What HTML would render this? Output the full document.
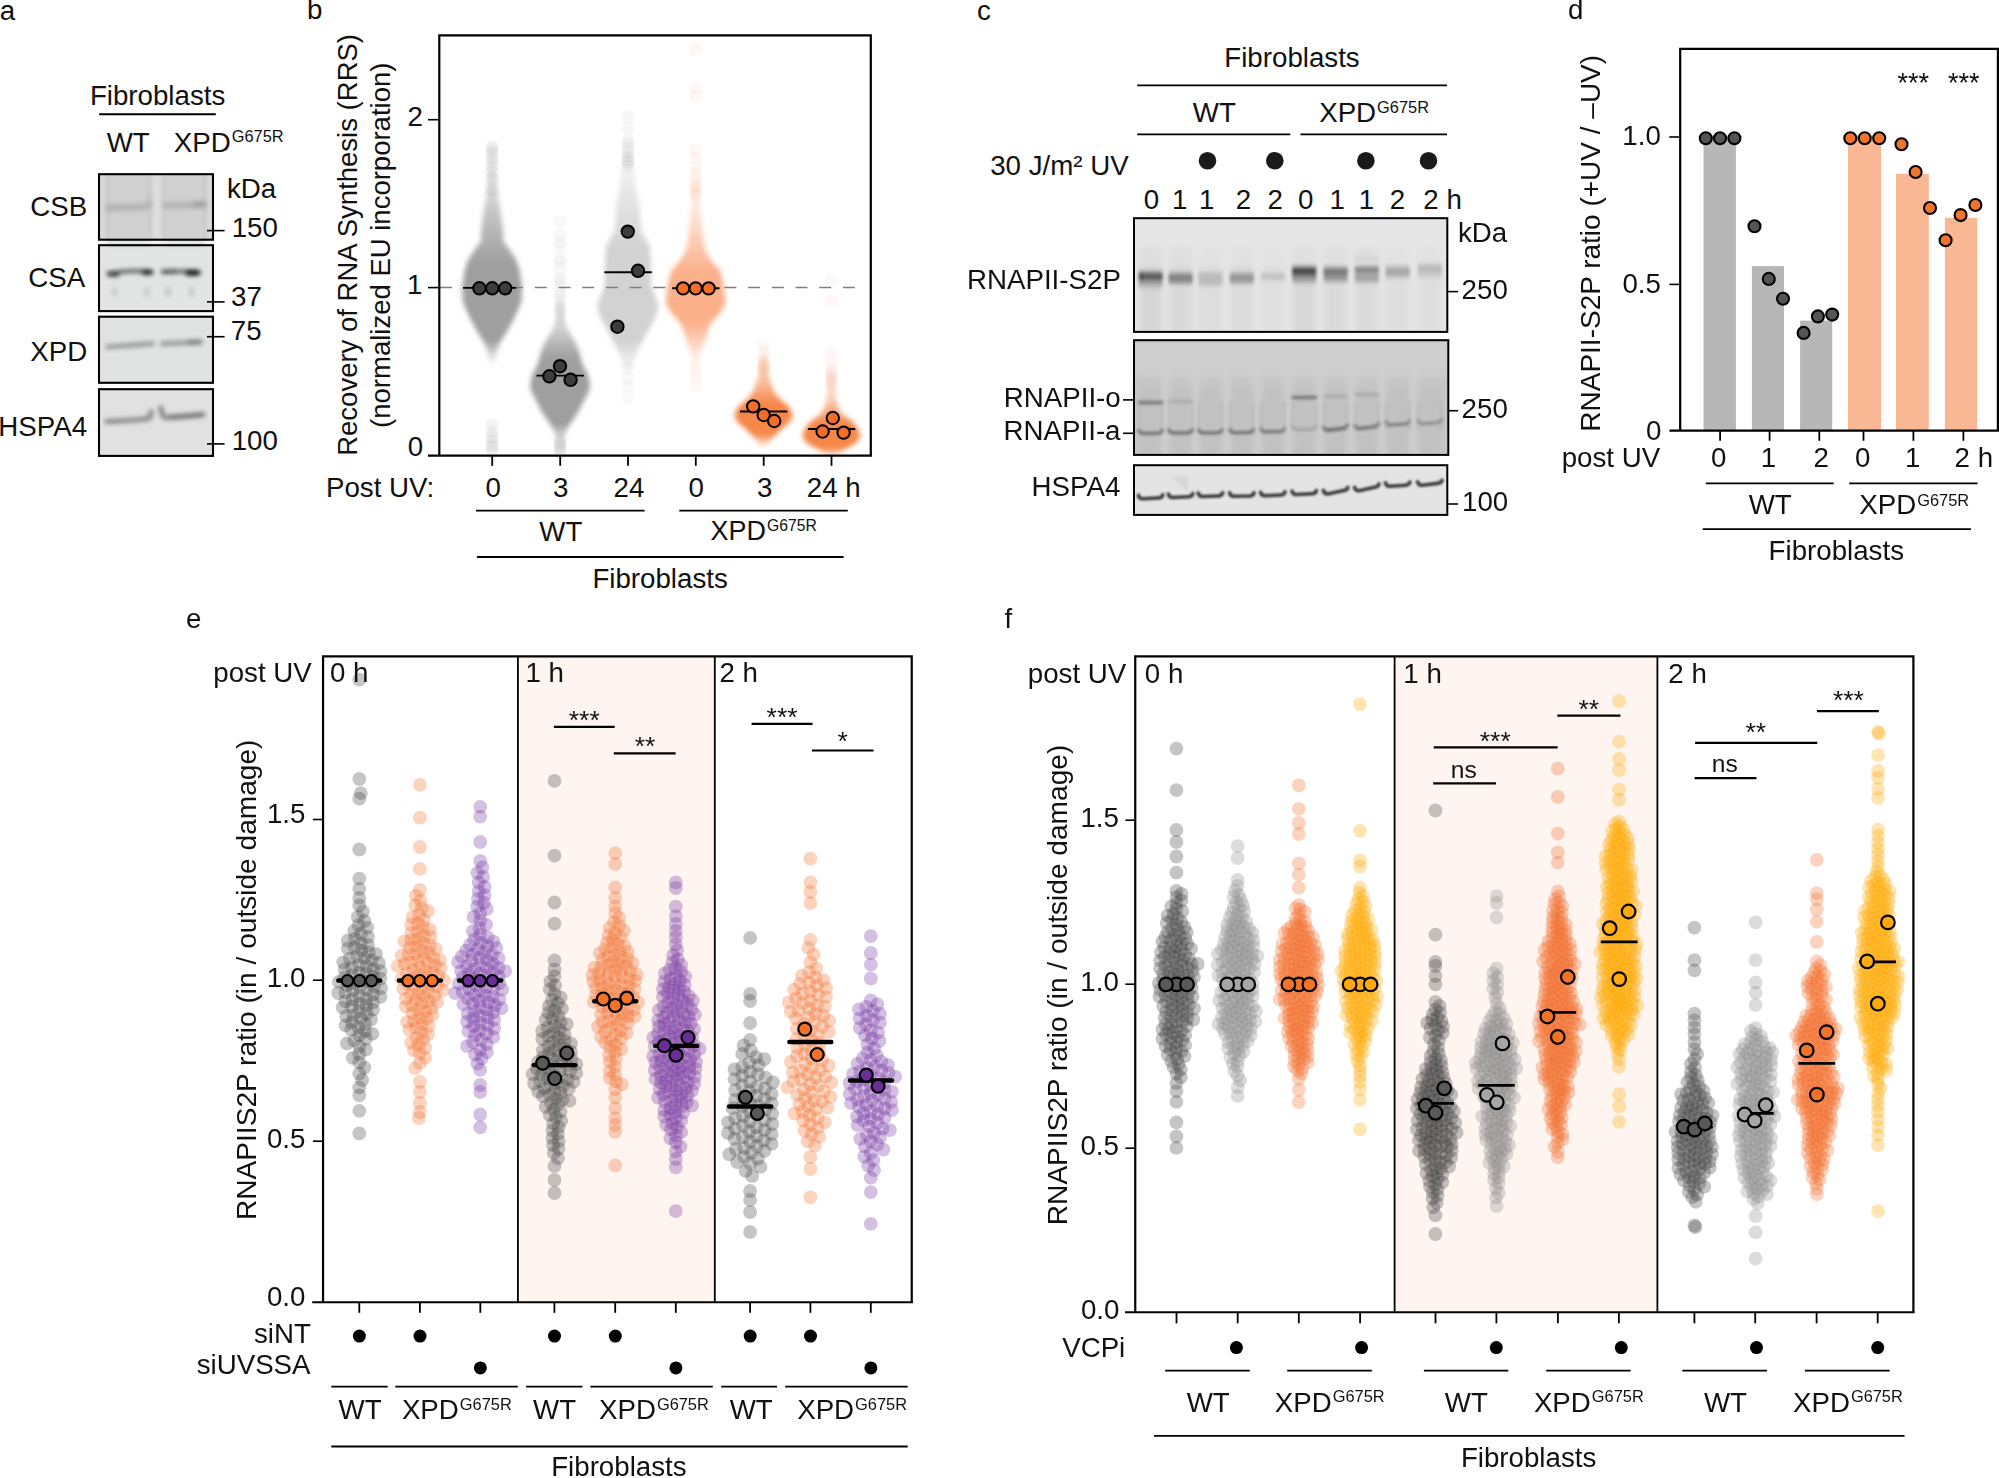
<!DOCTYPE html>
<html lang="en"><head><meta charset="utf-8"><title>Figure: RNAPII-S2P recovery after UV in XPD G675R fibroblasts</title>
<style>
html,body{margin:0;padding:0;background:#fff}
svg{display:block;font-family:"Liberation Sans",sans-serif;font-size:27.7px;fill:#111}
path{fill:none}
</style></head><body>
<svg width="1999" height="1478" viewBox="0 0 1999 1478">
<defs>
<filter id="bl1" x="-5%" y="-50%" width="110%" height="200%"><feGaussianBlur stdDeviation="0.9"/></filter>
<filter id="bl2" x="-5%" y="-50%" width="110%" height="200%"><feGaussianBlur stdDeviation="1.6"/></filter>
<filter id="bl4" x="-20%" y="-10%" width="140%" height="120%"><feGaussianBlur stdDeviation="2.4"/></filter>
<filter id="bl5" x="-5%" y="-20%" width="110%" height="140%"><feGaussianBlur stdDeviation="1.7 2.6"/></filter>
<filter id="bl1b" x="-5%" y="-50%" width="110%" height="200%"><feGaussianBlur stdDeviation="1.15"/></filter>
<filter id="bl6" x="-10%" y="-60%" width="120%" height="220%"><feGaussianBlur stdDeviation="2.4"/></filter>
<filter id="bl2b" x="-5%" y="-20%" width="110%" height="140%"><feGaussianBlur stdDeviation="1.9"/></filter>
<filter id="bl3" x="-10%" y="-10%" width="120%" height="120%"><feGaussianBlur stdDeviation="3"/></filter>
</defs>
<rect width="1999" height="1478" fill="#fff"/>

<!-- panel a -->
<text x="-0.3" y="19.5">a</text>
<text x="89.9" y="105.1">Fibroblasts</text>
<path d="M99.1 114.3H215.8" stroke="#000" stroke-width="1.9"/>
<text x="106.7" y="151.7">WT</text>
<text x="173.8" y="151.7">XPD<tspan x="231.7" y="142" font-size="16.4">G675R</tspan></text>
<clipPath id="ca"><rect x="99" y="174" width="114" height="283"/></clipPath>
<rect x="99" y="174.2" width="114" height="65.5" fill="#d9d9d9"/>
<rect x="99" y="245.2" width="114" height="65.9" fill="#e3e4e4"/>
<rect x="99" y="316.7" width="114" height="66.1" fill="#e1e2e2"/>
<rect x="99" y="389.2" width="114" height="66.7" fill="#e1e1e1"/>
<g clip-path="url(#ca)">
<g filter="url(#bl3)">
<rect x="105" y="168" width="46" height="78" fill="#cbcbcb" opacity=".6"/>
<rect x="163" y="168" width="43" height="78" fill="#cbcbcb" opacity=".6"/>
<rect x="153" y="168" width="8" height="78" fill="#e2e2e2" opacity=".6"/>
</g>
<g filter="url(#bl2)" fill="none" stroke="#bdbdbd" stroke-width="2.4" opacity=".55">
<path d="M108 176V240M150 176V240M164 176V240M204.5 176V240"/>
</g>
<g filter="url(#bl6)" fill="none" stroke-linecap="round">
<path d="M108.5 208.5Q112 207.6 120 207.2H140Q147 207 149 205" stroke="#9c9c9c" stroke-width="6.5" opacity=".62"/>
<path d="M147 204Q149.5 201 149.5 195" stroke="#aaa" stroke-width="4" opacity=".4"/>
<path d="M166 205.6Q175 205.4 185 205.3T203 204" stroke="#9c9c9c" stroke-width="6.5" opacity=".6"/>
<path d="M196 204.6H203" stroke="#8c8c8c" stroke-width="7" opacity=".5"/>
</g>
<g filter="url(#bl2b)" fill="none" stroke-linecap="round">
<path d="M108.5 273.6Q128 269.2 151 272" stroke="#6e6e6e" stroke-width="5" opacity=".9"/>
<path d="M163 271.8Q180 270.2 199 272.8" stroke="#707070" stroke-width="5" opacity=".9"/>
<path d="M110.5 274.2H117" stroke="#3a3a3a" stroke-width="5.5" opacity=".85"/>
<path d="M144.5 272.3H150" stroke="#2a2a2a" stroke-width="6" opacity=".9"/>
<path d="M165 271.8H174" stroke="#565656" stroke-width="5" opacity=".7"/>
<path d="M188.5 272.8H196.5" stroke="#1e1e1e" stroke-width="6.6" opacity=".95"/>
<path d="M114.3 289.5V294" stroke="#bcbcbc" stroke-width="6" opacity=".6"/>
<path d="M146.8 289.5V294" stroke="#bcbcbc" stroke-width="6" opacity=".6"/>
<path d="M168 289.5V294" stroke="#bcbcbc" stroke-width="6" opacity=".6"/>
<path d="M191.4 289.5V294" stroke="#bcbcbc" stroke-width="6" opacity=".6"/>
<path d="M108 346.8Q130 345.4 152 343.6" stroke="#979797" stroke-width="5.2" opacity=".9"/>
<path d="M162.5 343.6Q180 343 200.5 341.8" stroke="#979797" stroke-width="5.2" opacity=".9"/>
<path d="M190 342.3H198" stroke="#7e7e7e" stroke-width="5.6" opacity=".8"/>
<path d="M107 421.5Q130 420.6 148 418.6Q151 417.5 151 412" stroke="#878787" stroke-width="5.4" opacity=".9"/>
<path d="M161 408Q161.5 416.5 166 417.5Q185 416.6 203 414.5" stroke="#838383" stroke-width="5.4" opacity=".9"/>
<path d="M172 417.2Q188 416.4 200 415" stroke="#727272" stroke-width="4.2" opacity=".8"/>
</g></g>
<rect x="99" y="174.2" width="114" height="65.5" fill="none" stroke="#000" stroke-width="2.1"/>
<rect x="99" y="245.2" width="114" height="65.9" fill="none" stroke="#000" stroke-width="2.1"/>
<rect x="99" y="316.7" width="114" height="66.1" fill="none" stroke="#000" stroke-width="2.1"/>
<rect x="99" y="389.2" width="114" height="66.7" fill="none" stroke="#000" stroke-width="2.1"/>
<text x="30.2" y="215.6">CSB</text>
<text x="28.2" y="286.9">CSA</text>
<text x="30.3" y="361.4">XPD</text>
<text x="-1.7" y="435.9">HSPA4</text>
<text x="227" y="197.6">kDa</text>
<path d="M207 230.6H224.6" stroke="#000" stroke-width="1.6"/>
<text x="231.7" y="237.4">150</text>
<path d="M207 301.9H224.6" stroke="#000" stroke-width="1.6"/>
<text x="231.1" y="306.4">37</text>
<path d="M207 336.7H224.6" stroke="#000" stroke-width="1.6"/>
<text x="230.8" y="340.4">75</text>
<path d="M207 443.9H224.6" stroke="#000" stroke-width="1.6"/>
<text x="231.7" y="450.2">100</text>
<!-- panel b -->
<text x="307.1" y="19.3">b</text>
<text transform="translate(357.1 455.8) rotate(-90)" font-size="27.5">Recovery of RNA Synthesis (RRS)</text>
<text transform="translate(389.7 427.9) rotate(-90)" font-size="27.5">(normalized EU incorporation)</text>
<text x="407.5" y="125.5">2</text>
<text x="407.1" y="294.3">1</text>
<text x="407.7" y="456.3">0</text>
<path d="M428 119.7H438" stroke="#000" stroke-width="1.6"/>
<path d="M428 287.6H438" stroke="#000" stroke-width="1.6"/>
<g class="vb">
<g filter="url(#bl4)">
<linearGradient id="vg1" gradientUnits="userSpaceOnUse" x1="0" y1="160" x2="0" y2="363"><stop offset="0.025" stop-color="#9f9f9f" stop-opacity="0.12"/><stop offset="0.264" stop-color="#9f9f9f" stop-opacity="0.62"/><stop offset="0.502" stop-color="#9f9f9f"/><stop offset="0.887" stop-color="#9f9f9f"/><stop offset="1.000" stop-color="#9f9f9f" stop-opacity="0.1"/></linearGradient>
<path d="M488.3 160L486 197L482.3 222L481 232L481 241L473.8 251L467.7 261L464.6 270.5L462.1 287.6L462.9 302L470.3 319L478.7 334L484.8 343.6L487.9 353L489.8 363L494.4 363L496.3 353L499.4 343.6L505.5 334L513.9 319L521.3 302L522.1 287.6L519.6 270.5L516.5 261L510.4 251L503.2 241L503.2 232L501.9 222L498.2 197L495.9 160Z" style="fill:url(#vg1)"/>
<linearGradient id="vg2" gradientUnits="userSpaceOnUse" x1="0" y1="300" x2="0" y2="444"><stop offset="0.000" stop-color="#9f9f9f" stop-opacity="0.12"/><stop offset="0.201" stop-color="#9f9f9f" stop-opacity="0.5"/><stop offset="0.403" stop-color="#9f9f9f"/><stop offset="0.861" stop-color="#9f9f9f"/><stop offset="1.000" stop-color="#9f9f9f" stop-opacity="0.1"/></linearGradient>
<path d="M557.3 300L556.3 319L552.8 329L544.3 343.6L540.6 353.3L538.3 363L532.1 375.3L530.1 385L530.8 390L534.5 397.2L541.8 411.8L551.6 426.4L556.3 436.2L557.8 444L562.4 444L563.9 436.2L568.6 426.4L578.4 411.8L585.7 397.2L589.4 390L590.1 385L588.1 375.3L581.9 363L579.6 353.3L575.9 343.6L567.4 329L563.9 319L562.9 300Z" style="fill:url(#vg2)"/>
<linearGradient id="vg3" gradientUnits="userSpaceOnUse" x1="0" y1="150" x2="0" y2="373"><stop offset="0.000" stop-color="#d2d2d2" stop-opacity="0.12"/><stop offset="0.224" stop-color="#d2d2d2" stop-opacity="0.6"/><stop offset="0.448" stop-color="#d2d2d2"/><stop offset="0.852" stop-color="#d2d2d2"/><stop offset="1.000" stop-color="#d2d2d2" stop-opacity="0.1"/></linearGradient>
<path d="M624.1 150L620.1 180L619.1 192L616.1 205L615.7 217L614.5 231.5L606.1 246L604.7 265.6L604.7 285L601.1 295L597.4 304.6L598.6 312L601.1 319L609.6 334L617.1 348.5L623.1 363L625.6 373L630.2 373L632.7 363L638.7 348.5L646.2 334L654.7 319L657.2 312L658.4 304.6L654.7 295L651.1 285L651.1 265.6L649.7 246L641.3 231.5L640.1 217L639.7 205L636.7 192L635.7 180L631.7 150Z" style="fill:url(#vg3)"/>
<linearGradient id="vg4" gradientUnits="userSpaceOnUse" x1="0" y1="185" x2="0" y2="364"><stop offset="0.000" stop-color="#fbb08a" stop-opacity="0.12"/><stop offset="0.243" stop-color="#fbb08a" stop-opacity="0.5"/><stop offset="0.486" stop-color="#fbb08a"/><stop offset="0.765" stop-color="#fbb08a"/><stop offset="1.000" stop-color="#fbb08a" stop-opacity="0.1"/></linearGradient>
<path d="M692.9 185L691.9 192.6L690.9 209.6L688.4 236.4L685.9 251L679.9 260.8L671.3 270.5L667.7 285L665.7 302L667.9 308L672.5 314.4L681.1 324L685.9 338.7L690.9 353.3L693.4 364L698 364L700.5 353.3L705.5 338.7L710.3 324L718.9 314.4L723.5 308L725.7 302L723.7 285L720.1 270.5L711.5 260.8L705.5 251L703 236.4L700.5 209.6L699.5 192.6L698.5 185Z" style="fill:url(#vg4)"/>
<linearGradient id="vg5" gradientUnits="userSpaceOnUse" x1="0" y1="356" x2="0" y2="447"><stop offset="0.000" stop-color="#f5874a" stop-opacity="0.12"/><stop offset="0.264" stop-color="#f5874a" stop-opacity="0.5"/><stop offset="0.527" stop-color="#f5874a"/><stop offset="0.857" stop-color="#f5874a"/><stop offset="1.000" stop-color="#f5874a" stop-opacity="0.1"/></linearGradient>
<path d="M760.8 356L760.4 368L756.3 382.6L752.8 392.3L746.8 399.6L738 407L734.3 414.2L736.8 421.6L747.8 431.3L757.5 441L761.3 447L765.9 447L769.7 441L779.4 431.3L790.4 421.6L792.9 414.2L789.2 407L780.4 399.6L774.4 392.3L770.9 382.6L766.8 368L766.4 356Z" style="fill:url(#vg5)"/>
<linearGradient id="vg6" gradientUnits="userSpaceOnUse" x1="0" y1="372" x2="0" y2="455.5"><stop offset="0.048" stop-color="#f5874a" stop-opacity="0.12"/><stop offset="0.335" stop-color="#f5874a" stop-opacity="0.45"/><stop offset="0.623" stop-color="#f5874a"/><stop offset="0.910" stop-color="#f5874a"/><stop offset="1.000" stop-color="#f5874a" stop-opacity="0.1"/></linearGradient>
<path d="M828.6 372L827.6 392.3L825.8 404.5L820.6 414.2L810.6 421.6L804.6 428.9L802.1 436.2L807 443.5L820.6 450.8L828.6 455.5L834.2 455.5L842.2 450.8L855.8 443.5L860.7 436.2L858.2 428.9L852.2 421.6L842.2 414.2L837 404.5L835.2 392.3L834.2 372Z" style="fill:url(#vg6)"/>
</g>
<g fill="#3d3d3d" fill-opacity="0.05"><circle cx="492.1" cy="148" r="6.6"/><circle cx="492.1" cy="160" r="6.6"/><circle cx="492.1" cy="172" r="6.6"/><circle cx="492.1" cy="153" r="6.6"/><circle cx="492.1" cy="165" r="6.6"/><circle cx="492.1" cy="178" r="6.6"/><circle cx="492.1" cy="190" r="6.6"/><circle cx="492.1" cy="425" r="6.6"/><circle cx="492.1" cy="432" r="6.6"/><circle cx="492.1" cy="440" r="6.6"/><circle cx="492.1" cy="447" r="6.6"/><circle cx="492.1" cy="452" r="6.6"/><circle cx="492.1" cy="437" r="6.6"/><circle cx="492.1" cy="445" r="6.6"/></g>
<g fill="#3d3d3d" fill-opacity="0.03"><circle cx="492.1" cy="146" r="6.6"/><circle cx="492.1" cy="151" r="6.6"/><circle cx="492.1" cy="157" r="6.6"/></g>
<g fill="#3d3d3d" fill-opacity="0.03"><circle cx="560.1" cy="222" r="6.6"/><circle cx="560.1" cy="235" r="6.6"/><circle cx="560.1" cy="246" r="6.6"/><circle cx="560.1" cy="258" r="6.6"/><circle cx="560.1" cy="268" r="6.6"/><circle cx="560.1" cy="278" r="6.6"/><circle cx="560.1" cy="286" r="6.6"/><circle cx="560.1" cy="292" r="6.6"/><circle cx="560.1" cy="300" r="6.6"/><circle cx="560.1" cy="306" r="6.6"/><circle cx="560.1" cy="312" r="6.6"/><circle cx="560.1" cy="318" r="6.6"/><circle cx="560.1" cy="243" r="6.6"/><circle cx="560.1" cy="262" r="6.6"/><circle cx="560.1" cy="281" r="6.6"/><circle cx="560.1" cy="296" r="6.6"/><circle cx="560.1" cy="308" r="6.6"/></g>
<g fill="#3d3d3d" fill-opacity="0.06"><circle cx="560.1" cy="440" r="6.6"/><circle cx="560.1" cy="446" r="6.6"/><circle cx="560.1" cy="452" r="6.6"/><circle cx="560.1" cy="449" r="6.6"/><circle cx="560.1" cy="443" r="6.6"/></g>
<g fill="#3d3d3d" fill-opacity="0.045"><circle cx="627.9" cy="117" r="6.6"/><circle cx="627.9" cy="128" r="6.6"/><circle cx="627.9" cy="140" r="6.6"/><circle cx="627.9" cy="148" r="6.6"/><circle cx="627.9" cy="156" r="6.6"/><circle cx="627.9" cy="162" r="6.6"/><circle cx="627.9" cy="143" r="6.6"/><circle cx="627.9" cy="152" r="6.6"/><circle cx="627.9" cy="160" r="6.6"/><circle cx="627.9" cy="166" r="6.6"/></g>
<g fill="#3d3d3d" fill-opacity="0.03"><circle cx="627.9" cy="368" r="6.6"/><circle cx="627.9" cy="378" r="6.6"/><circle cx="627.9" cy="386" r="6.6"/><circle cx="627.9" cy="397" r="6.6"/></g>
<g fill="#f26c2a" fill-opacity="0.05"><circle cx="695.7" cy="50" r="6.6"/><circle cx="695.7" cy="88" r="6.6"/><circle cx="695.7" cy="97" r="6.6"/><circle cx="695.7" cy="150" r="6.6"/><circle cx="695.7" cy="168" r="6.6"/><circle cx="695.7" cy="158" r="6.6"/><circle cx="695.7" cy="180" r="6.6"/><circle cx="695.7" cy="188" r="6.6"/><circle cx="695.7" cy="196" r="6.6"/><circle cx="695.7" cy="175" r="6.6"/><circle cx="695.7" cy="185" r="6.6"/><circle cx="695.7" cy="192" r="6.6"/></g>
<g fill="#f26c2a" fill-opacity="0.04"><circle cx="695.7" cy="365" r="6.6"/><circle cx="695.7" cy="372" r="6.6"/><circle cx="695.7" cy="378" r="6.6"/><circle cx="695.7" cy="386" r="6.6"/></g>
<g fill="#f26c2a" fill-opacity="0.05"><circle cx="763.6" cy="345" r="6.6"/><circle cx="763.6" cy="352" r="6.6"/><circle cx="763.6" cy="358" r="6.6"/><circle cx="763.6" cy="364" r="6.6"/><circle cx="763.6" cy="368" r="6.6"/><circle cx="763.6" cy="370" r="6.6"/><circle cx="763.6" cy="374" r="6.6"/><circle cx="763.6" cy="362" r="6.6"/><circle cx="763.6" cy="366" r="6.6"/></g>
<g fill="#f26c2a" fill-opacity="0.04"><circle cx="831.4" cy="280" r="6.6"/><circle cx="831.4" cy="301" r="6.6"/><circle cx="831.4" cy="352" r="6.6"/><circle cx="831.4" cy="362" r="6.6"/><circle cx="831.4" cy="368" r="6.6"/><circle cx="831.4" cy="374" r="6.6"/><circle cx="831.4" cy="378" r="6.6"/><circle cx="831.4" cy="382" r="6.6"/><circle cx="831.4" cy="386" r="6.6"/><circle cx="831.4" cy="372" r="6.6"/><circle cx="831.4" cy="380" r="6.6"/></g>
</g>
<path d="M440 287.6H858" stroke="#7f7f7f" stroke-width="1.5" stroke-dasharray="12 11.7"/>
<path d="M463 287.9H516.2" stroke="#000" stroke-width="1.9"/>
<circle cx="479.4" cy="288.3" r="6.2" fill="#3d3d3d" stroke="#000" stroke-width="2"/>
<circle cx="492.2" cy="288.3" r="6.2" fill="#3d3d3d" stroke="#000" stroke-width="2"/>
<circle cx="505.2" cy="288.3" r="6.2" fill="#3d3d3d" stroke="#000" stroke-width="2"/>
<path d="M536.5 375.6H583.9" stroke="#000" stroke-width="1.9"/>
<circle cx="549.4" cy="376.3" r="6.2" fill="#3d3d3d" stroke="#000" stroke-width="2"/>
<circle cx="560" cy="366.2" r="6.2" fill="#3d3d3d" stroke="#000" stroke-width="2"/>
<circle cx="570.6" cy="379.8" r="6.2" fill="#3d3d3d" stroke="#000" stroke-width="2"/>
<path d="M604.4 272.3H651.8" stroke="#000" stroke-width="1.9"/>
<circle cx="627.8" cy="231.6" r="6.2" fill="#3d3d3d" stroke="#000" stroke-width="2"/>
<circle cx="638" cy="270.8" r="6.2" fill="#3d3d3d" stroke="#000" stroke-width="2"/>
<circle cx="617.4" cy="326.7" r="6.2" fill="#3d3d3d" stroke="#000" stroke-width="2"/>
<path d="M672.1 288.3H719.5" stroke="#000" stroke-width="1.9"/>
<circle cx="683.1" cy="288.4" r="6.2" fill="#f26c2a" stroke="#000" stroke-width="2"/>
<circle cx="695.7" cy="288.4" r="6.2" fill="#f26c2a" stroke="#000" stroke-width="2"/>
<circle cx="708.6" cy="288.4" r="6.2" fill="#f26c2a" stroke="#000" stroke-width="2"/>
<path d="M740 411.5H787.4" stroke="#000" stroke-width="1.9"/>
<circle cx="753.2" cy="406.4" r="6.2" fill="#f26c2a" stroke="#000" stroke-width="2"/>
<circle cx="763.7" cy="415" r="6.2" fill="#f26c2a" stroke="#000" stroke-width="2"/>
<circle cx="774.2" cy="421" r="6.2" fill="#f26c2a" stroke="#000" stroke-width="2"/>
<path d="M807.9 429H855.3" stroke="#000" stroke-width="1.9"/>
<circle cx="832.8" cy="418" r="6.2" fill="#f26c2a" stroke="#000" stroke-width="2"/>
<circle cx="822.6" cy="431.5" r="6.2" fill="#f26c2a" stroke="#000" stroke-width="2"/>
<circle cx="843.6" cy="432.6" r="6.2" fill="#f26c2a" stroke="#000" stroke-width="2"/>
<path d="M439.3 455.6V35.3H870.8V455.6" fill="none" stroke="#000" stroke-width="2.2"/>
<path d="M428 455.6H871.9" stroke="#000" stroke-width="2.1"/>
<path d="M492.2 456V465.8" stroke="#000" stroke-width="1.8"/>
<path d="M560.2 456V465.8" stroke="#000" stroke-width="1.8"/>
<path d="M628 456V465.8" stroke="#000" stroke-width="1.8"/>
<path d="M695.8 456V465.8" stroke="#000" stroke-width="1.8"/>
<path d="M763.7 456V465.8" stroke="#000" stroke-width="1.8"/>
<path d="M831.5 456V465.8" stroke="#000" stroke-width="1.8"/>
<text x="326" y="496.8">Post UV:</text>
<text x="485.5" y="496.8">0</text>
<text x="553" y="496.8">3</text>
<text x="613.6" y="496.8">24</text>
<text x="688.4" y="496.8">0</text>
<text x="756.9" y="496.8">3</text>
<text x="806.8" y="496.8">24 h</text>
<path d="M476 510.6H644.6" stroke="#000" stroke-width="1.8"/>
<path d="M679.3 510.6H847.8" stroke="#000" stroke-width="1.8"/>
<text x="539.3" y="540.6">WT</text>
<text x="710.6" y="540" font-size="26.9">XPD<tspan x="767" y="531" font-size="15.7">G675R</tspan></text>
<path d="M476.9 557H843.6" stroke="#000" stroke-width="1.8"/>
<text x="592.4" y="588">Fibroblasts</text>
<!-- panel c -->
<text x="977.1" y="19.5">c</text>
<text x="1224.3" y="66.8">Fibroblasts</text>
<path d="M1137.2 85.3H1447" stroke="#000" stroke-width="1.8"/>
<text x="1192.8" y="122">WT</text>
<text x="1319.2" y="122">XPD<tspan x="1377.1" y="112.7" font-size="16.4">G675R</tspan></text>
<path d="M1137.2 134.4H1290.3" stroke="#000" stroke-width="1.8"/>
<path d="M1300.5 134.4H1447" stroke="#000" stroke-width="1.8"/>
<text x="990.2" y="175">30 J/m² UV</text>
<circle cx="1207.5" cy="160.7" r="8.8" fill="#1a1a1a"/>
<circle cx="1274.8" cy="160.7" r="8.8" fill="#1a1a1a"/>
<circle cx="1365.9" cy="160.7" r="8.8" fill="#1a1a1a"/>
<circle cx="1428.5" cy="160.7" r="8.8" fill="#1a1a1a"/>
<text x="1143.8" y="208.8">0</text>
<text x="1171.9" y="208.8">1</text>
<text x="1199.1" y="208.8">1</text>
<text x="1235.7" y="208.8">2</text>
<text x="1267.6" y="208.8">2</text>
<text x="1297.9" y="208.8">0</text>
<text x="1329.5" y="208.8">1</text>
<text x="1358.8" y="208.8">1</text>
<text x="1389.7" y="208.8">2</text>
<text x="1423.3" y="208.8">2</text>
<text x="1446.6" y="208.8">h</text>
<rect x="1134" y="218.2" width="313.3" height="113.7" fill="#e6e6e6"/>
<rect x="1134" y="340.2" width="314.3" height="114.7" fill="#c7c7c7"/>
<rect x="1134" y="465.2" width="313.3" height="49.7" fill="#e4e4e4"/>
<clipPath id="cc1"><rect x="1134" y="218.2" width="313.3" height="113.7"/></clipPath>
<clipPath id="cc2"><rect x="1134" y="340.2" width="314.3" height="114.7"/></clipPath>
<clipPath id="cc3"><rect x="1134" y="465.2" width="313.3" height="49.7"/></clipPath>
<g clip-path="url(#cc1)">
<g filter="url(#bl3)">
<rect x="1139.4" y="266" width="22.4" height="70" fill="#c9c9c9" opacity="0.55"/>
<rect x="1139.4" y="246" width="22.4" height="24" fill="#d4d4d4" opacity="0.44"/>
<rect x="1169.4" y="266" width="22.4" height="70" fill="#c9c9c9" opacity="0.45"/>
<rect x="1169.4" y="246" width="22.4" height="24" fill="#d4d4d4" opacity="0.36"/>
<rect x="1199.2" y="266" width="22.4" height="70" fill="#c9c9c9" opacity="0.30"/>
<rect x="1199.2" y="246" width="22.4" height="24" fill="#d4d4d4" opacity="0.24"/>
<rect x="1230.6" y="266" width="22.4" height="70" fill="#c9c9c9" opacity="0.35"/>
<rect x="1230.6" y="246" width="22.4" height="24" fill="#d4d4d4" opacity="0.28"/>
<rect x="1261.6" y="266" width="22.4" height="70" fill="#c9c9c9" opacity="0.22"/>
<rect x="1261.6" y="246" width="22.4" height="24" fill="#d4d4d4" opacity="0.18"/>
<rect x="1293" y="266" width="22.4" height="70" fill="#c9c9c9" opacity="0.50"/>
<rect x="1293" y="246" width="22.4" height="24" fill="#d4d4d4" opacity="0.40"/>
<rect x="1324.4" y="266" width="22.4" height="70" fill="#c9c9c9" opacity="0.42"/>
<rect x="1324.4" y="246" width="22.4" height="24" fill="#d4d4d4" opacity="0.34"/>
<rect x="1355.6" y="266" width="22.4" height="70" fill="#c9c9c9" opacity="0.40"/>
<rect x="1355.6" y="246" width="22.4" height="24" fill="#d4d4d4" opacity="0.32"/>
<rect x="1386.5" y="266" width="22.4" height="70" fill="#c9c9c9" opacity="0.28"/>
<rect x="1386.5" y="246" width="22.4" height="24" fill="#d4d4d4" opacity="0.22"/>
<rect x="1418.6" y="266" width="22.4" height="70" fill="#c9c9c9" opacity="0.25"/>
<rect x="1418.6" y="246" width="22.4" height="24" fill="#d4d4d4" opacity="0.20"/>
</g>
<g filter="url(#bl5)" opacity=".84">
<rect x="1138.6" y="272.4" width="24" height="8.5" fill="#3c3c3c"/>
<rect x="1138.6" y="280" width="24" height="7" fill="#8a8a8a" opacity="0.7"/>
<rect x="1168.6" y="273.2" width="24" height="10" fill="#6c6c6c" opacity="0.95"/>
<rect x="1198.4" y="273.1" width="24" height="5" fill="#a2a2a2" opacity="0.9"/>
<rect x="1198.4" y="279.6" width="24" height="5.5" fill="#a6a6a6" opacity="0.9"/>
<rect x="1229.8" y="273.2" width="24" height="10" fill="#838383" opacity="0.95"/>
<rect x="1260.8" y="273.6" width="24" height="6" fill="#b0b0b0" opacity="0.9"/>
<rect x="1292.2" y="267.4" width="24" height="8" fill="#1c1c1c"/>
<rect x="1292.2" y="275.1" width="24" height="7" fill="#787878" opacity="0.8"/>
<rect x="1323.6" y="267.9" width="24" height="6.5" fill="#5c5c5c"/>
<rect x="1323.6" y="274.3" width="24" height="7" fill="#7e7e7e" opacity="0.9"/>
<rect x="1354.8" y="266.8" width="24" height="6.5" fill="#6a6a6a"/>
<rect x="1354.8" y="275.1" width="24" height="6.5" fill="#868686" opacity="0.9"/>
<rect x="1354.8" y="256.5" width="24" height="4" fill="#cacaca" opacity="0.8"/>
<rect x="1385.7" y="266.8" width="24" height="10" fill="#999" opacity="0.95"/>
<rect x="1417.8" y="264.8" width="24" height="6" fill="#a8a8a8" opacity="0.95"/>
<rect x="1417.8" y="270.8" width="24" height="6" fill="#bebebe" opacity="0.9"/>
<rect x="1139" y="272.5" width="5" height="8" fill="#222" opacity=".6"/>
</g>
<g stroke="#bdbdbd" stroke-width="1.4" opacity=".8" filter="url(#bl1)">
<path d="M1140.6 221.3H1160.6"/>
<path d="M1170.6 221.3H1190.6"/>
<path d="M1200.4 221.3H1220.4"/>
<path d="M1231.8 221.3H1251.8"/>
<path d="M1262.8 221.3H1282.8"/>
</g></g>
<g clip-path="url(#cc2)">
<g filter="url(#bl3)">
<rect x="1130" y="336" width="322" height="40" fill="#d2d2d2" opacity=".6"/>
<rect x="1139.9" y="388" width="21.4" height="75" fill="#bcbcbc" opacity=".5"/>
<rect x="1169.9" y="388" width="21.4" height="75" fill="#bcbcbc" opacity=".5"/>
<rect x="1199.7" y="388" width="21.4" height="75" fill="#bcbcbc" opacity=".5"/>
<rect x="1231.1" y="388" width="21.4" height="75" fill="#bcbcbc" opacity=".5"/>
<rect x="1262.1" y="388" width="21.4" height="75" fill="#bcbcbc" opacity=".5"/>
<rect x="1293.5" y="388" width="21.4" height="75" fill="#bcbcbc" opacity=".5"/>
<rect x="1324.9" y="388" width="21.4" height="75" fill="#bcbcbc" opacity=".5"/>
<rect x="1356.1" y="388" width="21.4" height="75" fill="#bcbcbc" opacity=".5"/>
<rect x="1387" y="388" width="21.4" height="75" fill="#bcbcbc" opacity=".5"/>
<rect x="1419.1" y="388" width="21.4" height="75" fill="#bcbcbc" opacity=".5"/>
<rect x="1163.6" y="372" width="4" height="90" fill="#d8d8d8" opacity=".75"/>
<rect x="1193.5" y="372" width="4" height="90" fill="#d8d8d8" opacity=".75"/>
<rect x="1224.1" y="372" width="4" height="90" fill="#d8d8d8" opacity=".75"/>
<rect x="1255.3" y="372" width="4" height="90" fill="#d8d8d8" opacity=".75"/>
<rect x="1286.5" y="372" width="4" height="90" fill="#d8d8d8" opacity=".75"/>
<rect x="1317.9" y="372" width="4" height="90" fill="#d8d8d8" opacity=".75"/>
<rect x="1349.2" y="372" width="4" height="90" fill="#d8d8d8" opacity=".75"/>
<rect x="1380.2" y="372" width="4" height="90" fill="#d8d8d8" opacity=".75"/>
<rect x="1411.8" y="372" width="4" height="90" fill="#d8d8d8" opacity=".75"/>
</g>
<g filter="url(#bl2)" stroke-linecap="round" fill="none">
<path d="M1139.4 402.6H1161.8" stroke="#7a7a7a" stroke-width="3.6" opacity="1"/>
<path d="M1169.4 401.5H1191.8" stroke="#a0a0a0" stroke-width="3" opacity="0.7"/>
<path d="M1293 397.5H1315.4" stroke="#787878" stroke-width="3.6" opacity="1"/>
<path d="M1324.4 396.5H1346.8" stroke="#a2a2a2" stroke-width="3" opacity="0.7"/>
<path d="M1355.6 394.6H1378" stroke="#9a9a9a" stroke-width="2.6" opacity="0.7"/>
<path d="M1138.9 430Q1139.4 433.3 1143.4 433.4L1157.8 433.2Q1161.8 433 1162.3 430" stroke="#5e5e5e" stroke-width="3.4" opacity=".8"/>
<path d="M1168.9 429.5Q1169.4 432.8 1173.4 432.9L1187.8 432.7Q1191.8 432.5 1192.3 429.5" stroke="#5a5a5a" stroke-width="3.4" opacity=".8"/>
<path d="M1198.7 429.5Q1199.2 432.8 1203.2 432.9L1217.6 432.7Q1221.6 432.5 1222.1 429.5" stroke="#5e5e5e" stroke-width="3.4" opacity=".8"/>
<path d="M1230.1 429.2Q1230.6 432.5 1234.6 432.6L1249 432.4Q1253 432.2 1253.5 429.2" stroke="#5c5c5c" stroke-width="3.4" opacity=".8"/>
<path d="M1261.1 428.4Q1261.6 431.7 1265.6 431.8L1280 431.6Q1284 431.4 1284.5 428.4" stroke="#666" stroke-width="3.4" opacity=".8"/>
<path d="M1292.5 426Q1293 429.3 1297 429.4L1311.4 429.2Q1315.4 429 1315.9 426" stroke="#9a9a9a" stroke-width="3" opacity=".8"/>
<path d="M1323.9 427.2Q1324.4 430.5 1328.4 430.1L1342.8 428.5Q1346.8 427.8 1347.3 424.8" stroke="#585858" stroke-width="3.6" opacity=".8"/>
<path d="M1355.1 425.6Q1355.6 428.9 1359.6 428.5L1374 426.9Q1378 426.2 1378.5 423.2" stroke="#626262" stroke-width="3.4" opacity=".8"/>
<path d="M1386 421.8Q1386.5 425.1 1390.5 425L1404.9 424Q1408.9 423.6 1409.4 420.6" stroke="#6a6a6a" stroke-width="3.2" opacity=".8"/>
<path d="M1418.1 420.5Q1418.6 423.8 1422.6 423.7L1437 422.7Q1441 422.3 1441.5 419.3" stroke="#7c7c7c" stroke-width="3" opacity=".8"/>
<path d="M1139.2 403V430M1162 403V430" stroke="#a6a6a6" stroke-width="1.8" opacity=".5"/>
<path d="M1169.2 403V430M1192 403V430" stroke="#a6a6a6" stroke-width="1.8" opacity=".5"/>
<path d="M1199 403V430M1221.8 403V430" stroke="#a6a6a6" stroke-width="1.8" opacity=".5"/>
<path d="M1230.4 403V430M1253.2 403V430" stroke="#a6a6a6" stroke-width="1.8" opacity=".5"/>
<path d="M1261.4 403V430M1284.2 403V430" stroke="#a6a6a6" stroke-width="1.8" opacity=".5"/>
<path d="M1292.8 403V430M1315.6 403V430" stroke="#a6a6a6" stroke-width="1.8" opacity=".5"/>
<path d="M1324.2 403V430M1347 403V430" stroke="#a6a6a6" stroke-width="1.8" opacity=".5"/>
<path d="M1355.4 403V430M1378.2 403V430" stroke="#a6a6a6" stroke-width="1.8" opacity=".5"/>
<path d="M1386.3 403V430M1409.1 403V430" stroke="#a6a6a6" stroke-width="1.8" opacity=".5"/>
<path d="M1418.4 403V430M1441.2 403V430" stroke="#a6a6a6" stroke-width="1.8" opacity=".5"/>
</g></g>
<g clip-path="url(#cc3)">
<g filter="url(#bl1b)" stroke-linecap="round" fill="none">
<path d="M1138.4 495.2Q1139 498.8 1142.9 498.7L1158.3 498Q1162.2 497.8 1162.8 494.8" stroke="#3a3a3a" stroke-width="3.6"/>
<path d="M1168.4 494Q1169 497.6 1172.9 497.5L1188.3 496.8Q1192.2 496.6 1192.8 493.6" stroke="#3a3a3a" stroke-width="3.6"/>
<path d="M1198.2 493Q1198.8 496.6 1202.7 496.5L1218.1 496Q1222 495.8 1222.6 492.8" stroke="#3a3a3a" stroke-width="3.6"/>
<path d="M1229.6 492.8Q1230.2 496.4 1234.1 496.3L1249.5 496Q1253.4 495.8 1254 492.8" stroke="#3a3a3a" stroke-width="3.6"/>
<path d="M1260.6 492.2Q1261.2 495.8 1265.1 495.7L1280.5 495Q1284.4 494.8 1285 491.8" stroke="#3a3a3a" stroke-width="3.6"/>
<path d="M1292 491Q1292.6 494.6 1296.5 494.5L1311.9 493.8Q1315.8 493.6 1316.4 490.6" stroke="#3a3a3a" stroke-width="3.6"/>
<path d="M1323.4 490.4Q1324 494 1327.9 493.9L1343.3 490.6Q1347.2 490.4 1347.8 487.4" stroke="#3a3a3a" stroke-width="3.6"/>
<path d="M1354.6 487.2Q1355.2 490.8 1359.1 490.7L1374.5 487.2Q1378.4 487 1379 484" stroke="#3a3a3a" stroke-width="3.6"/>
<path d="M1385.5 482.8Q1386.1 486.4 1390 486.3L1405.4 485.2Q1409.3 485 1409.9 482" stroke="#3a3a3a" stroke-width="3.6"/>
<path d="M1417.6 481.8Q1418.2 485.4 1422.1 485.3L1437.5 483.4Q1441.4 483.2 1442 480.2" stroke="#3a3a3a" stroke-width="3.6"/>
</g>
<path d="M1172 476.5L1187.5 476.5L1187.5 492Z" style="fill:#cdcdcd" opacity=".55" filter="url(#bl1)"/>
</g>
<rect x="1134" y="218.2" width="313.3" height="113.7" fill="none" stroke="#000" stroke-width="2.0"/>
<rect x="1134" y="340.2" width="314.3" height="114.7" fill="none" stroke="#000" stroke-width="2.0"/>
<rect x="1134" y="465.2" width="313.3" height="49.7" fill="none" stroke="#000" stroke-width="2.0"/>
<text x="967" y="288.9">RNAPII-S2P</text>
<text x="1003.8" y="406.8">RNAPII-o</text>
<text x="1003.6" y="440.1">RNAPII-a</text>
<text x="1031.6" y="496.3">HSPA4</text>
<path d="M1123 399.9H1133" stroke="#000" stroke-width="1.6"/>
<path d="M1123 433.3H1133" stroke="#000" stroke-width="1.6"/>
<text x="1458" y="241.9">kDa</text>
<text x="1461.6" y="298.6">250</text>
<text x="1461.6" y="417.6">250</text>
<text x="1462" y="510.6">100</text>
<path d="M1448.1 291.6H1458.1" stroke="#000" stroke-width="1.6"/>
<path d="M1448.6 410.7H1458.1" stroke="#000" stroke-width="1.6"/>
<path d="M1448.1 504H1458.1" stroke="#000" stroke-width="1.6"/>
<!-- panel d -->
<text x="1567.9" y="19.3">d</text>
<text transform="translate(1600.2 431.7) rotate(-90)" font-size="28">RNAPII-S2P ratio (+UV / –UV)</text>
<rect x="1703.5" y="137.5" width="32.4" height="293.5" fill="#b7b7b7"/>
<rect x="1751.9" y="266.1" width="32.1" height="164.9" fill="#b7b7b7"/>
<rect x="1800.1" y="320.6" width="32.1" height="110.4" fill="#b7b7b7"/>
<rect x="1848" y="137.5" width="33" height="293.5" fill="#f9b793"/>
<rect x="1896" y="173.9" width="32.8" height="257.1" fill="#f9b793"/>
<rect x="1944.9" y="217.8" width="32.3" height="213.2" fill="#f9b793"/>
<circle cx="1705.8" cy="138.2" r="6" fill="#555" stroke="#000" stroke-width="2.1"/>
<circle cx="1720" cy="138.2" r="6" fill="#555" stroke="#000" stroke-width="2.1"/>
<circle cx="1734.4" cy="138.2" r="6" fill="#555" stroke="#000" stroke-width="2.1"/>
<circle cx="1754.5" cy="226.3" r="6" fill="#555" stroke="#000" stroke-width="2.1"/>
<circle cx="1768.8" cy="278.9" r="6" fill="#555" stroke="#000" stroke-width="2.1"/>
<circle cx="1783" cy="298.8" r="6" fill="#555" stroke="#000" stroke-width="2.1"/>
<circle cx="1803.6" cy="332.9" r="6" fill="#555" stroke="#000" stroke-width="2.1"/>
<circle cx="1817.9" cy="316.4" r="6" fill="#555" stroke="#000" stroke-width="2.1"/>
<circle cx="1832.2" cy="314.6" r="6" fill="#555" stroke="#000" stroke-width="2.1"/>
<circle cx="1850.3" cy="138.2" r="6" fill="#f1742a" stroke="#000" stroke-width="2.1"/>
<circle cx="1864.7" cy="138.2" r="6" fill="#f1742a" stroke="#000" stroke-width="2.1"/>
<circle cx="1879.2" cy="138.2" r="6" fill="#f1742a" stroke="#000" stroke-width="2.1"/>
<circle cx="1901.5" cy="144.2" r="6" fill="#f1742a" stroke="#000" stroke-width="2.1"/>
<circle cx="1915.6" cy="172" r="6" fill="#f1742a" stroke="#000" stroke-width="2.1"/>
<circle cx="1930" cy="208" r="6" fill="#f1742a" stroke="#000" stroke-width="2.1"/>
<circle cx="1960.6" cy="215.1" r="6" fill="#f1742a" stroke="#000" stroke-width="2.1"/>
<circle cx="1975.4" cy="205" r="6" fill="#f1742a" stroke="#000" stroke-width="2.1"/>
<circle cx="1945.6" cy="240.2" r="6" fill="#f1742a" stroke="#000" stroke-width="2.1"/>
<path d="M1680.2 430.6V48.9H1997.9V430.6" fill="none" stroke="#000" stroke-width="2.2"/>
<path d="M1669.5 430.6H1999" stroke="#000" stroke-width="2.1"/>
<path d="M1669.3 137H1679.2" stroke="#000" stroke-width="1.6"/>
<path d="M1669.3 284.4H1679.2" stroke="#000" stroke-width="1.6"/>
<text x="1622.3" y="145.4">1.0</text>
<text x="1622.4" y="293.4">0.5</text>
<text x="1645.9" y="439.8">0</text>
<path d="M1720.1 431V440.8" stroke="#000" stroke-width="1.8"/>
<path d="M1769.6 431V440.8" stroke="#000" stroke-width="1.8"/>
<path d="M1819.3 431V440.8" stroke="#000" stroke-width="1.8"/>
<path d="M1863.5 431V440.8" stroke="#000" stroke-width="1.8"/>
<path d="M1913.4 431V440.8" stroke="#000" stroke-width="1.8"/>
<path d="M1963.4 431V440.8" stroke="#000" stroke-width="1.8"/>
<text x="1561.7" y="467.1">post UV</text>
<text x="1711" y="467.1">0</text>
<text x="1760.8" y="467.1">1</text>
<text x="1813.6" y="467.1">2</text>
<text x="1855" y="467.1">0</text>
<text x="1904.9" y="467.1">1</text>
<text x="1954.5" y="467.1">2</text>
<text x="1977.7" y="467.1">h</text>
<path d="M1705.8 483.3H1833.7" stroke="#000" stroke-width="1.8"/>
<path d="M1849.2 483.3H1977.6" stroke="#000" stroke-width="1.8"/>
<text x="1748.7" y="514.4">WT</text>
<text x="1859.3" y="514.4">XPD<tspan x="1917.2" y="505.6" font-size="16.4">G675R</tspan></text>
<path d="M1702.8 529.2H1970.9" stroke="#000" stroke-width="1.8"/>
<text x="1768.6" y="559.5">Fibroblasts</text>
<text x="1897.6" y="91.9" font-size="27">***</text>
<text x="1947.9" y="91.9" font-size="27">***</text>
<!-- panel e -->
<text x="185.9" y="627.5">e</text>
<rect x="517.9" y="656.4" width="196.9" height="645.9" fill="#fef4f0"/>
<g fill-opacity=".3" class="sw">
<g fill="#404040"><circle cx="359.3" cy="878.6" r="6.9"/><circle cx="359.3" cy="888.8" r="6.9"/><circle cx="359.3" cy="897.9" r="6.9"/><circle cx="359.3" cy="905.4" r="6.9"/><circle cx="362.9" cy="911.5" r="6.9"/><circle cx="357.8" cy="916.9" r="6.9"/><circle cx="364.4" cy="921" r="6.9"/><circle cx="358.6" cy="925.2" r="6.9"/><circle cx="367.3" cy="927.6" r="6.9"/><circle cx="354.2" cy="930.9" r="6.9"/><circle cx="360.8" cy="934" r="6.9"/><circle cx="368" cy="936.8" r="6.9"/><circle cx="354.9" cy="938.6" r="6.9"/><circle cx="347.7" cy="940.7" r="6.9"/><circle cx="360.8" cy="943.3" r="6.9"/><circle cx="368" cy="945" r="6.9"/><circle cx="354.9" cy="947.5" r="6.9"/><circle cx="347.7" cy="948.7" r="6.9"/><circle cx="361.5" cy="950.7" r="6.9"/><circle cx="368.8" cy="952.3" r="6.9"/><circle cx="376" cy="953.8" r="6.9"/><circle cx="357.1" cy="956.5" r="6.9"/><circle cx="364.4" cy="957.9" r="6.9"/><circle cx="349.8" cy="958.7" r="6.9"/><circle cx="371.7" cy="960.3" r="6.9"/><circle cx="343.3" cy="962.3" r="6.9"/><circle cx="378.9" cy="963" r="6.9"/><circle cx="359.3" cy="964.9" r="6.9"/><circle cx="366.6" cy="966" r="6.9"/><circle cx="352" cy="967.6" r="6.9"/><circle cx="373.1" cy="969.1" r="6.9"/><circle cx="344.7" cy="969.5" r="6.9"/><circle cx="380.4" cy="971.2" r="6.9"/><circle cx="359.3" cy="972.7" r="6.9"/><circle cx="366.6" cy="973.4" r="6.9"/><circle cx="352" cy="975.5" r="6.9"/><circle cx="373.1" cy="976.3" r="6.9"/><circle cx="344.7" cy="977.3" r="6.9"/><circle cx="380.4" cy="978.6" r="6.9"/><circle cx="360.8" cy="979.6" r="6.9"/><circle cx="368" cy="981.7" r="6.9"/><circle cx="338.9" cy="981.9" r="6.9"/><circle cx="354.2" cy="983.4" r="6.9"/><circle cx="346.9" cy="985" r="6.9"/><circle cx="373.9" cy="986.3" r="6.9"/><circle cx="360" cy="987.8" r="6.9"/><circle cx="381.1" cy="988.2" r="6.9"/><circle cx="367.3" cy="989.6" r="6.9"/><circle cx="352.8" cy="990.4" r="6.9"/><circle cx="345.5" cy="992.4" r="6.9"/><circle cx="338.2" cy="993" r="6.9"/><circle cx="373.1" cy="994.4" r="6.9"/><circle cx="359.3" cy="995.9" r="6.9"/><circle cx="380.4" cy="996.8" r="6.9"/><circle cx="366.6" cy="998.8" r="6.9"/><circle cx="352.8" cy="999.4" r="6.9"/><circle cx="345.5" cy="1001.3" r="6.9"/><circle cx="373.1" cy="1002.4" r="6.9"/><circle cx="359.3" cy="1003.7" r="6.9"/><circle cx="366.6" cy="1005.7" r="6.9"/><circle cx="352" cy="1006.4" r="6.9"/><circle cx="342.6" cy="1007.7" r="6.9"/><circle cx="373.1" cy="1009.6" r="6.9"/><circle cx="359.3" cy="1011" r="6.9"/><circle cx="366.6" cy="1013.5" r="6.9"/><circle cx="353.5" cy="1015.3" r="6.9"/><circle cx="346.2" cy="1016.2" r="6.9"/><circle cx="360.8" cy="1018.2" r="6.9"/><circle cx="370.9" cy="1019.5" r="6.9"/><circle cx="352" cy="1022.1" r="6.9"/><circle cx="365.1" cy="1023.9" r="6.9"/><circle cx="345.5" cy="1025.4" r="6.9"/><circle cx="358.6" cy="1027.5" r="6.9"/><circle cx="351.3" cy="1029.6" r="6.9"/><circle cx="365.1" cy="1031.1" r="6.9"/><circle cx="372.4" cy="1033.9" r="6.9"/><circle cx="359.3" cy="1035.2" r="6.9"/><circle cx="365.8" cy="1038.8" r="6.9"/><circle cx="354.2" cy="1040.5" r="6.9"/><circle cx="346.9" cy="1043.3" r="6.9"/><circle cx="359.3" cy="1046.5" r="6.9"/><circle cx="365.8" cy="1049.6" r="6.9"/><circle cx="359.3" cy="1054" r="6.9"/><circle cx="352.8" cy="1057.8" r="6.9"/><circle cx="359.3" cy="1062.3" r="6.9"/><circle cx="364.4" cy="1067.6" r="6.9"/><circle cx="359.3" cy="1073.6" r="6.9"/><circle cx="362.2" cy="1080" r="6.9"/><circle cx="359.3" cy="1087.4" r="6.9"/><circle cx="359.3" cy="1095.3" r="6.9"/><circle cx="359.3" cy="679.6" r="6.9"/><circle cx="359.3" cy="779" r="6.9"/><circle cx="360.8" cy="793.2" r="6.9"/><circle cx="359.3" cy="798.6" r="6.9"/><circle cx="359.3" cy="849.5" r="6.9"/><circle cx="359.3" cy="1110.8" r="6.9"/><circle cx="359.3" cy="1133.4" r="6.9"/></g>
<g fill="#f26c2a"><circle cx="419.9" cy="890" r="6.9"/><circle cx="415.9" cy="895.7" r="6.9"/><circle cx="420.6" cy="900.7" r="6.9"/><circle cx="415.2" cy="905.1" r="6.9"/><circle cx="421.9" cy="907.9" r="6.9"/><circle cx="427.9" cy="911" r="6.9"/><circle cx="419.2" cy="914.5" r="6.9"/><circle cx="412.5" cy="917.2" r="6.9"/><circle cx="423.9" cy="919.8" r="6.9"/><circle cx="417.9" cy="923" r="6.9"/><circle cx="411.2" cy="924.7" r="6.9"/><circle cx="423.2" cy="927.2" r="6.9"/><circle cx="429.9" cy="929.3" r="6.9"/><circle cx="417.9" cy="931.4" r="6.9"/><circle cx="411.2" cy="932.9" r="6.9"/><circle cx="423.9" cy="935.5" r="6.9"/><circle cx="430.6" cy="937" r="6.9"/><circle cx="417.9" cy="939" r="6.9"/><circle cx="411.2" cy="940.1" r="6.9"/><circle cx="404.5" cy="941.4" r="6.9"/><circle cx="423.2" cy="943.4" r="6.9"/><circle cx="429.9" cy="945.3" r="6.9"/><circle cx="416.6" cy="946" r="6.9"/><circle cx="409.9" cy="947.3" r="6.9"/><circle cx="436" cy="948.9" r="6.9"/><circle cx="421.9" cy="950.9" r="6.9"/><circle cx="428.6" cy="952.5" r="6.9"/><circle cx="415.2" cy="953.8" r="6.9"/><circle cx="408.5" cy="954.3" r="6.9"/><circle cx="401.8" cy="955.5" r="6.9"/><circle cx="423.9" cy="957.6" r="6.9"/><circle cx="433.3" cy="957.7" r="6.9"/><circle cx="440" cy="959.8" r="6.9"/><circle cx="417.9" cy="960.9" r="6.9"/><circle cx="411.2" cy="962.3" r="6.9"/><circle cx="427.9" cy="963.1" r="6.9"/><circle cx="404.5" cy="964.1" r="6.9"/><circle cx="434.6" cy="965.3" r="6.9"/><circle cx="397.8" cy="966.2" r="6.9"/><circle cx="419.9" cy="967.6" r="6.9"/><circle cx="440.7" cy="968.3" r="6.9"/><circle cx="413.2" cy="970.3" r="6.9"/><circle cx="425.9" cy="970.9" r="6.9"/><circle cx="432.6" cy="972.3" r="6.9"/><circle cx="407.2" cy="973.7" r="6.9"/><circle cx="419.2" cy="974.6" r="6.9"/><circle cx="438.7" cy="975.9" r="6.9"/><circle cx="427.9" cy="977.5" r="6.9"/><circle cx="413.2" cy="978.6" r="6.9"/><circle cx="401.8" cy="978.7" r="6.9"/><circle cx="444" cy="980.4" r="6.9"/><circle cx="419.9" cy="981.5" r="6.9"/><circle cx="407.8" cy="983.5" r="6.9"/><circle cx="429.9" cy="984.2" r="6.9"/><circle cx="414.5" cy="986" r="6.9"/><circle cx="436.6" cy="986.7" r="6.9"/><circle cx="422.6" cy="987.9" r="6.9"/><circle cx="403.2" cy="988.9" r="6.9"/><circle cx="442.7" cy="990.2" r="6.9"/><circle cx="428.6" cy="991.6" r="6.9"/><circle cx="417.9" cy="992.9" r="6.9"/><circle cx="411.2" cy="994.4" r="6.9"/><circle cx="434.6" cy="995.6" r="6.9"/><circle cx="423.9" cy="996.7" r="6.9"/><circle cx="405.8" cy="998.6" r="6.9"/><circle cx="415.9" cy="999.6" r="6.9"/><circle cx="428.6" cy="1001.7" r="6.9"/><circle cx="437.3" cy="1002.2" r="6.9"/><circle cx="421.9" cy="1003.4" r="6.9"/><circle cx="412.5" cy="1005.7" r="6.9"/><circle cx="405.8" cy="1006.6" r="6.9"/><circle cx="431.3" cy="1008" r="6.9"/><circle cx="418.6" cy="1009.6" r="6.9"/><circle cx="425.3" cy="1011.4" r="6.9"/><circle cx="412.5" cy="1013.2" r="6.9"/><circle cx="432.6" cy="1014.9" r="6.9"/><circle cx="419.9" cy="1017.3" r="6.9"/><circle cx="426.6" cy="1018.7" r="6.9"/><circle cx="413.9" cy="1020.7" r="6.9"/><circle cx="407.2" cy="1021.9" r="6.9"/><circle cx="421.9" cy="1024" r="6.9"/><circle cx="428.6" cy="1026.2" r="6.9"/><circle cx="415.9" cy="1027.8" r="6.9"/><circle cx="409.2" cy="1029.7" r="6.9"/><circle cx="421.2" cy="1032.4" r="6.9"/><circle cx="427.9" cy="1034.4" r="6.9"/><circle cx="416.6" cy="1037.8" r="6.9"/><circle cx="423.2" cy="1039.5" r="6.9"/><circle cx="411.2" cy="1042.5" r="6.9"/><circle cx="418.6" cy="1044.9" r="6.9"/><circle cx="425.3" cy="1047.7" r="6.9"/><circle cx="413.9" cy="1050.4" r="6.9"/><circle cx="419.9" cy="1053.5" r="6.9"/><circle cx="425.3" cy="1057.8" r="6.9"/><circle cx="419.9" cy="1062.9" r="6.9"/><circle cx="415.2" cy="1068.1" r="6.9"/><circle cx="419.9" cy="784.8" r="6.9"/><circle cx="419.9" cy="817.7" r="6.9"/><circle cx="419.9" cy="847" r="6.9"/><circle cx="419.9" cy="868.9" r="6.9"/><circle cx="419.9" cy="1082" r="6.9"/><circle cx="419.9" cy="1092" r="6.9"/><circle cx="419.9" cy="1103" r="6.9"/><circle cx="419.9" cy="1112" r="6.9"/><circle cx="418.9" cy="1118" r="6.9"/></g>
<g fill="#7030a0"><circle cx="480.2" cy="861" r="6.9"/><circle cx="482.4" cy="867.5" r="6.9"/><circle cx="477.3" cy="872.8" r="6.9"/><circle cx="483.1" cy="877.1" r="6.9"/><circle cx="478.7" cy="882.5" r="6.9"/><circle cx="484.6" cy="887" r="6.9"/><circle cx="478.7" cy="891.2" r="6.9"/><circle cx="484.6" cy="895.2" r="6.9"/><circle cx="478" cy="899" r="6.9"/><circle cx="483.9" cy="902.8" r="6.9"/><circle cx="477.3" cy="906.5" r="6.9"/><circle cx="486.8" cy="909" r="6.9"/><circle cx="480.2" cy="913.2" r="6.9"/><circle cx="473.6" cy="917" r="6.9"/><circle cx="480.2" cy="920.3" r="6.9"/><circle cx="486.1" cy="924.7" r="6.9"/><circle cx="479.5" cy="928.2" r="6.9"/><circle cx="472.8" cy="931.2" r="6.9"/><circle cx="480.2" cy="935" r="6.9"/><circle cx="487.6" cy="937.1" r="6.9"/><circle cx="474.3" cy="939.4" r="6.9"/><circle cx="493.4" cy="941.6" r="6.9"/><circle cx="480.9" cy="942.8" r="6.9"/><circle cx="469.9" cy="944.9" r="6.9"/><circle cx="487.6" cy="946.2" r="6.9"/><circle cx="496.4" cy="947.9" r="6.9"/><circle cx="478" cy="949.2" r="6.9"/><circle cx="466.2" cy="950.7" r="6.9"/><circle cx="484.6" cy="952.5" r="6.9"/><circle cx="472.8" cy="954.3" r="6.9"/><circle cx="492" cy="954.8" r="6.9"/><circle cx="461.8" cy="956.4" r="6.9"/><circle cx="479.5" cy="957.6" r="6.9"/><circle cx="498.6" cy="958.5" r="6.9"/><circle cx="486.8" cy="959.7" r="6.9"/><circle cx="471.4" cy="960.9" r="6.9"/><circle cx="458.1" cy="962.2" r="6.9"/><circle cx="492.7" cy="963.7" r="6.9"/><circle cx="480.2" cy="965.3" r="6.9"/><circle cx="467" cy="966.5" r="6.9"/><circle cx="486.8" cy="967.8" r="6.9"/><circle cx="498.6" cy="967.8" r="6.9"/><circle cx="474.3" cy="969.1" r="6.9"/><circle cx="461.1" cy="970.8" r="6.9"/><circle cx="505.2" cy="971.2" r="6.9"/><circle cx="492.7" cy="972" r="6.9"/><circle cx="480.2" cy="973.4" r="6.9"/><circle cx="469.2" cy="974" r="6.9"/><circle cx="486.8" cy="976.2" r="6.9"/><circle cx="498.6" cy="976.4" r="6.9"/><circle cx="462.6" cy="977.6" r="6.9"/><circle cx="475.1" cy="978.3" r="6.9"/><circle cx="492.7" cy="980.4" r="6.9"/><circle cx="481.7" cy="981.4" r="6.9"/><circle cx="468.4" cy="981.8" r="6.9"/><circle cx="499.3" cy="983.4" r="6.9"/><circle cx="458.9" cy="983.7" r="6.9"/><circle cx="475.8" cy="985.4" r="6.9"/><circle cx="486.1" cy="986.8" r="6.9"/><circle cx="493.4" cy="988" r="6.9"/><circle cx="469.2" cy="988.8" r="6.9"/><circle cx="502.2" cy="989.7" r="6.9"/><circle cx="480.2" cy="990.9" r="6.9"/><circle cx="462.6" cy="991.8" r="6.9"/><circle cx="455.2" cy="993.1" r="6.9"/><circle cx="474.3" cy="994.9" r="6.9"/><circle cx="485.3" cy="995.8" r="6.9"/><circle cx="492.7" cy="996.6" r="6.9"/><circle cx="467.7" cy="998.4" r="6.9"/><circle cx="499.3" cy="999.3" r="6.9"/><circle cx="479.5" cy="1000.3" r="6.9"/><circle cx="488.3" cy="1002.1" r="6.9"/><circle cx="472.8" cy="1003.3" r="6.9"/><circle cx="463.3" cy="1004.2" r="6.9"/><circle cx="494.9" cy="1005.3" r="6.9"/><circle cx="480.2" cy="1007.1" r="6.9"/><circle cx="501.5" cy="1008.1" r="6.9"/><circle cx="486.8" cy="1009.7" r="6.9"/><circle cx="474.3" cy="1011.2" r="6.9"/><circle cx="493.4" cy="1012.3" r="6.9"/><circle cx="467.7" cy="1013.7" r="6.9"/><circle cx="480.2" cy="1015.8" r="6.9"/><circle cx="487.6" cy="1017.1" r="6.9"/><circle cx="473.6" cy="1018.5" r="6.9"/><circle cx="494.2" cy="1019.9" r="6.9"/><circle cx="467" cy="1021.6" r="6.9"/><circle cx="480.2" cy="1023" r="6.9"/><circle cx="487.6" cy="1024.8" r="6.9"/><circle cx="473.6" cy="1026.2" r="6.9"/><circle cx="494.2" cy="1028.3" r="6.9"/><circle cx="480.2" cy="1030.4" r="6.9"/><circle cx="468.4" cy="1031.2" r="6.9"/><circle cx="486.8" cy="1033.7" r="6.9"/><circle cx="475.1" cy="1035.4" r="6.9"/><circle cx="493.4" cy="1037.2" r="6.9"/><circle cx="480.9" cy="1040" r="6.9"/><circle cx="472.8" cy="1042" r="6.9"/><circle cx="486.8" cy="1044.2" r="6.9"/><circle cx="467" cy="1046.1" r="6.9"/><circle cx="480.2" cy="1049.8" r="6.9"/><circle cx="486.8" cy="1052.3" r="6.9"/><circle cx="475.1" cy="1054.7" r="6.9"/><circle cx="481.7" cy="1058.3" r="6.9"/><circle cx="477.3" cy="1063.7" r="6.9"/><circle cx="480.2" cy="1069.9" r="6.9"/><circle cx="480.2" cy="806.8" r="6.9"/><circle cx="480.2" cy="816.6" r="6.9"/><circle cx="480.2" cy="842" r="6.9"/><circle cx="480.2" cy="1085" r="6.9"/><circle cx="480.2" cy="1092" r="6.9"/><circle cx="480.2" cy="1114.5" r="6.9"/><circle cx="480.2" cy="1127.3" r="6.9"/></g>
<g fill="#404040"><circle cx="554.5" cy="960.5" r="6.9"/><circle cx="554.5" cy="969.5" r="6.9"/><circle cx="554.5" cy="976.2" r="6.9"/><circle cx="550.4" cy="981.3" r="6.9"/><circle cx="555.2" cy="985.7" r="6.9"/><circle cx="549.7" cy="989.4" r="6.9"/><circle cx="554.5" cy="993.9" r="6.9"/><circle cx="560.6" cy="997.3" r="6.9"/><circle cx="551.8" cy="1000" r="6.9"/><circle cx="557.9" cy="1003.3" r="6.9"/><circle cx="549" cy="1006.2" r="6.9"/><circle cx="562" cy="1008.6" r="6.9"/><circle cx="554.5" cy="1010.4" r="6.9"/><circle cx="548.4" cy="1013" r="6.9"/><circle cx="558.6" cy="1015.8" r="6.9"/><circle cx="552.5" cy="1018.6" r="6.9"/><circle cx="545.6" cy="1019.7" r="6.9"/><circle cx="560.6" cy="1022.1" r="6.9"/><circle cx="566.8" cy="1024.1" r="6.9"/><circle cx="554.5" cy="1026" r="6.9"/><circle cx="547.7" cy="1027.3" r="6.9"/><circle cx="560" cy="1029.8" r="6.9"/><circle cx="542.2" cy="1031" r="6.9"/><circle cx="553.8" cy="1032.8" r="6.9"/><circle cx="564.7" cy="1034.2" r="6.9"/><circle cx="548.4" cy="1036.5" r="6.9"/><circle cx="558.6" cy="1037.5" r="6.9"/><circle cx="542.2" cy="1038.8" r="6.9"/><circle cx="564.7" cy="1041" r="6.9"/><circle cx="553.1" cy="1041.9" r="6.9"/><circle cx="570.9" cy="1043.4" r="6.9"/><circle cx="559.3" cy="1045.2" r="6.9"/><circle cx="548.4" cy="1046.4" r="6.9"/><circle cx="564.7" cy="1048.8" r="6.9"/><circle cx="554.5" cy="1050" r="6.9"/><circle cx="542.9" cy="1050.5" r="6.9"/><circle cx="570.9" cy="1051.8" r="6.9"/><circle cx="549" cy="1054" r="6.9"/><circle cx="558.6" cy="1055.3" r="6.9"/><circle cx="565.4" cy="1056.2" r="6.9"/><circle cx="542.9" cy="1057.4" r="6.9"/><circle cx="553.1" cy="1059.2" r="6.9"/><circle cx="571.5" cy="1059.2" r="6.9"/><circle cx="561.3" cy="1061.4" r="6.9"/><circle cx="538.1" cy="1061.9" r="6.9"/><circle cx="548.4" cy="1063.8" r="6.9"/><circle cx="576.3" cy="1064.2" r="6.9"/><circle cx="566.8" cy="1065.1" r="6.9"/><circle cx="554.5" cy="1066.8" r="6.9"/><circle cx="543.6" cy="1068.3" r="6.9"/><circle cx="536.8" cy="1068.5" r="6.9"/><circle cx="560" cy="1070.3" r="6.9"/><circle cx="570.2" cy="1070.7" r="6.9"/><circle cx="549.7" cy="1071.5" r="6.9"/><circle cx="576.3" cy="1073" r="6.9"/><circle cx="532.7" cy="1074.1" r="6.9"/><circle cx="541.6" cy="1074.6" r="6.9"/><circle cx="554.5" cy="1076.5" r="6.9"/><circle cx="561.3" cy="1077.5" r="6.9"/><circle cx="547.7" cy="1078.4" r="6.9"/><circle cx="567.4" cy="1079.6" r="6.9"/><circle cx="540.2" cy="1081.1" r="6.9"/><circle cx="573.6" cy="1081.9" r="6.9"/><circle cx="556.5" cy="1082.8" r="6.9"/><circle cx="534.1" cy="1083.5" r="6.9"/><circle cx="550.4" cy="1085" r="6.9"/><circle cx="562.7" cy="1086" r="6.9"/><circle cx="544.3" cy="1088.3" r="6.9"/><circle cx="568.8" cy="1088.8" r="6.9"/><circle cx="554.5" cy="1090.2" r="6.9"/><circle cx="538.1" cy="1091.6" r="6.9"/><circle cx="560.6" cy="1092.7" r="6.9"/><circle cx="549.7" cy="1094.8" r="6.9"/><circle cx="542.9" cy="1096" r="6.9"/><circle cx="555.9" cy="1098.3" r="6.9"/><circle cx="562.7" cy="1099.6" r="6.9"/><circle cx="569.5" cy="1100.9" r="6.9"/><circle cx="551.1" cy="1102.8" r="6.9"/><circle cx="557.9" cy="1104.6" r="6.9"/><circle cx="545.6" cy="1106.8" r="6.9"/><circle cx="553.8" cy="1109.8" r="6.9"/><circle cx="560.6" cy="1111.6" r="6.9"/><circle cx="549.7" cy="1114.9" r="6.9"/><circle cx="555.9" cy="1117.1" r="6.9"/><circle cx="561.3" cy="1120.8" r="6.9"/><circle cx="553.1" cy="1123.3" r="6.9"/><circle cx="558.6" cy="1127.2" r="6.9"/><circle cx="552.5" cy="1130.3" r="6.9"/><circle cx="557.9" cy="1133.9" r="6.9"/><circle cx="552.5" cy="1138" r="6.9"/><circle cx="558.6" cy="1141.2" r="6.9"/><circle cx="553.1" cy="1145" r="6.9"/><circle cx="558.6" cy="1148.6" r="6.9"/><circle cx="553.8" cy="1153.1" r="6.9"/><circle cx="557.9" cy="1158.2" r="6.9"/><circle cx="554.5" cy="1166" r="6.9"/><circle cx="554.5" cy="780.9" r="6.9"/><circle cx="554.5" cy="855.7" r="6.9"/><circle cx="554.5" cy="902.5" r="6.9"/><circle cx="554.5" cy="923.7" r="6.9"/><circle cx="554.5" cy="1180" r="6.9"/><circle cx="554.5" cy="1193" r="6.9"/></g>
<g fill="#f26c2a"><circle cx="615.2" cy="887.5" r="6.9"/><circle cx="615.2" cy="897.8" r="6.9"/><circle cx="615.2" cy="906.2" r="6.9"/><circle cx="615.2" cy="912.9" r="6.9"/><circle cx="619.2" cy="918" r="6.9"/><circle cx="613.9" cy="922.1" r="6.9"/><circle cx="619.2" cy="925.7" r="6.9"/><circle cx="609.8" cy="927.7" r="6.9"/><circle cx="623.9" cy="930.6" r="6.9"/><circle cx="615.2" cy="933.3" r="6.9"/><circle cx="608.5" cy="935.2" r="6.9"/><circle cx="620.6" cy="937.3" r="6.9"/><circle cx="613.2" cy="939.7" r="6.9"/><circle cx="607.2" cy="942.4" r="6.9"/><circle cx="617.9" cy="944.2" r="6.9"/><circle cx="624.6" cy="946" r="6.9"/><circle cx="611.9" cy="947.7" r="6.9"/><circle cx="605.2" cy="948.8" r="6.9"/><circle cx="619.2" cy="950.6" r="6.9"/><circle cx="627.9" cy="951.9" r="6.9"/><circle cx="599.8" cy="953.1" r="6.9"/><circle cx="614.5" cy="955.1" r="6.9"/><circle cx="607.8" cy="955.9" r="6.9"/><circle cx="620.6" cy="957.4" r="6.9"/><circle cx="627.3" cy="958.7" r="6.9"/><circle cx="602.5" cy="959.8" r="6.9"/><circle cx="613.2" cy="961.6" r="6.9"/><circle cx="632.6" cy="962.9" r="6.9"/><circle cx="619.2" cy="964.1" r="6.9"/><circle cx="607.8" cy="965.2" r="6.9"/><circle cx="625.9" cy="966" r="6.9"/><circle cx="601.1" cy="967.1" r="6.9"/><circle cx="594.4" cy="967.7" r="6.9"/><circle cx="614.5" cy="968.9" r="6.9"/><circle cx="621.2" cy="970.6" r="6.9"/><circle cx="630.6" cy="971" r="6.9"/><circle cx="609.2" cy="972.5" r="6.9"/><circle cx="599.1" cy="973.5" r="6.9"/><circle cx="636.6" cy="974.3" r="6.9"/><circle cx="592.4" cy="974.8" r="6.9"/><circle cx="615.2" cy="976.1" r="6.9"/><circle cx="622.6" cy="977.1" r="6.9"/><circle cx="605.8" cy="978.3" r="6.9"/><circle cx="629.3" cy="978.8" r="6.9"/><circle cx="599.8" cy="980.5" r="6.9"/><circle cx="635.3" cy="980.8" r="6.9"/><circle cx="593.1" cy="981.6" r="6.9"/><circle cx="615.2" cy="983.2" r="6.9"/><circle cx="608.5" cy="984.5" r="6.9"/><circle cx="621.9" cy="985.1" r="6.9"/><circle cx="628.6" cy="986.2" r="6.9"/><circle cx="602.5" cy="987.3" r="6.9"/><circle cx="595.8" cy="988" r="6.9"/><circle cx="634.6" cy="989.1" r="6.9"/><circle cx="615.2" cy="989.8" r="6.9"/><circle cx="608.5" cy="991.6" r="6.9"/><circle cx="621.2" cy="992.8" r="6.9"/><circle cx="627.9" cy="993.4" r="6.9"/><circle cx="602.5" cy="994" r="6.9"/><circle cx="595.8" cy="995.4" r="6.9"/><circle cx="615.2" cy="996.8" r="6.9"/><circle cx="633.3" cy="997.4" r="6.9"/><circle cx="609.2" cy="998.8" r="6.9"/><circle cx="623.9" cy="998.9" r="6.9"/><circle cx="600.5" cy="1000.3" r="6.9"/><circle cx="593.8" cy="1002.2" r="6.9"/><circle cx="638" cy="1002.3" r="6.9"/><circle cx="615.2" cy="1003.5" r="6.9"/><circle cx="621.9" cy="1005.2" r="6.9"/><circle cx="609.2" cy="1005.8" r="6.9"/><circle cx="602.5" cy="1007.1" r="6.9"/><circle cx="627.3" cy="1009.1" r="6.9"/><circle cx="634" cy="1009.6" r="6.9"/><circle cx="615.2" cy="1011.6" r="6.9"/><circle cx="607.8" cy="1012.4" r="6.9"/><circle cx="621.9" cy="1013.2" r="6.9"/><circle cx="601.1" cy="1014.3" r="6.9"/><circle cx="627.9" cy="1016.1" r="6.9"/><circle cx="634.6" cy="1016.4" r="6.9"/><circle cx="615.2" cy="1018.2" r="6.9"/><circle cx="621.9" cy="1019.9" r="6.9"/><circle cx="609.2" cy="1021" r="6.9"/><circle cx="602.5" cy="1022" r="6.9"/><circle cx="627.9" cy="1023.2" r="6.9"/><circle cx="616.5" cy="1024.8" r="6.9"/><circle cx="597.8" cy="1026.6" r="6.9"/><circle cx="610.5" cy="1027.9" r="6.9"/><circle cx="620.6" cy="1030.3" r="6.9"/><circle cx="605.2" cy="1031.6" r="6.9"/><circle cx="626.6" cy="1032.9" r="6.9"/><circle cx="615.2" cy="1035.1" r="6.9"/><circle cx="601.1" cy="1036.9" r="6.9"/><circle cx="621.2" cy="1038" r="6.9"/><circle cx="611.2" cy="1040.3" r="6.9"/><circle cx="605.2" cy="1042.5" r="6.9"/><circle cx="615.9" cy="1044.8" r="6.9"/><circle cx="609.8" cy="1047.2" r="6.9"/><circle cx="621.2" cy="1049.2" r="6.9"/><circle cx="615.2" cy="1052.2" r="6.9"/><circle cx="609.2" cy="1055.3" r="6.9"/><circle cx="615.9" cy="1058.8" r="6.9"/><circle cx="609.8" cy="1061.9" r="6.9"/><circle cx="615.2" cy="1066.7" r="6.9"/><circle cx="609.8" cy="1070.8" r="6.9"/><circle cx="615.2" cy="1074.5" r="6.9"/><circle cx="609.8" cy="1078.3" r="6.9"/><circle cx="615.9" cy="1081.4" r="6.9"/><circle cx="621.9" cy="1084.3" r="6.9"/><circle cx="615.2" cy="1089.3" r="6.9"/><circle cx="615.2" cy="1097.7" r="6.9"/><circle cx="615.2" cy="853.2" r="6.9"/><circle cx="615.2" cy="864" r="6.9"/><circle cx="615.2" cy="1108" r="6.9"/><circle cx="615.2" cy="1118" r="6.9"/><circle cx="615.2" cy="1125" r="6.9"/><circle cx="615.2" cy="1131.9" r="6.9"/><circle cx="615.2" cy="1165.5" r="6.9"/></g>
<g fill="#7030a0"><circle cx="675.8" cy="906.7" r="6.9"/><circle cx="675.8" cy="916.1" r="6.9"/><circle cx="675.8" cy="924" r="6.9"/><circle cx="675.8" cy="931" r="6.9"/><circle cx="675.8" cy="937.4" r="6.9"/><circle cx="675.8" cy="944.4" r="6.9"/><circle cx="677.2" cy="950.4" r="6.9"/><circle cx="673.1" cy="955.1" r="6.9"/><circle cx="677.8" cy="959.5" r="6.9"/><circle cx="672.4" cy="962.3" r="6.9"/><circle cx="681.2" cy="964.9" r="6.9"/><circle cx="675.8" cy="968.2" r="6.9"/><circle cx="669.7" cy="969.6" r="6.9"/><circle cx="681.2" cy="971.9" r="6.9"/><circle cx="664.9" cy="973.5" r="6.9"/><circle cx="675.8" cy="975.9" r="6.9"/><circle cx="685.3" cy="976.7" r="6.9"/><circle cx="670.4" cy="979.2" r="6.9"/><circle cx="679.9" cy="980.5" r="6.9"/><circle cx="664.2" cy="981.6" r="6.9"/><circle cx="674.4" cy="983.7" r="6.9"/><circle cx="684.6" cy="985" r="6.9"/><circle cx="669" cy="986.8" r="6.9"/><circle cx="679.2" cy="987.8" r="6.9"/><circle cx="662.9" cy="989.1" r="6.9"/><circle cx="673.8" cy="990.9" r="6.9"/><circle cx="684" cy="991.6" r="6.9"/><circle cx="667.6" cy="993.1" r="6.9"/><circle cx="678.5" cy="995.1" r="6.9"/><circle cx="688.7" cy="996" r="6.9"/><circle cx="662.9" cy="996.8" r="6.9"/><circle cx="673.1" cy="998.3" r="6.9"/><circle cx="682.6" cy="1000.1" r="6.9"/><circle cx="692.8" cy="1000.5" r="6.9"/><circle cx="668.3" cy="1002.2" r="6.9"/><circle cx="676.5" cy="1003.7" r="6.9"/><circle cx="687.4" cy="1004.2" r="6.9"/><circle cx="663.5" cy="1006.4" r="6.9"/><circle cx="681.9" cy="1007.4" r="6.9"/><circle cx="671.7" cy="1008.1" r="6.9"/><circle cx="691.5" cy="1009.1" r="6.9"/><circle cx="658.8" cy="1010.1" r="6.9"/><circle cx="677.2" cy="1011.5" r="6.9"/><circle cx="667" cy="1012.5" r="6.9"/><circle cx="683.3" cy="1013.8" r="6.9"/><circle cx="694.9" cy="1014.5" r="6.9"/><circle cx="673.1" cy="1016.1" r="6.9"/><circle cx="688.7" cy="1016.6" r="6.9"/><circle cx="663.5" cy="1017.7" r="6.9"/><circle cx="678.5" cy="1019.7" r="6.9"/><circle cx="658.1" cy="1020.4" r="6.9"/><circle cx="669.7" cy="1021.3" r="6.9"/><circle cx="684.6" cy="1022" r="6.9"/><circle cx="690.8" cy="1023.7" r="6.9"/><circle cx="664.2" cy="1024" r="6.9"/><circle cx="675.8" cy="1026.1" r="6.9"/><circle cx="658.8" cy="1026.7" r="6.9"/><circle cx="681.9" cy="1027.8" r="6.9"/><circle cx="669.7" cy="1028.3" r="6.9"/><circle cx="694.2" cy="1029.1" r="6.9"/><circle cx="687.4" cy="1030.4" r="6.9"/><circle cx="664.2" cy="1031.8" r="6.9"/><circle cx="674.4" cy="1032.2" r="6.9"/><circle cx="658.1" cy="1033.5" r="6.9"/><circle cx="679.9" cy="1035.1" r="6.9"/><circle cx="669.7" cy="1036" r="6.9"/><circle cx="686" cy="1036.7" r="6.9"/><circle cx="692.1" cy="1036.8" r="6.9"/><circle cx="653.3" cy="1037.7" r="6.9"/><circle cx="675.1" cy="1038.8" r="6.9"/><circle cx="664.9" cy="1040" r="6.9"/><circle cx="680.6" cy="1041.5" r="6.9"/><circle cx="658.8" cy="1041.6" r="6.9"/><circle cx="688.7" cy="1042.4" r="6.9"/><circle cx="671.7" cy="1044.2" r="6.9"/><circle cx="694.2" cy="1045.5" r="6.9"/><circle cx="663.5" cy="1046" r="6.9"/><circle cx="654.7" cy="1046.4" r="6.9"/><circle cx="677.2" cy="1047.8" r="6.9"/><circle cx="683.3" cy="1048.5" r="6.9"/><circle cx="699.6" cy="1048.9" r="6.9"/><circle cx="671.7" cy="1050.9" r="6.9"/><circle cx="688.7" cy="1051.3" r="6.9"/><circle cx="665.6" cy="1052.8" r="6.9"/><circle cx="679.2" cy="1053.8" r="6.9"/><circle cx="659.5" cy="1054" r="6.9"/><circle cx="694.2" cy="1054.6" r="6.9"/><circle cx="653.3" cy="1056.2" r="6.9"/><circle cx="673.8" cy="1056.8" r="6.9"/><circle cx="684" cy="1057.7" r="6.9"/><circle cx="667.6" cy="1058.8" r="6.9"/><circle cx="690.1" cy="1059.3" r="6.9"/><circle cx="661.5" cy="1060.4" r="6.9"/><circle cx="677.8" cy="1061.6" r="6.9"/><circle cx="696.2" cy="1061.8" r="6.9"/><circle cx="655.4" cy="1062.5" r="6.9"/><circle cx="672.4" cy="1064.4" r="6.9"/><circle cx="683.3" cy="1065.2" r="6.9"/><circle cx="666.3" cy="1065.8" r="6.9"/><circle cx="689.4" cy="1066.2" r="6.9"/><circle cx="660.1" cy="1067.4" r="6.9"/><circle cx="677.8" cy="1068.1" r="6.9"/><circle cx="695.5" cy="1068.7" r="6.9"/><circle cx="654.7" cy="1070" r="6.9"/><circle cx="672.4" cy="1071.1" r="6.9"/><circle cx="683.3" cy="1071.5" r="6.9"/><circle cx="666.3" cy="1072.5" r="6.9"/><circle cx="689.4" cy="1073" r="6.9"/><circle cx="677.8" cy="1074.4" r="6.9"/><circle cx="660.8" cy="1075.8" r="6.9"/><circle cx="694.9" cy="1076.5" r="6.9"/><circle cx="671.7" cy="1077.2" r="6.9"/><circle cx="683.3" cy="1077.7" r="6.9"/><circle cx="655.4" cy="1078.9" r="6.9"/><circle cx="666.3" cy="1079.8" r="6.9"/><circle cx="676.5" cy="1080.9" r="6.9"/><circle cx="688.1" cy="1082.1" r="6.9"/><circle cx="660.8" cy="1082.7" r="6.9"/><circle cx="694.2" cy="1083.5" r="6.9"/><circle cx="671.7" cy="1085.2" r="6.9"/><circle cx="680.6" cy="1085.5" r="6.9"/><circle cx="665.6" cy="1086.5" r="6.9"/><circle cx="686" cy="1088.3" r="6.9"/><circle cx="659.5" cy="1088.9" r="6.9"/><circle cx="675.8" cy="1090" r="6.9"/><circle cx="692.1" cy="1090.7" r="6.9"/><circle cx="669.7" cy="1091.9" r="6.9"/><circle cx="681.2" cy="1093.4" r="6.9"/><circle cx="663.5" cy="1094.4" r="6.9"/><circle cx="687.4" cy="1095.3" r="6.9"/><circle cx="675.8" cy="1096.3" r="6.9"/><circle cx="658.1" cy="1097.7" r="6.9"/><circle cx="681.2" cy="1099.7" r="6.9"/><circle cx="671" cy="1100.4" r="6.9"/><circle cx="664.9" cy="1101.8" r="6.9"/><circle cx="686.7" cy="1102.5" r="6.9"/><circle cx="675.8" cy="1104.7" r="6.9"/><circle cx="692.1" cy="1105.5" r="6.9"/><circle cx="681.9" cy="1106.6" r="6.9"/><circle cx="670.4" cy="1108" r="6.9"/><circle cx="664.2" cy="1110.1" r="6.9"/><circle cx="675.8" cy="1111.3" r="6.9"/><circle cx="683.3" cy="1112.7" r="6.9"/><circle cx="670.4" cy="1114.7" r="6.9"/><circle cx="664.2" cy="1116.5" r="6.9"/><circle cx="675.8" cy="1118" r="6.9"/><circle cx="681.2" cy="1120.8" r="6.9"/><circle cx="672.4" cy="1123.1" r="6.9"/><circle cx="666.3" cy="1124.8" r="6.9"/><circle cx="677.2" cy="1127.2" r="6.9"/><circle cx="671" cy="1129.4" r="6.9"/><circle cx="681.2" cy="1132.2" r="6.9"/><circle cx="675.8" cy="1135.4" r="6.9"/><circle cx="670.4" cy="1138.3" r="6.9"/><circle cx="675.8" cy="1142.3" r="6.9"/><circle cx="680.6" cy="1146.6" r="6.9"/><circle cx="675.8" cy="1151.7" r="6.9"/><circle cx="675.8" cy="1159" r="6.9"/><circle cx="675.8" cy="1167.3" r="6.9"/><circle cx="675.8" cy="882.4" r="6.9"/><circle cx="675.8" cy="888" r="6.9"/><circle cx="675.8" cy="1211.1" r="6.9"/></g>
<g fill="#404040"><circle cx="750.1" cy="1039.8" r="6.9"/><circle cx="743.6" cy="1045.3" r="6.9"/><circle cx="750.8" cy="1050.3" r="6.9"/><circle cx="742.3" cy="1053.9" r="6.9"/><circle cx="756" cy="1057.1" r="6.9"/><circle cx="764.4" cy="1059.2" r="6.9"/><circle cx="749.5" cy="1062.6" r="6.9"/><circle cx="758.6" cy="1065.4" r="6.9"/><circle cx="742.3" cy="1067" r="6.9"/><circle cx="734.5" cy="1069.4" r="6.9"/><circle cx="750.1" cy="1071.9" r="6.9"/><circle cx="757.9" cy="1074.3" r="6.9"/><circle cx="742.3" cy="1075.7" r="6.9"/><circle cx="765.7" cy="1077.7" r="6.9"/><circle cx="734.5" cy="1079.2" r="6.9"/><circle cx="750.1" cy="1081.7" r="6.9"/><circle cx="772.9" cy="1082.4" r="6.9"/><circle cx="742.3" cy="1085.3" r="6.9"/><circle cx="756.6" cy="1086.9" r="6.9"/><circle cx="765.1" cy="1088.6" r="6.9"/><circle cx="735.1" cy="1090.1" r="6.9"/><circle cx="749.5" cy="1091.5" r="6.9"/><circle cx="771.6" cy="1093.9" r="6.9"/><circle cx="756.6" cy="1095.8" r="6.9"/><circle cx="743" cy="1097.1" r="6.9"/><circle cx="764.4" cy="1098.9" r="6.9"/><circle cx="735.1" cy="1099.8" r="6.9"/><circle cx="750.1" cy="1102.5" r="6.9"/><circle cx="771.6" cy="1103.5" r="6.9"/><circle cx="757.9" cy="1105.4" r="6.9"/><circle cx="742.3" cy="1106.2" r="6.9"/><circle cx="732.6" cy="1108.2" r="6.9"/><circle cx="765.1" cy="1109.7" r="6.9"/><circle cx="750.1" cy="1111.8" r="6.9"/><circle cx="772.2" cy="1113.8" r="6.9"/><circle cx="757.9" cy="1114.5" r="6.9"/><circle cx="743" cy="1115.8" r="6.9"/><circle cx="735.1" cy="1118.2" r="6.9"/><circle cx="764.4" cy="1120.1" r="6.9"/><circle cx="750.1" cy="1121.2" r="6.9"/><circle cx="728" cy="1122.3" r="6.9"/><circle cx="772.2" cy="1124" r="6.9"/><circle cx="743" cy="1125.6" r="6.9"/><circle cx="756.6" cy="1127" r="6.9"/><circle cx="735.1" cy="1128.6" r="6.9"/><circle cx="764.4" cy="1129.9" r="6.9"/><circle cx="749.5" cy="1131.5" r="6.9"/><circle cx="728" cy="1133.2" r="6.9"/><circle cx="771.6" cy="1134.1" r="6.9"/><circle cx="756.6" cy="1136.2" r="6.9"/><circle cx="743" cy="1137.2" r="6.9"/><circle cx="734.5" cy="1138.6" r="6.9"/><circle cx="763.8" cy="1140.3" r="6.9"/><circle cx="750.1" cy="1141.6" r="6.9"/><circle cx="771.6" cy="1143.9" r="6.9"/><circle cx="757.2" cy="1146" r="6.9"/><circle cx="744.2" cy="1147.8" r="6.9"/><circle cx="735.8" cy="1149" r="6.9"/><circle cx="764.4" cy="1150.9" r="6.9"/><circle cx="751.4" cy="1152.6" r="6.9"/><circle cx="729.3" cy="1154.4" r="6.9"/><circle cx="744.2" cy="1156.9" r="6.9"/><circle cx="757.9" cy="1158.5" r="6.9"/><circle cx="737.1" cy="1162" r="6.9"/><circle cx="750.1" cy="1163.5" r="6.9"/><circle cx="760.5" cy="1166.9" r="6.9"/><circle cx="745.6" cy="1170.9" r="6.9"/><circle cx="752.1" cy="1176.1" r="6.9"/><circle cx="750.1" cy="937.9" r="6.9"/><circle cx="750.1" cy="993.8" r="6.9"/><circle cx="750.1" cy="1001" r="6.9"/><circle cx="750.1" cy="1023" r="6.9"/><circle cx="750.1" cy="1191" r="6.9"/><circle cx="750.1" cy="1200" r="6.9"/><circle cx="750.1" cy="1212.2" r="6.9"/><circle cx="750.1" cy="1232" r="6.9"/></g>
<g fill="#f26c2a"><circle cx="810.4" cy="939.8" r="6.9"/><circle cx="808.4" cy="947.9" r="6.9"/><circle cx="813.7" cy="954.6" r="6.9"/><circle cx="810.4" cy="962.2" r="6.9"/><circle cx="816.3" cy="968.3" r="6.9"/><circle cx="809.1" cy="972.1" r="6.9"/><circle cx="801.9" cy="975.6" r="6.9"/><circle cx="815.6" cy="977.4" r="6.9"/><circle cx="823.5" cy="980.1" r="6.9"/><circle cx="809.1" cy="982.8" r="6.9"/><circle cx="799.9" cy="983.7" r="6.9"/><circle cx="816.9" cy="985.7" r="6.9"/><circle cx="826.1" cy="988.1" r="6.9"/><circle cx="794.1" cy="989.7" r="6.9"/><circle cx="810.4" cy="991.5" r="6.9"/><circle cx="802.6" cy="993.4" r="6.9"/><circle cx="818.2" cy="994.6" r="6.9"/><circle cx="826.1" cy="996.8" r="6.9"/><circle cx="796" cy="998.2" r="6.9"/><circle cx="810.4" cy="1000.6" r="6.9"/><circle cx="788.8" cy="1002.2" r="6.9"/><circle cx="802.6" cy="1003.1" r="6.9"/><circle cx="816.9" cy="1005.4" r="6.9"/><circle cx="824.8" cy="1006.5" r="6.9"/><circle cx="809.1" cy="1008.9" r="6.9"/><circle cx="798.6" cy="1010.6" r="6.9"/><circle cx="790.8" cy="1011.7" r="6.9"/><circle cx="815.6" cy="1013.8" r="6.9"/><circle cx="823.5" cy="1015.3" r="6.9"/><circle cx="808.4" cy="1017.3" r="6.9"/><circle cx="796" cy="1018.7" r="6.9"/><circle cx="829.3" cy="1020.8" r="6.9"/><circle cx="815" cy="1022.2" r="6.9"/><circle cx="803.9" cy="1024.2" r="6.9"/><circle cx="822.2" cy="1026.5" r="6.9"/><circle cx="796.7" cy="1028.6" r="6.9"/><circle cx="810.4" cy="1030.4" r="6.9"/><circle cx="828.7" cy="1031.9" r="6.9"/><circle cx="817.6" cy="1034.5" r="6.9"/><circle cx="804.5" cy="1036" r="6.9"/><circle cx="796.7" cy="1038.7" r="6.9"/><circle cx="811.7" cy="1040.5" r="6.9"/><circle cx="820.2" cy="1042.6" r="6.9"/><circle cx="805.2" cy="1045.4" r="6.9"/><circle cx="797.3" cy="1047.6" r="6.9"/><circle cx="811.7" cy="1050.1" r="6.9"/><circle cx="819.5" cy="1052.1" r="6.9"/><circle cx="804.5" cy="1054.2" r="6.9"/><circle cx="796.7" cy="1056.1" r="6.9"/><circle cx="811.7" cy="1058.6" r="6.9"/><circle cx="822.2" cy="1060.1" r="6.9"/><circle cx="790.8" cy="1061.8" r="6.9"/><circle cx="805.2" cy="1063.6" r="6.9"/><circle cx="828.7" cy="1065.5" r="6.9"/><circle cx="812.4" cy="1067.4" r="6.9"/><circle cx="820.2" cy="1069.8" r="6.9"/><circle cx="800.6" cy="1070.6" r="6.9"/><circle cx="792.8" cy="1072.4" r="6.9"/><circle cx="807.8" cy="1074.4" r="6.9"/><circle cx="825.4" cy="1076.5" r="6.9"/><circle cx="815.6" cy="1077.3" r="6.9"/><circle cx="801.3" cy="1079.5" r="6.9"/><circle cx="793.4" cy="1081.1" r="6.9"/><circle cx="831.3" cy="1082.3" r="6.9"/><circle cx="810.4" cy="1084.1" r="6.9"/><circle cx="818.2" cy="1085.7" r="6.9"/><circle cx="787.5" cy="1087.3" r="6.9"/><circle cx="803.9" cy="1089.4" r="6.9"/><circle cx="824.1" cy="1091.5" r="6.9"/><circle cx="811.1" cy="1092.7" r="6.9"/><circle cx="797.3" cy="1094.9" r="6.9"/><circle cx="830.6" cy="1096.9" r="6.9"/><circle cx="805.2" cy="1098.4" r="6.9"/><circle cx="814.3" cy="1100.3" r="6.9"/><circle cx="822.2" cy="1101.3" r="6.9"/><circle cx="799.3" cy="1104.1" r="6.9"/><circle cx="808.4" cy="1106" r="6.9"/><circle cx="827.4" cy="1107.8" r="6.9"/><circle cx="815.6" cy="1109.3" r="6.9"/><circle cx="802.6" cy="1111.7" r="6.9"/><circle cx="794.7" cy="1113.5" r="6.9"/><circle cx="809.7" cy="1115.3" r="6.9"/><circle cx="817.6" cy="1118.1" r="6.9"/><circle cx="803.2" cy="1120.5" r="6.9"/><circle cx="824.8" cy="1122.3" r="6.9"/><circle cx="810.4" cy="1124.5" r="6.9"/><circle cx="817.6" cy="1127.9" r="6.9"/><circle cx="804.5" cy="1130.5" r="6.9"/><circle cx="811.7" cy="1134.1" r="6.9"/><circle cx="819.5" cy="1136.8" r="6.9"/><circle cx="807.8" cy="1141.4" r="6.9"/><circle cx="815" cy="1145.7" r="6.9"/><circle cx="810.4" cy="1157" r="6.9"/><circle cx="810.4" cy="858.6" r="6.9"/><circle cx="810.4" cy="882.4" r="6.9"/><circle cx="810.4" cy="892" r="6.9"/><circle cx="810.4" cy="903.2" r="6.9"/><circle cx="810.4" cy="1169" r="6.9"/><circle cx="810.4" cy="1197.3" r="6.9"/></g>
<g fill="#7030a0"><circle cx="870.8" cy="1000.4" r="6.9"/><circle cx="877.4" cy="1004.5" r="6.9"/><circle cx="866.2" cy="1006.8" r="6.9"/><circle cx="858.9" cy="1009.3" r="6.9"/><circle cx="872.8" cy="1011" r="6.9"/><circle cx="880" cy="1013.9" r="6.9"/><circle cx="866.8" cy="1015.7" r="6.9"/><circle cx="859.6" cy="1018.3" r="6.9"/><circle cx="872.8" cy="1020.5" r="6.9"/><circle cx="880" cy="1022.7" r="6.9"/><circle cx="866.2" cy="1024.5" r="6.9"/><circle cx="859.6" cy="1027.8" r="6.9"/><circle cx="870.8" cy="1030.5" r="6.9"/><circle cx="878.1" cy="1032.7" r="6.9"/><circle cx="864.9" cy="1035.3" r="6.9"/><circle cx="872.1" cy="1038.3" r="6.9"/><circle cx="879.4" cy="1041" r="6.9"/><circle cx="867.5" cy="1044.3" r="6.9"/><circle cx="874.1" cy="1048.3" r="6.9"/><circle cx="867.5" cy="1052.3" r="6.9"/><circle cx="876.7" cy="1055.4" r="6.9"/><circle cx="862.9" cy="1058.2" r="6.9"/><circle cx="870.8" cy="1060.1" r="6.9"/><circle cx="881.3" cy="1061.6" r="6.9"/><circle cx="857.6" cy="1063.7" r="6.9"/><circle cx="887.9" cy="1065" r="6.9"/><circle cx="874.8" cy="1066.8" r="6.9"/><circle cx="867.5" cy="1068.5" r="6.9"/><circle cx="881.3" cy="1070.5" r="6.9"/><circle cx="860.2" cy="1071.5" r="6.9"/><circle cx="888.6" cy="1072.8" r="6.9"/><circle cx="853" cy="1073.9" r="6.9"/><circle cx="870.8" cy="1076.1" r="6.9"/><circle cx="895.2" cy="1076.7" r="6.9"/><circle cx="878.1" cy="1078.6" r="6.9"/><circle cx="864.2" cy="1079.6" r="6.9"/><circle cx="857" cy="1081.5" r="6.9"/><circle cx="884.6" cy="1082" r="6.9"/><circle cx="849.7" cy="1083" r="6.9"/><circle cx="870.8" cy="1084.8" r="6.9"/><circle cx="878.1" cy="1086.7" r="6.9"/><circle cx="864.2" cy="1087.9" r="6.9"/><circle cx="855" cy="1088.8" r="6.9"/><circle cx="884.6" cy="1089.9" r="6.9"/><circle cx="891.9" cy="1091.7" r="6.9"/><circle cx="870.8" cy="1093" r="6.9"/><circle cx="849.7" cy="1094" r="6.9"/><circle cx="878.1" cy="1094.7" r="6.9"/><circle cx="864.2" cy="1096" r="6.9"/><circle cx="884.6" cy="1098.6" r="6.9"/><circle cx="857.6" cy="1099.5" r="6.9"/><circle cx="872.1" cy="1100.5" r="6.9"/><circle cx="891.2" cy="1101.9" r="6.9"/><circle cx="851" cy="1103.2" r="6.9"/><circle cx="866.2" cy="1104.8" r="6.9"/><circle cx="877.4" cy="1106" r="6.9"/><circle cx="858.9" cy="1107" r="6.9"/><circle cx="884.6" cy="1108.5" r="6.9"/><circle cx="891.9" cy="1110.2" r="6.9"/><circle cx="870.8" cy="1111.5" r="6.9"/><circle cx="863.5" cy="1113" r="6.9"/><circle cx="878.1" cy="1114.1" r="6.9"/><circle cx="857" cy="1116.6" r="6.9"/><circle cx="884.6" cy="1117.6" r="6.9"/><circle cx="870.8" cy="1119.1" r="6.9"/><circle cx="863.5" cy="1120.7" r="6.9"/><circle cx="877.4" cy="1122.9" r="6.9"/><circle cx="857.6" cy="1125.1" r="6.9"/><circle cx="869.5" cy="1126.7" r="6.9"/><circle cx="882.7" cy="1128.7" r="6.9"/><circle cx="889.9" cy="1130.2" r="6.9"/><circle cx="874.1" cy="1132.8" r="6.9"/><circle cx="866.8" cy="1134.9" r="6.9"/><circle cx="880" cy="1137.2" r="6.9"/><circle cx="860.2" cy="1138.8" r="6.9"/><circle cx="870.8" cy="1141.3" r="6.9"/><circle cx="877.4" cy="1144.6" r="6.9"/><circle cx="864.9" cy="1146.5" r="6.9"/><circle cx="883.3" cy="1149.5" r="6.9"/><circle cx="870.8" cy="1153" r="6.9"/><circle cx="864.2" cy="1156.6" r="6.9"/><circle cx="873.4" cy="1160.2" r="6.9"/><circle cx="868.2" cy="1165.5" r="6.9"/><circle cx="874.1" cy="1170.2" r="6.9"/><circle cx="870.8" cy="1177.8" r="6.9"/><circle cx="870.8" cy="1192.1" r="6.9"/><circle cx="870.8" cy="936.1" r="6.9"/><circle cx="870.8" cy="953" r="6.9"/><circle cx="870.8" cy="964.6" r="6.9"/><circle cx="870.8" cy="978.5" r="6.9"/><circle cx="870.8" cy="1223.9" r="6.9"/></g>
</g>
<path d="M338.3 980.5H380.3" stroke="#000" stroke-width="4.4" stroke-linecap="round"/>
<circle cx="359.5" cy="980.7" r="5.7" fill="#595959" stroke="#000" stroke-width="2.2"/>
<circle cx="347.5" cy="980.7" r="5.7" fill="#595959" stroke="#000" stroke-width="2.2"/>
<circle cx="371.5" cy="980.7" r="5.7" fill="#595959" stroke="#000" stroke-width="2.2"/>
<path d="M398.9 980.5H440.9" stroke="#000" stroke-width="4.4" stroke-linecap="round"/>
<circle cx="419.9" cy="980.7" r="5.7" fill="#f27226" stroke="#000" stroke-width="2.2"/>
<circle cx="407.9" cy="980.7" r="5.7" fill="#f27226" stroke="#000" stroke-width="2.2"/>
<circle cx="432.3" cy="980.7" r="5.7" fill="#f27226" stroke="#000" stroke-width="2.2"/>
<path d="M459.2 980.5H501.2" stroke="#000" stroke-width="4.4" stroke-linecap="round"/>
<circle cx="480.2" cy="980.7" r="5.7" fill="#6a2f96" stroke="#000" stroke-width="2.2"/>
<circle cx="468.2" cy="980.7" r="5.7" fill="#6a2f96" stroke="#000" stroke-width="2.2"/>
<circle cx="492.4" cy="980.7" r="5.7" fill="#6a2f96" stroke="#000" stroke-width="2.2"/>
<path d="M533.6 1065.1H575.6" stroke="#000" stroke-width="4.4" stroke-linecap="round"/>
<circle cx="542.6" cy="1063.2" r="6.5" fill="#595959" stroke="#000" stroke-width="2.2"/>
<circle cx="566.8" cy="1053" r="6.5" fill="#595959" stroke="#000" stroke-width="2.2"/>
<circle cx="554.7" cy="1078.5" r="6.5" fill="#595959" stroke="#000" stroke-width="2.2"/>
<path d="M594.2 1001.2H636.2" stroke="#000" stroke-width="4.4" stroke-linecap="round"/>
<circle cx="603.3" cy="999" r="6.5" fill="#f27226" stroke="#000" stroke-width="2.2"/>
<circle cx="615.2" cy="1005.4" r="6.5" fill="#f27226" stroke="#000" stroke-width="2.2"/>
<circle cx="626.8" cy="998.2" r="6.5" fill="#f27226" stroke="#000" stroke-width="2.2"/>
<path d="M655.2 1045.9H697.2" stroke="#000" stroke-width="4.4" stroke-linecap="round"/>
<circle cx="664.3" cy="1045.7" r="6.5" fill="#6a2f96" stroke="#000" stroke-width="2.2"/>
<circle cx="676" cy="1055.2" r="6.5" fill="#6a2f96" stroke="#000" stroke-width="2.2"/>
<circle cx="688" cy="1037.5" r="6.5" fill="#6a2f96" stroke="#000" stroke-width="2.2"/>
<path d="M729.2 1106.5H771.2" stroke="#000" stroke-width="4.4" stroke-linecap="round"/>
<circle cx="745.5" cy="1097.3" r="6.5" fill="#595959" stroke="#000" stroke-width="2.2"/>
<circle cx="757.3" cy="1113.3" r="6.5" fill="#595959" stroke="#000" stroke-width="2.2"/>
<path d="M789.3 1042H831.3" stroke="#000" stroke-width="4.4" stroke-linecap="round"/>
<circle cx="804.8" cy="1029.1" r="6.5" fill="#f27226" stroke="#000" stroke-width="2.2"/>
<circle cx="817.2" cy="1054.5" r="6.5" fill="#f27226" stroke="#000" stroke-width="2.2"/>
<path d="M850 1080.5H892" stroke="#000" stroke-width="4.4" stroke-linecap="round"/>
<circle cx="866.3" cy="1075.1" r="6.5" fill="#6a2f96" stroke="#000" stroke-width="2.2"/>
<circle cx="878.1" cy="1086.2" r="6.5" fill="#6a2f96" stroke="#000" stroke-width="2.2"/>
<path d="M323.05 1302.3V656.4H911.75V1302.3" fill="none" stroke="#000" stroke-width="2.2"/>
<path d="M312.2 1302.3H912.9" stroke="#000" stroke-width="2.1"/>
<path d="M517.9 656.4V1302.3" stroke="#000" stroke-width="1.8"/>
<path d="M714.8 656.4V1302.3" stroke="#000" stroke-width="1.8"/>
<path d="M312.9 819.5H322" stroke="#000" stroke-width="1.6"/>
<path d="M312.9 980.2H322" stroke="#000" stroke-width="1.6"/>
<path d="M312.9 1141.2H322" stroke="#000" stroke-width="1.6"/>
<text x="266.9" y="822.8">1.5</text>
<text x="266.8" y="986.9">1.0</text>
<text x="266.9" y="1148">0.5</text>
<text x="266.9" y="1305.6">0.0</text>
<text transform="translate(256.2 1220) rotate(-90)" font-size="28.1">RNAPIIS2P ratio (in / outside damage)</text>
<text x="213.3" y="682.3">post UV</text>
<text x="329.9" y="682.3">0 h</text>
<text x="525.4" y="681.9">1 h</text>
<text x="719.5" y="681.9">2 h</text>
<path d="M359.3 1303V1312.8" stroke="#000" stroke-width="1.8"/>
<path d="M419.9 1303V1312.8" stroke="#000" stroke-width="1.8"/>
<path d="M480.3 1303V1312.8" stroke="#000" stroke-width="1.8"/>
<path d="M554.4 1303V1312.8" stroke="#000" stroke-width="1.8"/>
<path d="M615.2 1303V1312.8" stroke="#000" stroke-width="1.8"/>
<path d="M675.8 1303V1312.8" stroke="#000" stroke-width="1.8"/>
<path d="M750.1 1303V1312.8" stroke="#000" stroke-width="1.8"/>
<path d="M810.4 1303V1312.8" stroke="#000" stroke-width="1.8"/>
<path d="M870.8 1303V1312.8" stroke="#000" stroke-width="1.8"/>
<text x="254" y="1342.8">siNT</text>
<text x="196.7" y="1373.9">siUVSSA</text>
<circle cx="359.4" cy="1336.1" r="6.5" fill="#000"/>
<circle cx="420" cy="1336.1" r="6.5" fill="#000"/>
<circle cx="480.4" cy="1367.9" r="6.5" fill="#000"/>
<circle cx="554.5" cy="1336.1" r="6.5" fill="#000"/>
<circle cx="615.3" cy="1336.1" r="6.5" fill="#000"/>
<circle cx="675.9" cy="1367.9" r="6.5" fill="#000"/>
<circle cx="750.2" cy="1336.1" r="6.5" fill="#000"/>
<circle cx="810.5" cy="1336.1" r="6.5" fill="#000"/>
<circle cx="870.9" cy="1367.9" r="6.5" fill="#000"/>
<path d="M331.3 1386.7H387.7" stroke="#000" stroke-width="1.8"/>
<path d="M395.3 1386.7H517.8" stroke="#000" stroke-width="1.8"/>
<path d="M526.1 1386.7H582.4" stroke="#000" stroke-width="1.8"/>
<path d="M590.4 1386.7H712.8" stroke="#000" stroke-width="1.8"/>
<path d="M721.2 1386.7H777" stroke="#000" stroke-width="1.8"/>
<path d="M785.2 1386.7H907.7" stroke="#000" stroke-width="1.8"/>
<text x="338.5" y="1419">WT</text>
<text x="533.1" y="1419">WT</text>
<text x="729.7" y="1419">WT</text>
<text x="401.9" y="1419">XPD<tspan x="459.8" y="1410" font-size="16.4">G675R</tspan></text>
<text x="599" y="1419">XPD<tspan x="656.9" y="1410" font-size="16.4">G675R</tspan></text>
<text x="797.2" y="1419">XPD<tspan x="855.1" y="1410" font-size="16.4">G675R</tspan></text>
<path d="M331.3 1446.5H907.7" stroke="#000" stroke-width="1.8"/>
<text x="551.2" y="1476">Fibroblasts</text>
<path d="M553.9 726.9H614.7" stroke="#000" stroke-width="2.2"/>
<text x="568.8" y="728.6" font-size="26.5">***</text>
<path d="M613.8 753.3H675.6" stroke="#000" stroke-width="2.2"/>
<text x="634.7" y="754.5" font-size="26.5">**</text>
<path d="M751.6 723.9H812.5" stroke="#000" stroke-width="2.2"/>
<text x="766.6" y="725.5" font-size="26.5">***</text>
<path d="M811.9 750.5H873.5" stroke="#000" stroke-width="2.2"/>
<text x="837.4" y="750.1" font-size="26.5">*</text>
<!-- panel f -->
<text x="1004.4" y="627.5">f</text>
<rect x="1394.6" y="656.4" width="262.8" height="655.9" fill="#fef4f0"/>
<g fill-opacity=".3" class="sw">
<g fill="#404040"><circle cx="1176.4" cy="890.8" r="6.9"/><circle cx="1181.5" cy="894" r="6.9"/><circle cx="1176.4" cy="897.1" r="6.9"/><circle cx="1181.5" cy="900.6" r="6.9"/><circle cx="1176.4" cy="903.4" r="6.9"/><circle cx="1171.3" cy="906.3" r="6.9"/><circle cx="1176.4" cy="908.9" r="6.9"/><circle cx="1182.3" cy="911.2" r="6.9"/><circle cx="1173.5" cy="913.8" r="6.9"/><circle cx="1167.6" cy="915.7" r="6.9"/><circle cx="1177.9" cy="917.8" r="6.9"/><circle cx="1172" cy="919.7" r="6.9"/><circle cx="1181.5" cy="922.2" r="6.9"/><circle cx="1166.8" cy="923" r="6.9"/><circle cx="1176.4" cy="924.7" r="6.9"/><circle cx="1184.5" cy="927.2" r="6.9"/><circle cx="1172" cy="928.3" r="6.9"/><circle cx="1177.9" cy="930.2" r="6.9"/><circle cx="1167.6" cy="931.9" r="6.9"/><circle cx="1186.7" cy="932.3" r="6.9"/><circle cx="1174.2" cy="934.6" r="6.9"/><circle cx="1180.1" cy="935.8" r="6.9"/><circle cx="1165.4" cy="937" r="6.9"/><circle cx="1185.2" cy="938.3" r="6.9"/><circle cx="1176.4" cy="940.1" r="6.9"/><circle cx="1170.5" cy="940.6" r="6.9"/><circle cx="1162.4" cy="941.7" r="6.9"/><circle cx="1181.5" cy="943.6" r="6.9"/><circle cx="1187.4" cy="944.2" r="6.9"/><circle cx="1176.4" cy="946.2" r="6.9"/><circle cx="1170.5" cy="947.4" r="6.9"/><circle cx="1164.6" cy="947.6" r="6.9"/><circle cx="1191.1" cy="948.7" r="6.9"/><circle cx="1181.5" cy="949.7" r="6.9"/><circle cx="1174.9" cy="951.7" r="6.9"/><circle cx="1161" cy="952.1" r="6.9"/><circle cx="1169.1" cy="953" r="6.9"/><circle cx="1185.2" cy="954.5" r="6.9"/><circle cx="1179.3" cy="955.7" r="6.9"/><circle cx="1164.6" cy="956.8" r="6.9"/><circle cx="1173.5" cy="957.5" r="6.9"/><circle cx="1188.9" cy="958.7" r="6.9"/><circle cx="1183" cy="960.1" r="6.9"/><circle cx="1160.2" cy="960.7" r="6.9"/><circle cx="1169.1" cy="961.2" r="6.9"/><circle cx="1176.4" cy="962.9" r="6.9"/><circle cx="1191.8" cy="963.8" r="6.9"/><circle cx="1197.7" cy="964" r="6.9"/><circle cx="1181.5" cy="965.6" r="6.9"/><circle cx="1165.4" cy="965.7" r="6.9"/><circle cx="1172.7" cy="967.4" r="6.9"/><circle cx="1187.4" cy="967.5" r="6.9"/><circle cx="1160.2" cy="968.5" r="6.9"/><circle cx="1177.9" cy="970.1" r="6.9"/><circle cx="1192.6" cy="970.6" r="6.9"/><circle cx="1169.1" cy="971.7" r="6.9"/><circle cx="1183" cy="972.8" r="6.9"/><circle cx="1163.2" cy="973.6" r="6.9"/><circle cx="1174.2" cy="974.6" r="6.9"/><circle cx="1188.2" cy="975.6" r="6.9"/><circle cx="1194" cy="977.1" r="6.9"/><circle cx="1179.3" cy="977.1" r="6.9"/><circle cx="1169.1" cy="977.8" r="6.9"/><circle cx="1163.2" cy="979.5" r="6.9"/><circle cx="1184.5" cy="980.1" r="6.9"/><circle cx="1174.9" cy="981" r="6.9"/><circle cx="1190.4" cy="982.4" r="6.9"/><circle cx="1158.8" cy="983.1" r="6.9"/><circle cx="1180.1" cy="983.8" r="6.9"/><circle cx="1171.3" cy="985.3" r="6.9"/><circle cx="1186" cy="986.3" r="6.9"/><circle cx="1165.4" cy="986.9" r="6.9"/><circle cx="1191.8" cy="987.9" r="6.9"/><circle cx="1176.4" cy="989.3" r="6.9"/><circle cx="1160.2" cy="989.7" r="6.9"/><circle cx="1182.3" cy="991.6" r="6.9"/><circle cx="1170.5" cy="991.8" r="6.9"/><circle cx="1188.2" cy="993" r="6.9"/><circle cx="1165.4" cy="994.6" r="6.9"/><circle cx="1176.4" cy="994.8" r="6.9"/><circle cx="1159.5" cy="996.5" r="6.9"/><circle cx="1192.6" cy="996.6" r="6.9"/><circle cx="1181.5" cy="997.5" r="6.9"/><circle cx="1172" cy="998.7" r="6.9"/><circle cx="1187.4" cy="999.7" r="6.9"/><circle cx="1166.1" cy="1001.1" r="6.9"/><circle cx="1177.1" cy="1001.9" r="6.9"/><circle cx="1183" cy="1003.7" r="6.9"/><circle cx="1172" cy="1004.7" r="6.9"/><circle cx="1188.9" cy="1005.2" r="6.9"/><circle cx="1163.2" cy="1006" r="6.9"/><circle cx="1177.1" cy="1007.5" r="6.9"/><circle cx="1194" cy="1008.5" r="6.9"/><circle cx="1182.3" cy="1010" r="6.9"/><circle cx="1172" cy="1010.5" r="6.9"/><circle cx="1166.1" cy="1012" r="6.9"/><circle cx="1187.4" cy="1012.7" r="6.9"/><circle cx="1176.4" cy="1014.8" r="6.9"/><circle cx="1182.3" cy="1015.5" r="6.9"/><circle cx="1170.5" cy="1016.6" r="6.9"/><circle cx="1164.6" cy="1017.6" r="6.9"/><circle cx="1187.4" cy="1018.6" r="6.9"/><circle cx="1193.3" cy="1019.5" r="6.9"/><circle cx="1176.4" cy="1021.3" r="6.9"/><circle cx="1182.3" cy="1022.3" r="6.9"/><circle cx="1171.3" cy="1024.1" r="6.9"/><circle cx="1165.4" cy="1024.3" r="6.9"/><circle cx="1186.7" cy="1026.1" r="6.9"/><circle cx="1176.4" cy="1027.4" r="6.9"/><circle cx="1168.3" cy="1029.1" r="6.9"/><circle cx="1162.4" cy="1029.5" r="6.9"/><circle cx="1181.5" cy="1030.8" r="6.9"/><circle cx="1173.5" cy="1032.4" r="6.9"/><circle cx="1166.1" cy="1034.3" r="6.9"/><circle cx="1185.2" cy="1035.2" r="6.9"/><circle cx="1177.9" cy="1036.4" r="6.9"/><circle cx="1171.3" cy="1037.7" r="6.9"/><circle cx="1162.4" cy="1038.8" r="6.9"/><circle cx="1182.3" cy="1040.3" r="6.9"/><circle cx="1176.4" cy="1041.8" r="6.9"/><circle cx="1170.5" cy="1043.2" r="6.9"/><circle cx="1185.2" cy="1045.1" r="6.9"/><circle cx="1165.4" cy="1046.1" r="6.9"/><circle cx="1176.4" cy="1047.9" r="6.9"/><circle cx="1170.5" cy="1049.7" r="6.9"/><circle cx="1181.5" cy="1051.3" r="6.9"/><circle cx="1175.7" cy="1053.4" r="6.9"/><circle cx="1167.6" cy="1054.6" r="6.9"/><circle cx="1184.5" cy="1056.3" r="6.9"/><circle cx="1177.1" cy="1058.9" r="6.9"/><circle cx="1171.3" cy="1061.1" r="6.9"/><circle cx="1178.6" cy="1064.3" r="6.9"/><circle cx="1173.5" cy="1066.9" r="6.9"/><circle cx="1180.8" cy="1069.5" r="6.9"/><circle cx="1176.4" cy="1073.6" r="6.9"/><circle cx="1180.8" cy="1077.3" r="6.9"/><circle cx="1176.4" cy="1083" r="6.9"/><circle cx="1176.4" cy="1091.1" r="6.9"/><circle cx="1176.4" cy="1101.8" r="6.9"/><circle cx="1176.4" cy="748.7" r="6.9"/><circle cx="1176.4" cy="790.2" r="6.9"/><circle cx="1176.4" cy="830" r="6.9"/><circle cx="1176.4" cy="842" r="6.9"/><circle cx="1176.4" cy="856.5" r="6.9"/><circle cx="1176.4" cy="872.6" r="6.9"/><circle cx="1176.4" cy="1122.3" r="6.9"/><circle cx="1176.4" cy="1136.5" r="6.9"/><circle cx="1176.4" cy="1147.9" r="6.9"/></g>
<g fill="#8a8a8a"><circle cx="1237.6" cy="879.8" r="6.9"/><circle cx="1237.6" cy="885.8" r="6.9"/><circle cx="1235" cy="890.7" r="6.9"/><circle cx="1238.9" cy="894.8" r="6.9"/><circle cx="1233.6" cy="897.1" r="6.9"/><circle cx="1240.9" cy="899.9" r="6.9"/><circle cx="1236.3" cy="902.5" r="6.9"/><circle cx="1242.9" cy="905.1" r="6.9"/><circle cx="1233.6" cy="907.5" r="6.9"/><circle cx="1238.9" cy="909" r="6.9"/><circle cx="1244.2" cy="911.2" r="6.9"/><circle cx="1231.7" cy="912.7" r="6.9"/><circle cx="1237.6" cy="914.8" r="6.9"/><circle cx="1242.2" cy="917.3" r="6.9"/><circle cx="1229.7" cy="917.9" r="6.9"/><circle cx="1235.6" cy="920" r="6.9"/><circle cx="1246.2" cy="921.5" r="6.9"/><circle cx="1240.2" cy="922.7" r="6.9"/><circle cx="1232.3" cy="924.6" r="6.9"/><circle cx="1227.1" cy="925.2" r="6.9"/><circle cx="1243.5" cy="927" r="6.9"/><circle cx="1236.9" cy="927.2" r="6.9"/><circle cx="1248.8" cy="928.7" r="6.9"/><circle cx="1232.3" cy="930.6" r="6.9"/><circle cx="1227.1" cy="930.9" r="6.9"/><circle cx="1240.2" cy="931.8" r="6.9"/><circle cx="1252.7" cy="932.8" r="6.9"/><circle cx="1245.5" cy="933.8" r="6.9"/><circle cx="1235.6" cy="935.1" r="6.9"/><circle cx="1230.4" cy="936.3" r="6.9"/><circle cx="1225.1" cy="937" r="6.9"/><circle cx="1239.6" cy="938.7" r="6.9"/><circle cx="1248.1" cy="938.9" r="6.9"/><circle cx="1253.4" cy="940.3" r="6.9"/><circle cx="1234.3" cy="940.9" r="6.9"/><circle cx="1243.5" cy="942.4" r="6.9"/><circle cx="1229" cy="942.6" r="6.9"/><circle cx="1223.8" cy="944" r="6.9"/><circle cx="1237.6" cy="945.3" r="6.9"/><circle cx="1248.1" cy="945.9" r="6.9"/><circle cx="1253.4" cy="946.4" r="6.9"/><circle cx="1232.3" cy="947.3" r="6.9"/><circle cx="1242.2" cy="948" r="6.9"/><circle cx="1227.1" cy="948.6" r="6.9"/><circle cx="1221.8" cy="949.8" r="6.9"/><circle cx="1237.6" cy="950.9" r="6.9"/><circle cx="1246.8" cy="951.4" r="6.9"/><circle cx="1231" cy="952.7" r="6.9"/><circle cx="1252.1" cy="953.5" r="6.9"/><circle cx="1217.8" cy="953.8" r="6.9"/><circle cx="1242.2" cy="954.4" r="6.9"/><circle cx="1226.4" cy="955.7" r="6.9"/><circle cx="1257.4" cy="955.8" r="6.9"/><circle cx="1237.6" cy="957.4" r="6.9"/><circle cx="1246.8" cy="957.5" r="6.9"/><circle cx="1232.3" cy="958.3" r="6.9"/><circle cx="1252.1" cy="959.3" r="6.9"/><circle cx="1242.2" cy="960.7" r="6.9"/><circle cx="1227.7" cy="961.5" r="6.9"/><circle cx="1222.5" cy="961.7" r="6.9"/><circle cx="1235.6" cy="962.5" r="6.9"/><circle cx="1246.8" cy="963.9" r="6.9"/><circle cx="1254.7" cy="964.2" r="6.9"/><circle cx="1217.8" cy="965" r="6.9"/><circle cx="1239.6" cy="966.6" r="6.9"/><circle cx="1231.7" cy="966.7" r="6.9"/><circle cx="1226.4" cy="967.8" r="6.9"/><circle cx="1249.5" cy="968.7" r="6.9"/><circle cx="1244.2" cy="969.7" r="6.9"/><circle cx="1235.6" cy="970.2" r="6.9"/><circle cx="1222.5" cy="971.9" r="6.9"/><circle cx="1254.1" cy="972" r="6.9"/><circle cx="1231" cy="973.2" r="6.9"/><circle cx="1239.6" cy="974.4" r="6.9"/><circle cx="1244.8" cy="975.3" r="6.9"/><circle cx="1218.5" cy="975.5" r="6.9"/><circle cx="1235" cy="977.4" r="6.9"/><circle cx="1228.4" cy="978" r="6.9"/><circle cx="1249.5" cy="978.8" r="6.9"/><circle cx="1223.1" cy="979.5" r="6.9"/><circle cx="1239.6" cy="980.3" r="6.9"/><circle cx="1244.8" cy="982" r="6.9"/><circle cx="1235" cy="983.1" r="6.9"/><circle cx="1252.7" cy="983.1" r="6.9"/><circle cx="1229.7" cy="985" r="6.9"/><circle cx="1240.9" cy="985.7" r="6.9"/><circle cx="1248.1" cy="986.6" r="6.9"/><circle cx="1225.1" cy="988" r="6.9"/><circle cx="1236.3" cy="988.7" r="6.9"/><circle cx="1252.7" cy="989.6" r="6.9"/><circle cx="1242.9" cy="990.9" r="6.9"/><circle cx="1231.7" cy="991.8" r="6.9"/><circle cx="1221.1" cy="992.1" r="6.9"/><circle cx="1248.1" cy="992.9" r="6.9"/><circle cx="1238.3" cy="993.8" r="6.9"/><circle cx="1227.1" cy="994.7" r="6.9"/><circle cx="1252.7" cy="996.2" r="6.9"/><circle cx="1233.6" cy="997.3" r="6.9"/><circle cx="1241.6" cy="998.2" r="6.9"/><circle cx="1246.8" cy="998.5" r="6.9"/><circle cx="1224.4" cy="999.6" r="6.9"/><circle cx="1219.2" cy="1000.7" r="6.9"/><circle cx="1237.6" cy="1002" r="6.9"/><circle cx="1231.7" cy="1002.4" r="6.9"/><circle cx="1242.9" cy="1003.6" r="6.9"/><circle cx="1248.1" cy="1004.1" r="6.9"/><circle cx="1227.1" cy="1005.6" r="6.9"/><circle cx="1252.7" cy="1006.7" r="6.9"/><circle cx="1235" cy="1006.8" r="6.9"/><circle cx="1222.5" cy="1008.3" r="6.9"/><circle cx="1240.2" cy="1008.5" r="6.9"/><circle cx="1230.4" cy="1010.3" r="6.9"/><circle cx="1245.5" cy="1010.4" r="6.9"/><circle cx="1256" cy="1011.2" r="6.9"/><circle cx="1236.3" cy="1012.2" r="6.9"/><circle cx="1225.7" cy="1013.2" r="6.9"/><circle cx="1250.1" cy="1013.8" r="6.9"/><circle cx="1240.9" cy="1015.3" r="6.9"/><circle cx="1232.3" cy="1016.4" r="6.9"/><circle cx="1221.8" cy="1017" r="6.9"/><circle cx="1245.5" cy="1018.1" r="6.9"/><circle cx="1236.9" cy="1018.9" r="6.9"/><circle cx="1227.7" cy="1019" r="6.9"/><circle cx="1250.1" cy="1020.7" r="6.9"/><circle cx="1255.4" cy="1021.6" r="6.9"/><circle cx="1241.6" cy="1022.3" r="6.9"/><circle cx="1233" cy="1023.1" r="6.9"/><circle cx="1223.8" cy="1023.2" r="6.9"/><circle cx="1218.5" cy="1024.1" r="6.9"/><circle cx="1246.2" cy="1025.5" r="6.9"/><circle cx="1237.6" cy="1026.3" r="6.9"/><circle cx="1228.4" cy="1026.7" r="6.9"/><circle cx="1250.8" cy="1028.3" r="6.9"/><circle cx="1223.1" cy="1028.8" r="6.9"/><circle cx="1240.9" cy="1030.7" r="6.9"/><circle cx="1235.6" cy="1031.7" r="6.9"/><circle cx="1246.2" cy="1031.7" r="6.9"/><circle cx="1230.4" cy="1032.7" r="6.9"/><circle cx="1225.1" cy="1034.4" r="6.9"/><circle cx="1250.8" cy="1035" r="6.9"/><circle cx="1237.6" cy="1037.2" r="6.9"/><circle cx="1242.9" cy="1037.8" r="6.9"/><circle cx="1232.3" cy="1038.4" r="6.9"/><circle cx="1247.5" cy="1041.1" r="6.9"/><circle cx="1228.4" cy="1042.1" r="6.9"/><circle cx="1237.6" cy="1043.1" r="6.9"/><circle cx="1242.9" cy="1044.9" r="6.9"/><circle cx="1233.6" cy="1046.7" r="6.9"/><circle cx="1228.4" cy="1048.5" r="6.9"/><circle cx="1238.3" cy="1049.5" r="6.9"/><circle cx="1243.5" cy="1051.6" r="6.9"/><circle cx="1234.3" cy="1053.4" r="6.9"/><circle cx="1239.6" cy="1055.2" r="6.9"/><circle cx="1230.4" cy="1057.5" r="6.9"/><circle cx="1237.6" cy="1060.9" r="6.9"/><circle cx="1233" cy="1063.7" r="6.9"/><circle cx="1237.6" cy="1066.4" r="6.9"/><circle cx="1234.3" cy="1071.1" r="6.9"/><circle cx="1237.6" cy="1075.7" r="6.9"/><circle cx="1240.2" cy="1080.7" r="6.9"/><circle cx="1237.6" cy="1087.2" r="6.9"/><circle cx="1237.6" cy="1095.9" r="6.9"/><circle cx="1237.6" cy="846.2" r="6.9"/><circle cx="1237.6" cy="858" r="6.9"/></g>
<g fill="#f26c2a"><circle cx="1298.8" cy="904.8" r="6.9"/><circle cx="1295.4" cy="908.3" r="6.9"/><circle cx="1300.2" cy="909.5" r="6.9"/><circle cx="1304.9" cy="911.7" r="6.9"/><circle cx="1298.8" cy="914.6" r="6.9"/><circle cx="1295.4" cy="918.3" r="6.9"/><circle cx="1300.2" cy="920.2" r="6.9"/><circle cx="1304.9" cy="921.9" r="6.9"/><circle cx="1296.1" cy="923.5" r="6.9"/><circle cx="1300.8" cy="925.1" r="6.9"/><circle cx="1292" cy="926.3" r="6.9"/><circle cx="1305.6" cy="927" r="6.9"/><circle cx="1296.8" cy="928.5" r="6.9"/><circle cx="1287.9" cy="929" r="6.9"/><circle cx="1301.5" cy="930.4" r="6.9"/><circle cx="1308.3" cy="931.1" r="6.9"/><circle cx="1294" cy="932.9" r="6.9"/><circle cx="1284.5" cy="933" r="6.9"/><circle cx="1289.2" cy="934.3" r="6.9"/><circle cx="1298.8" cy="935" r="6.9"/><circle cx="1303.6" cy="936.6" r="6.9"/><circle cx="1308.3" cy="936.7" r="6.9"/><circle cx="1313.1" cy="937.5" r="6.9"/><circle cx="1296.1" cy="939.2" r="6.9"/><circle cx="1291.3" cy="939.4" r="6.9"/><circle cx="1300.8" cy="940.9" r="6.9"/><circle cx="1305.6" cy="941.4" r="6.9"/><circle cx="1287.2" cy="942.4" r="6.9"/><circle cx="1310.4" cy="943.3" r="6.9"/><circle cx="1294.7" cy="944" r="6.9"/><circle cx="1282.4" cy="944.1" r="6.9"/><circle cx="1299.5" cy="945.7" r="6.9"/><circle cx="1315.2" cy="945.7" r="6.9"/><circle cx="1304.3" cy="946.7" r="6.9"/><circle cx="1290.6" cy="947.2" r="6.9"/><circle cx="1309" cy="948.6" r="6.9"/><circle cx="1285.8" cy="948.7" r="6.9"/><circle cx="1296.1" cy="949.7" r="6.9"/><circle cx="1300.8" cy="950.6" r="6.9"/><circle cx="1313.8" cy="950.9" r="6.9"/><circle cx="1281.7" cy="951.3" r="6.9"/><circle cx="1305.6" cy="952.3" r="6.9"/><circle cx="1292.7" cy="953.7" r="6.9"/><circle cx="1287.9" cy="953.9" r="6.9"/><circle cx="1317.9" cy="954" r="6.9"/><circle cx="1298.1" cy="955" r="6.9"/><circle cx="1302.9" cy="956.3" r="6.9"/><circle cx="1308.3" cy="956.5" r="6.9"/><circle cx="1284.5" cy="957.5" r="6.9"/><circle cx="1313.1" cy="957.9" r="6.9"/><circle cx="1290.6" cy="958.3" r="6.9"/><circle cx="1295.4" cy="959.2" r="6.9"/><circle cx="1279.7" cy="959.7" r="6.9"/><circle cx="1317.9" cy="960.2" r="6.9"/><circle cx="1300.2" cy="961.4" r="6.9"/><circle cx="1304.9" cy="962.1" r="6.9"/><circle cx="1309.7" cy="962.6" r="6.9"/><circle cx="1293.3" cy="963.8" r="6.9"/><circle cx="1288.6" cy="964.1" r="6.9"/><circle cx="1283.8" cy="964.2" r="6.9"/><circle cx="1314.5" cy="964.7" r="6.9"/><circle cx="1298.1" cy="966" r="6.9"/><circle cx="1302.9" cy="966.5" r="6.9"/><circle cx="1279.7" cy="966.8" r="6.9"/><circle cx="1307.7" cy="967.3" r="6.9"/><circle cx="1294" cy="968.6" r="6.9"/><circle cx="1289.2" cy="969.5" r="6.9"/><circle cx="1311.8" cy="969.9" r="6.9"/><circle cx="1298.8" cy="971" r="6.9"/><circle cx="1304.3" cy="971.3" r="6.9"/><circle cx="1284.5" cy="971.4" r="6.9"/><circle cx="1316.5" cy="972.1" r="6.9"/><circle cx="1294.7" cy="973.6" r="6.9"/><circle cx="1279.7" cy="973.8" r="6.9"/><circle cx="1289.9" cy="974.6" r="6.9"/><circle cx="1307.7" cy="975.1" r="6.9"/><circle cx="1299.5" cy="975.9" r="6.9"/><circle cx="1312.4" cy="976.1" r="6.9"/><circle cx="1285.2" cy="976.7" r="6.9"/><circle cx="1293.3" cy="978.3" r="6.9"/><circle cx="1317.2" cy="978.4" r="6.9"/><circle cx="1303.6" cy="979" r="6.9"/><circle cx="1281.1" cy="979.2" r="6.9"/><circle cx="1308.3" cy="980.1" r="6.9"/><circle cx="1298.8" cy="981.2" r="6.9"/><circle cx="1289.2" cy="981.5" r="6.9"/><circle cx="1313.1" cy="982.4" r="6.9"/><circle cx="1294" cy="983.2" r="6.9"/><circle cx="1284.5" cy="983.4" r="6.9"/><circle cx="1302.9" cy="984.3" r="6.9"/><circle cx="1317.9" cy="984.7" r="6.9"/><circle cx="1298.1" cy="986.2" r="6.9"/><circle cx="1307.7" cy="986.5" r="6.9"/><circle cx="1291.3" cy="987.6" r="6.9"/><circle cx="1286.5" cy="988.3" r="6.9"/><circle cx="1312.4" cy="988.7" r="6.9"/><circle cx="1302.2" cy="989.4" r="6.9"/><circle cx="1295.4" cy="990.2" r="6.9"/><circle cx="1281.7" cy="990.3" r="6.9"/><circle cx="1317.2" cy="991" r="6.9"/><circle cx="1306.3" cy="992.2" r="6.9"/><circle cx="1291.3" cy="992.9" r="6.9"/><circle cx="1285.8" cy="993.2" r="6.9"/><circle cx="1298.8" cy="995" r="6.9"/><circle cx="1310.4" cy="995.4" r="6.9"/><circle cx="1315.2" cy="995.9" r="6.9"/><circle cx="1303.6" cy="996.5" r="6.9"/><circle cx="1294" cy="997.5" r="6.9"/><circle cx="1289.2" cy="998.1" r="6.9"/><circle cx="1284.5" cy="999.3" r="6.9"/><circle cx="1279.7" cy="999.4" r="6.9"/><circle cx="1299.5" cy="999.9" r="6.9"/><circle cx="1306.3" cy="1000.7" r="6.9"/><circle cx="1311.1" cy="1002.1" r="6.9"/><circle cx="1295.4" cy="1002.8" r="6.9"/><circle cx="1302.2" cy="1004.2" r="6.9"/><circle cx="1290.6" cy="1004.5" r="6.9"/><circle cx="1285.8" cy="1005.3" r="6.9"/><circle cx="1307" cy="1006.6" r="6.9"/><circle cx="1313.1" cy="1006.7" r="6.9"/><circle cx="1298.8" cy="1007.8" r="6.9"/><circle cx="1294" cy="1008.9" r="6.9"/><circle cx="1289.2" cy="1009.4" r="6.9"/><circle cx="1302.9" cy="1010.6" r="6.9"/><circle cx="1307.7" cy="1011.6" r="6.9"/><circle cx="1312.4" cy="1011.9" r="6.9"/><circle cx="1298.1" cy="1012.6" r="6.9"/><circle cx="1293.3" cy="1014.2" r="6.9"/><circle cx="1288.6" cy="1014.9" r="6.9"/><circle cx="1304.3" cy="1015.4" r="6.9"/><circle cx="1309" cy="1017" r="6.9"/><circle cx="1298.8" cy="1017.8" r="6.9"/><circle cx="1284.5" cy="1017.9" r="6.9"/><circle cx="1294" cy="1019.2" r="6.9"/><circle cx="1302.9" cy="1020.5" r="6.9"/><circle cx="1289.2" cy="1021" r="6.9"/><circle cx="1307.7" cy="1022.1" r="6.9"/><circle cx="1312.4" cy="1022.6" r="6.9"/><circle cx="1298.8" cy="1024.2" r="6.9"/><circle cx="1294" cy="1025" r="6.9"/><circle cx="1303.6" cy="1026" r="6.9"/><circle cx="1289.2" cy="1026.5" r="6.9"/><circle cx="1308.3" cy="1027.9" r="6.9"/><circle cx="1297.4" cy="1028.9" r="6.9"/><circle cx="1292.7" cy="1030.2" r="6.9"/><circle cx="1302.2" cy="1031.2" r="6.9"/><circle cx="1287.9" cy="1031.9" r="6.9"/><circle cx="1298.1" cy="1033.8" r="6.9"/><circle cx="1306.3" cy="1034" r="6.9"/><circle cx="1293.3" cy="1035.3" r="6.9"/><circle cx="1302.2" cy="1037.2" r="6.9"/><circle cx="1289.2" cy="1038.3" r="6.9"/><circle cx="1308.3" cy="1038.5" r="6.9"/><circle cx="1298.1" cy="1040" r="6.9"/><circle cx="1293.3" cy="1041.7" r="6.9"/><circle cx="1302.2" cy="1043.1" r="6.9"/><circle cx="1307" cy="1044.4" r="6.9"/><circle cx="1298.1" cy="1045.8" r="6.9"/><circle cx="1291.3" cy="1046.2" r="6.9"/><circle cx="1302.9" cy="1048.1" r="6.9"/><circle cx="1294.7" cy="1049.7" r="6.9"/><circle cx="1307.7" cy="1050.2" r="6.9"/><circle cx="1298.8" cy="1052.3" r="6.9"/><circle cx="1303.6" cy="1053.1" r="6.9"/><circle cx="1294.7" cy="1055.2" r="6.9"/><circle cx="1307.7" cy="1056.4" r="6.9"/><circle cx="1298.8" cy="1058.2" r="6.9"/><circle cx="1303.6" cy="1059.5" r="6.9"/><circle cx="1294.7" cy="1060.8" r="6.9"/><circle cx="1307.7" cy="1062.7" r="6.9"/><circle cx="1298.8" cy="1064.4" r="6.9"/><circle cx="1294" cy="1066.4" r="6.9"/><circle cx="1302.2" cy="1068.4" r="6.9"/><circle cx="1297.4" cy="1070.6" r="6.9"/><circle cx="1301.5" cy="1073.7" r="6.9"/><circle cx="1298.8" cy="1078.8" r="6.9"/><circle cx="1298.8" cy="785.3" r="6.9"/><circle cx="1298.8" cy="808.8" r="6.9"/><circle cx="1298.8" cy="823" r="6.9"/><circle cx="1298.8" cy="834" r="6.9"/><circle cx="1298.8" cy="863.3" r="6.9"/><circle cx="1298.8" cy="874.6" r="6.9"/><circle cx="1298.8" cy="887.6" r="6.9"/><circle cx="1298.8" cy="1090" r="6.9"/><circle cx="1298.8" cy="1102" r="6.9"/></g>
<g fill="#ffa800"><circle cx="1360" cy="887.6" r="6.9"/><circle cx="1359.3" cy="892.5" r="6.9"/><circle cx="1362.9" cy="896.3" r="6.9"/><circle cx="1358.6" cy="899.1" r="6.9"/><circle cx="1362.9" cy="901.7" r="6.9"/><circle cx="1356.4" cy="903.7" r="6.9"/><circle cx="1365.7" cy="906.1" r="6.9"/><circle cx="1360" cy="908.6" r="6.9"/><circle cx="1355" cy="910.6" r="6.9"/><circle cx="1364.3" cy="911.8" r="6.9"/><circle cx="1359.3" cy="914.1" r="6.9"/><circle cx="1352.1" cy="915" r="6.9"/><circle cx="1363.6" cy="917.1" r="6.9"/><circle cx="1356.4" cy="918.5" r="6.9"/><circle cx="1368.6" cy="919.2" r="6.9"/><circle cx="1351.4" cy="920.8" r="6.9"/><circle cx="1360" cy="922.1" r="6.9"/><circle cx="1365" cy="923.1" r="6.9"/><circle cx="1355.7" cy="924.7" r="6.9"/><circle cx="1350.7" cy="926.1" r="6.9"/><circle cx="1361.4" cy="926.8" r="6.9"/><circle cx="1366.5" cy="928.1" r="6.9"/><circle cx="1357.1" cy="929.7" r="6.9"/><circle cx="1371.5" cy="929.9" r="6.9"/><circle cx="1352.1" cy="931.3" r="6.9"/><circle cx="1362.2" cy="932.2" r="6.9"/><circle cx="1367.2" cy="933.5" r="6.9"/><circle cx="1347.8" cy="934" r="6.9"/><circle cx="1357.8" cy="935" r="6.9"/><circle cx="1362.9" cy="937" r="6.9"/><circle cx="1352.8" cy="937.5" r="6.9"/><circle cx="1367.9" cy="938.4" r="6.9"/><circle cx="1347.8" cy="939" r="6.9"/><circle cx="1372.9" cy="939.7" r="6.9"/><circle cx="1359.3" cy="940.7" r="6.9"/><circle cx="1364.3" cy="942.4" r="6.9"/><circle cx="1354.3" cy="943.2" r="6.9"/><circle cx="1369.3" cy="943.4" r="6.9"/><circle cx="1349.2" cy="944.5" r="6.9"/><circle cx="1374.3" cy="945.1" r="6.9"/><circle cx="1360" cy="947" r="6.9"/><circle cx="1365" cy="947.7" r="6.9"/><circle cx="1355" cy="948.5" r="6.9"/><circle cx="1370" cy="948.7" r="6.9"/><circle cx="1350" cy="949.5" r="6.9"/><circle cx="1344.9" cy="950.5" r="6.9"/><circle cx="1375.1" cy="951.1" r="6.9"/><circle cx="1360" cy="952.9" r="6.9"/><circle cx="1355" cy="953.8" r="6.9"/><circle cx="1365" cy="954.2" r="6.9"/><circle cx="1370" cy="954.7" r="6.9"/><circle cx="1350" cy="955.3" r="6.9"/><circle cx="1375.1" cy="956.6" r="6.9"/><circle cx="1344.9" cy="956.7" r="6.9"/><circle cx="1360.7" cy="957.7" r="6.9"/><circle cx="1355.7" cy="959.4" r="6.9"/><circle cx="1365.7" cy="959.5" r="6.9"/><circle cx="1370.8" cy="960" r="6.9"/><circle cx="1350.7" cy="961.4" r="6.9"/><circle cx="1345.7" cy="962.5" r="6.9"/><circle cx="1360" cy="963" r="6.9"/><circle cx="1375.1" cy="963.2" r="6.9"/><circle cx="1355" cy="964.7" r="6.9"/><circle cx="1365" cy="965.4" r="6.9"/><circle cx="1370" cy="966.6" r="6.9"/><circle cx="1350" cy="966.9" r="6.9"/><circle cx="1344.9" cy="967.4" r="6.9"/><circle cx="1360" cy="968.5" r="6.9"/><circle cx="1375.1" cy="968.9" r="6.9"/><circle cx="1355" cy="970.2" r="6.9"/><circle cx="1365" cy="970.7" r="6.9"/><circle cx="1341.3" cy="971" r="6.9"/><circle cx="1350.7" cy="972.7" r="6.9"/><circle cx="1370" cy="972.7" r="6.9"/><circle cx="1360" cy="973.5" r="6.9"/><circle cx="1345.7" cy="974.6" r="6.9"/><circle cx="1355" cy="976" r="6.9"/><circle cx="1364.3" cy="976.2" r="6.9"/><circle cx="1372.9" cy="977.1" r="6.9"/><circle cx="1350" cy="978.3" r="6.9"/><circle cx="1359.3" cy="978.6" r="6.9"/><circle cx="1343.5" cy="979.3" r="6.9"/><circle cx="1367.9" cy="979.9" r="6.9"/><circle cx="1376.5" cy="980.7" r="6.9"/><circle cx="1355" cy="981.7" r="6.9"/><circle cx="1362.9" cy="982.2" r="6.9"/><circle cx="1350" cy="983.8" r="6.9"/><circle cx="1371.5" cy="983.8" r="6.9"/><circle cx="1344.9" cy="984.7" r="6.9"/><circle cx="1359.3" cy="985.7" r="6.9"/><circle cx="1365.7" cy="986.3" r="6.9"/><circle cx="1354.3" cy="987.7" r="6.9"/><circle cx="1374.3" cy="987.9" r="6.9"/><circle cx="1349.2" cy="988.9" r="6.9"/><circle cx="1361.4" cy="990.3" r="6.9"/><circle cx="1368.6" cy="990.4" r="6.9"/><circle cx="1344.9" cy="991.9" r="6.9"/><circle cx="1356.4" cy="992.2" r="6.9"/><circle cx="1351.4" cy="993.5" r="6.9"/><circle cx="1365" cy="994" r="6.9"/><circle cx="1372.2" cy="994.2" r="6.9"/><circle cx="1360" cy="995.7" r="6.9"/><circle cx="1377.2" cy="996.1" r="6.9"/><circle cx="1355" cy="997.4" r="6.9"/><circle cx="1367.9" cy="998.3" r="6.9"/><circle cx="1350" cy="998.6" r="6.9"/><circle cx="1362.2" cy="1000.3" r="6.9"/><circle cx="1372.9" cy="1000.5" r="6.9"/><circle cx="1345.7" cy="1001.7" r="6.9"/><circle cx="1357.1" cy="1002.7" r="6.9"/><circle cx="1365.7" cy="1004" r="6.9"/><circle cx="1352.1" cy="1004.6" r="6.9"/><circle cx="1375.8" cy="1004.7" r="6.9"/><circle cx="1360" cy="1006.8" r="6.9"/><circle cx="1369.3" cy="1007.7" r="6.9"/><circle cx="1347.8" cy="1007.8" r="6.9"/><circle cx="1355" cy="1009" r="6.9"/><circle cx="1364.3" cy="1009.6" r="6.9"/><circle cx="1372.9" cy="1011.3" r="6.9"/><circle cx="1360" cy="1012.2" r="6.9"/><circle cx="1351.4" cy="1013" r="6.9"/><circle cx="1366.5" cy="1014.1" r="6.9"/><circle cx="1346.4" cy="1015" r="6.9"/><circle cx="1357.1" cy="1016.5" r="6.9"/><circle cx="1362.2" cy="1017.2" r="6.9"/><circle cx="1352.1" cy="1017.9" r="6.9"/><circle cx="1367.2" cy="1019" r="6.9"/><circle cx="1372.2" cy="1020.5" r="6.9"/><circle cx="1360" cy="1022" r="6.9"/><circle cx="1355" cy="1022.7" r="6.9"/><circle cx="1364.3" cy="1024.6" r="6.9"/><circle cx="1350.7" cy="1025.8" r="6.9"/><circle cx="1359.3" cy="1027" r="6.9"/><circle cx="1367.9" cy="1028.3" r="6.9"/><circle cx="1354.3" cy="1029.4" r="6.9"/><circle cx="1362.9" cy="1030.8" r="6.9"/><circle cx="1350" cy="1032.6" r="6.9"/><circle cx="1358.6" cy="1033.5" r="6.9"/><circle cx="1365.7" cy="1035" r="6.9"/><circle cx="1361.4" cy="1037.5" r="6.9"/><circle cx="1356.4" cy="1038.2" r="6.9"/><circle cx="1365.7" cy="1040.5" r="6.9"/><circle cx="1359.3" cy="1042.2" r="6.9"/><circle cx="1354.3" cy="1044.4" r="6.9"/><circle cx="1362.2" cy="1046.6" r="6.9"/><circle cx="1357.8" cy="1049.6" r="6.9"/><circle cx="1362.9" cy="1051.8" r="6.9"/><circle cx="1356.4" cy="1054.4" r="6.9"/><circle cx="1360.7" cy="1057.4" r="6.9"/><circle cx="1357.1" cy="1061" r="6.9"/><circle cx="1360" cy="1065.5" r="6.9"/><circle cx="1360" cy="1070.6" r="6.9"/><circle cx="1360" cy="1075.8" r="6.9"/><circle cx="1360" cy="1082.2" r="6.9"/><circle cx="1360" cy="1089.6" r="6.9"/><circle cx="1360" cy="1099.8" r="6.9"/><circle cx="1360" cy="704.1" r="6.9"/><circle cx="1360" cy="830.8" r="6.9"/><circle cx="1360" cy="860.4" r="6.9"/><circle cx="1360" cy="866.5" r="6.9"/><circle cx="1360" cy="1129.2" r="6.9"/></g>
<g fill="#404040"><circle cx="1435.4" cy="1001.8" r="6.9"/><circle cx="1439.5" cy="1005.8" r="6.9"/><circle cx="1435.4" cy="1009.5" r="6.9"/><circle cx="1440.2" cy="1012.6" r="6.9"/><circle cx="1432.7" cy="1014.3" r="6.9"/><circle cx="1437.5" cy="1017.4" r="6.9"/><circle cx="1432" cy="1019.8" r="6.9"/><circle cx="1441.6" cy="1021.1" r="6.9"/><circle cx="1427.2" cy="1022.9" r="6.9"/><circle cx="1435.4" cy="1025.1" r="6.9"/><circle cx="1442.9" cy="1026.5" r="6.9"/><circle cx="1430.6" cy="1028.5" r="6.9"/><circle cx="1438.1" cy="1030.2" r="6.9"/><circle cx="1442.9" cy="1032.8" r="6.9"/><circle cx="1435.4" cy="1035.8" r="6.9"/><circle cx="1429.9" cy="1037.5" r="6.9"/><circle cx="1438.8" cy="1040.2" r="6.9"/><circle cx="1434" cy="1043.8" r="6.9"/><circle cx="1438.1" cy="1047.7" r="6.9"/><circle cx="1433.3" cy="1051.1" r="6.9"/><circle cx="1438.8" cy="1053.6" r="6.9"/><circle cx="1430.6" cy="1055.9" r="6.9"/><circle cx="1435.4" cy="1058.9" r="6.9"/><circle cx="1440.9" cy="1060.3" r="6.9"/><circle cx="1430.6" cy="1062.4" r="6.9"/><circle cx="1436.1" cy="1064.8" r="6.9"/><circle cx="1441.6" cy="1065.9" r="6.9"/><circle cx="1431.3" cy="1068.3" r="6.9"/><circle cx="1425.8" cy="1069" r="6.9"/><circle cx="1436.8" cy="1070.6" r="6.9"/><circle cx="1442.3" cy="1072.4" r="6.9"/><circle cx="1432" cy="1073.9" r="6.9"/><circle cx="1426.5" cy="1074.8" r="6.9"/><circle cx="1438.1" cy="1076" r="6.9"/><circle cx="1443.6" cy="1078" r="6.9"/><circle cx="1422.4" cy="1079" r="6.9"/><circle cx="1434" cy="1080.1" r="6.9"/><circle cx="1428.5" cy="1081" r="6.9"/><circle cx="1438.8" cy="1083.3" r="6.9"/><circle cx="1445.7" cy="1083.3" r="6.9"/><circle cx="1432" cy="1085.3" r="6.9"/><circle cx="1426.5" cy="1086.1" r="6.9"/><circle cx="1421" cy="1087.3" r="6.9"/><circle cx="1442.3" cy="1087.9" r="6.9"/><circle cx="1436.8" cy="1088.8" r="6.9"/><circle cx="1447.7" cy="1090.3" r="6.9"/><circle cx="1431.3" cy="1091.2" r="6.9"/><circle cx="1425.8" cy="1091.8" r="6.9"/><circle cx="1420.3" cy="1092.9" r="6.9"/><circle cx="1439.5" cy="1093.8" r="6.9"/><circle cx="1451.2" cy="1094.7" r="6.9"/><circle cx="1434" cy="1096.1" r="6.9"/><circle cx="1428.5" cy="1096.7" r="6.9"/><circle cx="1443.6" cy="1097.7" r="6.9"/><circle cx="1423.1" cy="1098.4" r="6.9"/><circle cx="1417.6" cy="1099.5" r="6.9"/><circle cx="1438.1" cy="1100.2" r="6.9"/><circle cx="1432" cy="1101.3" r="6.9"/><circle cx="1447" cy="1102.3" r="6.9"/><circle cx="1426.5" cy="1103.1" r="6.9"/><circle cx="1441.6" cy="1104.5" r="6.9"/><circle cx="1421" cy="1104.7" r="6.9"/><circle cx="1435.4" cy="1106.3" r="6.9"/><circle cx="1450.5" cy="1106.6" r="6.9"/><circle cx="1429.9" cy="1107.8" r="6.9"/><circle cx="1416.9" cy="1108.6" r="6.9"/><circle cx="1443.6" cy="1109.7" r="6.9"/><circle cx="1424.4" cy="1110" r="6.9"/><circle cx="1438.1" cy="1111.2" r="6.9"/><circle cx="1453.9" cy="1111.3" r="6.9"/><circle cx="1432.7" cy="1112.5" r="6.9"/><circle cx="1447.7" cy="1113.7" r="6.9"/><circle cx="1420.3" cy="1113.8" r="6.9"/><circle cx="1427.2" cy="1114.9" r="6.9"/><circle cx="1441.6" cy="1115.9" r="6.9"/><circle cx="1436.1" cy="1116.9" r="6.9"/><circle cx="1451.2" cy="1118.3" r="6.9"/><circle cx="1423.1" cy="1118.8" r="6.9"/><circle cx="1431.3" cy="1120" r="6.9"/><circle cx="1445" cy="1120.1" r="6.9"/><circle cx="1417.6" cy="1120.6" r="6.9"/><circle cx="1436.1" cy="1122.5" r="6.9"/><circle cx="1455.3" cy="1122.6" r="6.9"/><circle cx="1426.5" cy="1123.2" r="6.9"/><circle cx="1441.6" cy="1125" r="6.9"/><circle cx="1431.3" cy="1125.7" r="6.9"/><circle cx="1447" cy="1125.9" r="6.9"/><circle cx="1422.4" cy="1127.4" r="6.9"/><circle cx="1436.1" cy="1128.5" r="6.9"/><circle cx="1451.8" cy="1129.2" r="6.9"/><circle cx="1416.9" cy="1129.3" r="6.9"/><circle cx="1442.3" cy="1130.4" r="6.9"/><circle cx="1431.3" cy="1131.3" r="6.9"/><circle cx="1425.8" cy="1132.1" r="6.9"/><circle cx="1456.6" cy="1132.7" r="6.9"/><circle cx="1436.1" cy="1134.4" r="6.9"/><circle cx="1446.4" cy="1134.6" r="6.9"/><circle cx="1421" cy="1135.3" r="6.9"/><circle cx="1431.3" cy="1137" r="6.9"/><circle cx="1440.9" cy="1137.4" r="6.9"/><circle cx="1425.8" cy="1138.4" r="6.9"/><circle cx="1450.5" cy="1138.7" r="6.9"/><circle cx="1436.1" cy="1140.4" r="6.9"/><circle cx="1419" cy="1140.5" r="6.9"/><circle cx="1445" cy="1141.6" r="6.9"/><circle cx="1429.9" cy="1142.4" r="6.9"/><circle cx="1424.4" cy="1144" r="6.9"/><circle cx="1451.8" cy="1144.1" r="6.9"/><circle cx="1435.4" cy="1145.9" r="6.9"/><circle cx="1440.9" cy="1146.6" r="6.9"/><circle cx="1447" cy="1146.8" r="6.9"/><circle cx="1429.9" cy="1148.3" r="6.9"/><circle cx="1424.4" cy="1149.6" r="6.9"/><circle cx="1451.8" cy="1150.2" r="6.9"/><circle cx="1419" cy="1150.8" r="6.9"/><circle cx="1435.4" cy="1152.8" r="6.9"/><circle cx="1440.9" cy="1153.5" r="6.9"/><circle cx="1429.9" cy="1154.2" r="6.9"/><circle cx="1446.4" cy="1155.1" r="6.9"/><circle cx="1424.4" cy="1156.5" r="6.9"/><circle cx="1451.2" cy="1157.6" r="6.9"/><circle cx="1435.4" cy="1158.9" r="6.9"/><circle cx="1429.9" cy="1160.3" r="6.9"/><circle cx="1440.2" cy="1161.8" r="6.9"/><circle cx="1445.7" cy="1162.2" r="6.9"/><circle cx="1425.8" cy="1164.2" r="6.9"/><circle cx="1435.4" cy="1166" r="6.9"/><circle cx="1449.1" cy="1166.5" r="6.9"/><circle cx="1440.9" cy="1168.3" r="6.9"/><circle cx="1431.3" cy="1170.1" r="6.9"/><circle cx="1436.8" cy="1172" r="6.9"/><circle cx="1426.5" cy="1173" r="6.9"/><circle cx="1442.3" cy="1174.5" r="6.9"/><circle cx="1432.7" cy="1176" r="6.9"/><circle cx="1437.5" cy="1178.9" r="6.9"/><circle cx="1429.2" cy="1180.7" r="6.9"/><circle cx="1442.3" cy="1182.3" r="6.9"/><circle cx="1435.4" cy="1184.3" r="6.9"/><circle cx="1429.9" cy="1186.7" r="6.9"/><circle cx="1437.5" cy="1189.4" r="6.9"/><circle cx="1432.7" cy="1192.1" r="6.9"/><circle cx="1437.5" cy="1195.6" r="6.9"/><circle cx="1432.7" cy="1198.6" r="6.9"/><circle cx="1436.8" cy="1202.8" r="6.9"/><circle cx="1433.3" cy="1207.3" r="6.9"/><circle cx="1435.4" cy="1215.4" r="6.9"/><circle cx="1435.4" cy="810.5" r="6.9"/><circle cx="1435.4" cy="934.7" r="6.9"/><circle cx="1435.4" cy="962" r="6.9"/><circle cx="1435.4" cy="966" r="6.9"/><circle cx="1435.4" cy="976" r="6.9"/><circle cx="1435.4" cy="984.3" r="6.9"/><circle cx="1435.4" cy="1234" r="6.9"/></g>
<g fill="#8a8a8a"><circle cx="1496.6" cy="968.5" r="6.9"/><circle cx="1493.3" cy="973.2" r="6.9"/><circle cx="1497.3" cy="977.1" r="6.9"/><circle cx="1493.3" cy="980.8" r="6.9"/><circle cx="1497.3" cy="984.8" r="6.9"/><circle cx="1493.3" cy="988.8" r="6.9"/><circle cx="1497.3" cy="992.5" r="6.9"/><circle cx="1495.3" cy="997.6" r="6.9"/><circle cx="1496.6" cy="1003.6" r="6.9"/><circle cx="1499.9" cy="1008.1" r="6.9"/><circle cx="1495.3" cy="1011.4" r="6.9"/><circle cx="1499.9" cy="1014" r="6.9"/><circle cx="1492" cy="1016.2" r="6.9"/><circle cx="1503.8" cy="1017.9" r="6.9"/><circle cx="1496.6" cy="1020.2" r="6.9"/><circle cx="1489.4" cy="1021" r="6.9"/><circle cx="1501.2" cy="1023.6" r="6.9"/><circle cx="1506.4" cy="1024.1" r="6.9"/><circle cx="1495.9" cy="1025.7" r="6.9"/><circle cx="1490.7" cy="1026.5" r="6.9"/><circle cx="1485.5" cy="1028.6" r="6.9"/><circle cx="1499.9" cy="1029.6" r="6.9"/><circle cx="1505.1" cy="1030.5" r="6.9"/><circle cx="1494.6" cy="1031.4" r="6.9"/><circle cx="1489.4" cy="1033" r="6.9"/><circle cx="1484.2" cy="1034" r="6.9"/><circle cx="1509" cy="1034.4" r="6.9"/><circle cx="1497.3" cy="1036.3" r="6.9"/><circle cx="1492" cy="1037.8" r="6.9"/><circle cx="1502.5" cy="1038.4" r="6.9"/><circle cx="1486.8" cy="1039.6" r="6.9"/><circle cx="1507.7" cy="1040.6" r="6.9"/><circle cx="1481.6" cy="1041.5" r="6.9"/><circle cx="1496.6" cy="1042.8" r="6.9"/><circle cx="1512.9" cy="1042.8" r="6.9"/><circle cx="1491.4" cy="1044" r="6.9"/><circle cx="1501.2" cy="1045.4" r="6.9"/><circle cx="1486.2" cy="1045.7" r="6.9"/><circle cx="1506.4" cy="1046.5" r="6.9"/><circle cx="1481" cy="1047.3" r="6.9"/><circle cx="1496.6" cy="1048.3" r="6.9"/><circle cx="1491.4" cy="1049.5" r="6.9"/><circle cx="1510.9" cy="1049.8" r="6.9"/><circle cx="1501.8" cy="1050.9" r="6.9"/><circle cx="1486.2" cy="1051.8" r="6.9"/><circle cx="1481" cy="1053.2" r="6.9"/><circle cx="1495.3" cy="1053.7" r="6.9"/><circle cx="1505.7" cy="1054.7" r="6.9"/><circle cx="1490.1" cy="1055.6" r="6.9"/><circle cx="1510.9" cy="1055.7" r="6.9"/><circle cx="1499.9" cy="1056.2" r="6.9"/><circle cx="1484.9" cy="1057.6" r="6.9"/><circle cx="1479.7" cy="1058.6" r="6.9"/><circle cx="1495.3" cy="1059.4" r="6.9"/><circle cx="1514.8" cy="1059.5" r="6.9"/><circle cx="1503.1" cy="1060.7" r="6.9"/><circle cx="1490.7" cy="1062" r="6.9"/><circle cx="1508.3" cy="1062.5" r="6.9"/><circle cx="1475.7" cy="1062.8" r="6.9"/><circle cx="1498.6" cy="1064" r="6.9"/><circle cx="1486.2" cy="1065.1" r="6.9"/><circle cx="1481" cy="1065.6" r="6.9"/><circle cx="1503.8" cy="1066.4" r="6.9"/><circle cx="1494" cy="1067.1" r="6.9"/><circle cx="1510.9" cy="1067.4" r="6.9"/><circle cx="1516.2" cy="1068.4" r="6.9"/><circle cx="1476.4" cy="1068.6" r="6.9"/><circle cx="1498.6" cy="1069.9" r="6.9"/><circle cx="1489.4" cy="1070.2" r="6.9"/><circle cx="1505.7" cy="1071.6" r="6.9"/><circle cx="1484.2" cy="1071.8" r="6.9"/><circle cx="1494" cy="1072.8" r="6.9"/><circle cx="1510.9" cy="1073.8" r="6.9"/><circle cx="1501.2" cy="1074.9" r="6.9"/><circle cx="1489.4" cy="1076.3" r="6.9"/><circle cx="1481" cy="1076.5" r="6.9"/><circle cx="1505.7" cy="1077.5" r="6.9"/><circle cx="1496.6" cy="1078.4" r="6.9"/><circle cx="1510.9" cy="1079.4" r="6.9"/><circle cx="1485.5" cy="1080.4" r="6.9"/><circle cx="1477.7" cy="1080.8" r="6.9"/><circle cx="1501.2" cy="1081.8" r="6.9"/><circle cx="1493.3" cy="1083.1" r="6.9"/><circle cx="1506.4" cy="1083.9" r="6.9"/><circle cx="1482.3" cy="1084.9" r="6.9"/><circle cx="1488.8" cy="1085.8" r="6.9"/><circle cx="1511.6" cy="1085.8" r="6.9"/><circle cx="1497.3" cy="1087.2" r="6.9"/><circle cx="1502.5" cy="1088.1" r="6.9"/><circle cx="1478.4" cy="1088.5" r="6.9"/><circle cx="1507.7" cy="1089.4" r="6.9"/><circle cx="1492.7" cy="1090.5" r="6.9"/><circle cx="1499.2" cy="1092.4" r="6.9"/><circle cx="1488.1" cy="1093.2" r="6.9"/><circle cx="1504.4" cy="1093.9" r="6.9"/><circle cx="1509.6" cy="1094.7" r="6.9"/><circle cx="1495.3" cy="1096" r="6.9"/><circle cx="1483.6" cy="1096.6" r="6.9"/><circle cx="1514.2" cy="1097.6" r="6.9"/><circle cx="1499.9" cy="1098.8" r="6.9"/><circle cx="1492" cy="1100.4" r="6.9"/><circle cx="1504.4" cy="1101.8" r="6.9"/><circle cx="1486.8" cy="1102.5" r="6.9"/><circle cx="1496.6" cy="1103.2" r="6.9"/><circle cx="1509" cy="1105" r="6.9"/><circle cx="1492" cy="1106.1" r="6.9"/><circle cx="1501.2" cy="1106.1" r="6.9"/><circle cx="1486.8" cy="1108.3" r="6.9"/><circle cx="1496.6" cy="1109.1" r="6.9"/><circle cx="1504.4" cy="1110.4" r="6.9"/><circle cx="1509.6" cy="1110.7" r="6.9"/><circle cx="1492.7" cy="1112.8" r="6.9"/><circle cx="1499.9" cy="1113.4" r="6.9"/><circle cx="1487.5" cy="1115.1" r="6.9"/><circle cx="1506.4" cy="1115.7" r="6.9"/><circle cx="1482.3" cy="1116.4" r="6.9"/><circle cx="1496.6" cy="1118.1" r="6.9"/><circle cx="1501.8" cy="1119.8" r="6.9"/><circle cx="1491.4" cy="1120.5" r="6.9"/><circle cx="1506.4" cy="1122.3" r="6.9"/><circle cx="1486.8" cy="1123.1" r="6.9"/><circle cx="1496.6" cy="1123.8" r="6.9"/><circle cx="1501.8" cy="1125.8" r="6.9"/><circle cx="1510.3" cy="1126" r="6.9"/><circle cx="1492.7" cy="1127.7" r="6.9"/><circle cx="1485.5" cy="1128.5" r="6.9"/><circle cx="1497.9" cy="1129.8" r="6.9"/><circle cx="1503.1" cy="1131.1" r="6.9"/><circle cx="1490.7" cy="1132.9" r="6.9"/><circle cx="1485.5" cy="1134.4" r="6.9"/><circle cx="1507" cy="1134.8" r="6.9"/><circle cx="1496.6" cy="1136.7" r="6.9"/><circle cx="1501.8" cy="1137.2" r="6.9"/><circle cx="1491.4" cy="1138.4" r="6.9"/><circle cx="1486.2" cy="1140" r="6.9"/><circle cx="1505.1" cy="1141.4" r="6.9"/><circle cx="1496.6" cy="1142.5" r="6.9"/><circle cx="1491.4" cy="1144.5" r="6.9"/><circle cx="1509" cy="1145" r="6.9"/><circle cx="1499.9" cy="1147" r="6.9"/><circle cx="1505.1" cy="1148.7" r="6.9"/><circle cx="1495.3" cy="1149.9" r="6.9"/><circle cx="1490.1" cy="1151.2" r="6.9"/><circle cx="1501.2" cy="1152.3" r="6.9"/><circle cx="1506.4" cy="1154.3" r="6.9"/><circle cx="1496.6" cy="1156" r="6.9"/><circle cx="1491.4" cy="1156.7" r="6.9"/><circle cx="1501.2" cy="1159.1" r="6.9"/><circle cx="1494.6" cy="1161.1" r="6.9"/><circle cx="1489.4" cy="1162.9" r="6.9"/><circle cx="1498.6" cy="1165" r="6.9"/><circle cx="1503.8" cy="1166.3" r="6.9"/><circle cx="1494.6" cy="1168.6" r="6.9"/><circle cx="1499.2" cy="1171.7" r="6.9"/><circle cx="1494" cy="1174.1" r="6.9"/><circle cx="1498.6" cy="1177.2" r="6.9"/><circle cx="1494" cy="1180" r="6.9"/><circle cx="1498.6" cy="1183.4" r="6.9"/><circle cx="1495.9" cy="1188.2" r="6.9"/><circle cx="1498.6" cy="1193" r="6.9"/><circle cx="1495.9" cy="1197.7" r="6.9"/><circle cx="1496.6" cy="1206" r="6.9"/><circle cx="1496.6" cy="896.1" r="6.9"/><circle cx="1496.6" cy="903" r="6.9"/><circle cx="1496.6" cy="917.3" r="6.9"/></g>
<g fill="#f26c2a"><circle cx="1557.8" cy="891.3" r="6.9"/><circle cx="1559.1" cy="896.1" r="6.9"/><circle cx="1555.1" cy="899" r="6.9"/><circle cx="1559.1" cy="902.3" r="6.9"/><circle cx="1554.4" cy="904.2" r="6.9"/><circle cx="1562.5" cy="906.2" r="6.9"/><circle cx="1557.8" cy="909.5" r="6.9"/><circle cx="1553.1" cy="910.6" r="6.9"/><circle cx="1561.8" cy="912.7" r="6.9"/><circle cx="1557.1" cy="914.6" r="6.9"/><circle cx="1553.1" cy="917.2" r="6.9"/><circle cx="1561.2" cy="917.9" r="6.9"/><circle cx="1557.1" cy="920.4" r="6.9"/><circle cx="1552.4" cy="922.2" r="6.9"/><circle cx="1561.2" cy="923.2" r="6.9"/><circle cx="1565.8" cy="924.4" r="6.9"/><circle cx="1557.1" cy="926.1" r="6.9"/><circle cx="1552.4" cy="927.5" r="6.9"/><circle cx="1561.2" cy="929" r="6.9"/><circle cx="1565.8" cy="930.6" r="6.9"/><circle cx="1557.1" cy="931.6" r="6.9"/><circle cx="1552.4" cy="932.4" r="6.9"/><circle cx="1561.2" cy="934.2" r="6.9"/><circle cx="1565.8" cy="935.5" r="6.9"/><circle cx="1557.1" cy="936.9" r="6.9"/><circle cx="1552.4" cy="938.1" r="6.9"/><circle cx="1561.2" cy="939.5" r="6.9"/><circle cx="1565.8" cy="940.6" r="6.9"/><circle cx="1548.4" cy="941.2" r="6.9"/><circle cx="1557.1" cy="942.8" r="6.9"/><circle cx="1569.9" cy="943.6" r="6.9"/><circle cx="1561.8" cy="944.6" r="6.9"/><circle cx="1553.1" cy="945.7" r="6.9"/><circle cx="1548.4" cy="946.8" r="6.9"/><circle cx="1565.8" cy="947.4" r="6.9"/><circle cx="1557.8" cy="948.2" r="6.9"/><circle cx="1570.5" cy="949.5" r="6.9"/><circle cx="1544.4" cy="949.9" r="6.9"/><circle cx="1553.8" cy="951" r="6.9"/><circle cx="1560.5" cy="952.4" r="6.9"/><circle cx="1565.2" cy="953.1" r="6.9"/><circle cx="1549.8" cy="953.9" r="6.9"/><circle cx="1556.5" cy="955.2" r="6.9"/><circle cx="1569.9" cy="955.3" r="6.9"/><circle cx="1561.2" cy="957.3" r="6.9"/><circle cx="1546.4" cy="957.7" r="6.9"/><circle cx="1553.1" cy="958.9" r="6.9"/><circle cx="1565.8" cy="959.6" r="6.9"/><circle cx="1570.5" cy="960.3" r="6.9"/><circle cx="1557.8" cy="960.8" r="6.9"/><circle cx="1543.1" cy="961.3" r="6.9"/><circle cx="1562.5" cy="963.1" r="6.9"/><circle cx="1551.1" cy="963.4" r="6.9"/><circle cx="1574.6" cy="963.7" r="6.9"/><circle cx="1567.2" cy="964.6" r="6.9"/><circle cx="1557.8" cy="966.4" r="6.9"/><circle cx="1547.7" cy="967" r="6.9"/><circle cx="1562.5" cy="968.3" r="6.9"/><circle cx="1553.8" cy="969" r="6.9"/><circle cx="1567.2" cy="969.5" r="6.9"/><circle cx="1571.9" cy="970.3" r="6.9"/><circle cx="1558.5" cy="971.3" r="6.9"/><circle cx="1549.8" cy="971.6" r="6.9"/><circle cx="1545.1" cy="972.8" r="6.9"/><circle cx="1563.2" cy="973.2" r="6.9"/><circle cx="1554.4" cy="974.7" r="6.9"/><circle cx="1567.2" cy="975.8" r="6.9"/><circle cx="1559.1" cy="976.5" r="6.9"/><circle cx="1549.8" cy="976.8" r="6.9"/><circle cx="1571.9" cy="977.7" r="6.9"/><circle cx="1545.1" cy="978.7" r="6.9"/><circle cx="1555.8" cy="980.1" r="6.9"/><circle cx="1561.8" cy="980.5" r="6.9"/><circle cx="1551.1" cy="982.3" r="6.9"/><circle cx="1565.8" cy="983.4" r="6.9"/><circle cx="1546.4" cy="983.9" r="6.9"/><circle cx="1558.5" cy="984.3" r="6.9"/><circle cx="1569.9" cy="986.1" r="6.9"/><circle cx="1554.4" cy="986.9" r="6.9"/><circle cx="1562.5" cy="987.4" r="6.9"/><circle cx="1549.8" cy="988.7" r="6.9"/><circle cx="1545.1" cy="989" r="6.9"/><circle cx="1558.5" cy="989.9" r="6.9"/><circle cx="1566.5" cy="990.5" r="6.9"/><circle cx="1553.8" cy="991.9" r="6.9"/><circle cx="1571.2" cy="993" r="6.9"/><circle cx="1561.8" cy="993.9" r="6.9"/><circle cx="1549.1" cy="994.4" r="6.9"/><circle cx="1544.4" cy="995.2" r="6.9"/><circle cx="1557.1" cy="995.8" r="6.9"/><circle cx="1565.2" cy="997.4" r="6.9"/><circle cx="1569.9" cy="997.7" r="6.9"/><circle cx="1553.1" cy="998.5" r="6.9"/><circle cx="1560.5" cy="999.7" r="6.9"/><circle cx="1548.4" cy="1000.3" r="6.9"/><circle cx="1543.7" cy="1001" r="6.9"/><circle cx="1573.2" cy="1001.5" r="6.9"/><circle cx="1556.5" cy="1002.3" r="6.9"/><circle cx="1563.2" cy="1003.7" r="6.9"/><circle cx="1551.8" cy="1004.6" r="6.9"/><circle cx="1567.9" cy="1004.9" r="6.9"/><circle cx="1547.1" cy="1006.1" r="6.9"/><circle cx="1542.4" cy="1006.2" r="6.9"/><circle cx="1557.8" cy="1007.3" r="6.9"/><circle cx="1571.9" cy="1007.6" r="6.9"/><circle cx="1562.5" cy="1008.6" r="6.9"/><circle cx="1576.6" cy="1008.8" r="6.9"/><circle cx="1553.1" cy="1009.8" r="6.9"/><circle cx="1567.2" cy="1010.2" r="6.9"/><circle cx="1548.4" cy="1011.2" r="6.9"/><circle cx="1559.1" cy="1012.1" r="6.9"/><circle cx="1543.7" cy="1012.2" r="6.9"/><circle cx="1571.2" cy="1012.8" r="6.9"/><circle cx="1563.8" cy="1014" r="6.9"/><circle cx="1575.9" cy="1014.2" r="6.9"/><circle cx="1555.1" cy="1014.9" r="6.9"/><circle cx="1550.4" cy="1016.1" r="6.9"/><circle cx="1540.4" cy="1016.2" r="6.9"/><circle cx="1567.9" cy="1016.8" r="6.9"/><circle cx="1559.8" cy="1017.3" r="6.9"/><circle cx="1545.7" cy="1018.5" r="6.9"/><circle cx="1572.5" cy="1019.2" r="6.9"/><circle cx="1555.8" cy="1020" r="6.9"/><circle cx="1563.2" cy="1021" r="6.9"/><circle cx="1551.1" cy="1021.1" r="6.9"/><circle cx="1567.9" cy="1022.2" r="6.9"/><circle cx="1543.7" cy="1023" r="6.9"/><circle cx="1575.2" cy="1023.3" r="6.9"/><circle cx="1539" cy="1023.5" r="6.9"/><circle cx="1557.8" cy="1024.5" r="6.9"/><circle cx="1579.9" cy="1024.6" r="6.9"/><circle cx="1548.4" cy="1025.3" r="6.9"/><circle cx="1561.8" cy="1027.1" r="6.9"/><circle cx="1553.8" cy="1027.4" r="6.9"/><circle cx="1566.5" cy="1027.8" r="6.9"/><circle cx="1571.2" cy="1028.4" r="6.9"/><circle cx="1545.1" cy="1028.8" r="6.9"/><circle cx="1557.8" cy="1030.2" r="6.9"/><circle cx="1549.8" cy="1030.5" r="6.9"/><circle cx="1540.4" cy="1031" r="6.9"/><circle cx="1562.5" cy="1032.6" r="6.9"/><circle cx="1567.2" cy="1033" r="6.9"/><circle cx="1553.8" cy="1033.3" r="6.9"/><circle cx="1571.9" cy="1033.4" r="6.9"/><circle cx="1546.4" cy="1034.3" r="6.9"/><circle cx="1558.5" cy="1035.1" r="6.9"/><circle cx="1541.7" cy="1036.6" r="6.9"/><circle cx="1563.2" cy="1037.4" r="6.9"/><circle cx="1551.8" cy="1037.7" r="6.9"/><circle cx="1567.9" cy="1038.6" r="6.9"/><circle cx="1572.5" cy="1038.8" r="6.9"/><circle cx="1556.5" cy="1039.6" r="6.9"/><circle cx="1547.7" cy="1040.9" r="6.9"/><circle cx="1539" cy="1041" r="6.9"/><circle cx="1560.5" cy="1042.4" r="6.9"/><circle cx="1575.9" cy="1042.5" r="6.9"/><circle cx="1553.1" cy="1043.1" r="6.9"/><circle cx="1565.2" cy="1043.7" r="6.9"/><circle cx="1569.9" cy="1045.2" r="6.9"/><circle cx="1557.1" cy="1046.1" r="6.9"/><circle cx="1549.1" cy="1046.1" r="6.9"/><circle cx="1561.8" cy="1047.6" r="6.9"/><circle cx="1544.4" cy="1048.5" r="6.9"/><circle cx="1553.1" cy="1049.2" r="6.9"/><circle cx="1566.5" cy="1049.9" r="6.9"/><circle cx="1571.2" cy="1050" r="6.9"/><circle cx="1575.9" cy="1050.9" r="6.9"/><circle cx="1557.8" cy="1051.4" r="6.9"/><circle cx="1562.5" cy="1052.8" r="6.9"/><circle cx="1549.8" cy="1052.9" r="6.9"/><circle cx="1568.5" cy="1054.5" r="6.9"/><circle cx="1545.1" cy="1054.5" r="6.9"/><circle cx="1555.1" cy="1055.6" r="6.9"/><circle cx="1573.2" cy="1056.1" r="6.9"/><circle cx="1559.8" cy="1057.6" r="6.9"/><circle cx="1551.1" cy="1058.4" r="6.9"/><circle cx="1564.5" cy="1058.6" r="6.9"/><circle cx="1546.4" cy="1059.4" r="6.9"/><circle cx="1555.8" cy="1060.7" r="6.9"/><circle cx="1569.2" cy="1060.8" r="6.9"/><circle cx="1573.9" cy="1061.9" r="6.9"/><circle cx="1560.5" cy="1062.7" r="6.9"/><circle cx="1551.8" cy="1064" r="6.9"/><circle cx="1565.2" cy="1064.6" r="6.9"/><circle cx="1547.1" cy="1065.3" r="6.9"/><circle cx="1556.5" cy="1066" r="6.9"/><circle cx="1569.9" cy="1066.9" r="6.9"/><circle cx="1542.4" cy="1067.4" r="6.9"/><circle cx="1560.5" cy="1068.6" r="6.9"/><circle cx="1553.1" cy="1069.5" r="6.9"/><circle cx="1565.2" cy="1070.3" r="6.9"/><circle cx="1548.4" cy="1071.7" r="6.9"/><circle cx="1570.5" cy="1071.8" r="6.9"/><circle cx="1557.8" cy="1073.1" r="6.9"/><circle cx="1544.4" cy="1074.3" r="6.9"/><circle cx="1553.1" cy="1075" r="6.9"/><circle cx="1562.5" cy="1075.4" r="6.9"/><circle cx="1567.2" cy="1077.3" r="6.9"/><circle cx="1549.1" cy="1077.5" r="6.9"/><circle cx="1557.8" cy="1079.6" r="6.9"/><circle cx="1544.4" cy="1079.6" r="6.9"/><circle cx="1562.5" cy="1080.8" r="6.9"/><circle cx="1553.8" cy="1082.4" r="6.9"/><circle cx="1549.1" cy="1082.9" r="6.9"/><circle cx="1558.5" cy="1084.7" r="6.9"/><circle cx="1563.2" cy="1085.7" r="6.9"/><circle cx="1567.9" cy="1086.1" r="6.9"/><circle cx="1554.4" cy="1087.8" r="6.9"/><circle cx="1549.8" cy="1089.3" r="6.9"/><circle cx="1559.1" cy="1089.8" r="6.9"/><circle cx="1563.8" cy="1090.9" r="6.9"/><circle cx="1568.5" cy="1092.4" r="6.9"/><circle cx="1555.8" cy="1093.3" r="6.9"/><circle cx="1560.5" cy="1094.7" r="6.9"/><circle cx="1551.8" cy="1096" r="6.9"/><circle cx="1564.5" cy="1097.5" r="6.9"/><circle cx="1557.1" cy="1098.5" r="6.9"/><circle cx="1550.4" cy="1100.8" r="6.9"/><circle cx="1561.2" cy="1101.9" r="6.9"/><circle cx="1556.5" cy="1103.5" r="6.9"/><circle cx="1565.2" cy="1104.8" r="6.9"/><circle cx="1552.4" cy="1106.3" r="6.9"/><circle cx="1559.8" cy="1107.1" r="6.9"/><circle cx="1548.4" cy="1109.2" r="6.9"/><circle cx="1555.8" cy="1110.2" r="6.9"/><circle cx="1560.5" cy="1112.5" r="6.9"/><circle cx="1552.4" cy="1114.1" r="6.9"/><circle cx="1557.1" cy="1116.1" r="6.9"/><circle cx="1561.8" cy="1117.6" r="6.9"/><circle cx="1550.4" cy="1118.7" r="6.9"/><circle cx="1557.8" cy="1121.2" r="6.9"/><circle cx="1553.1" cy="1123" r="6.9"/><circle cx="1561.2" cy="1124.7" r="6.9"/><circle cx="1556.5" cy="1126.6" r="6.9"/><circle cx="1552.4" cy="1129.2" r="6.9"/><circle cx="1557.8" cy="1131.7" r="6.9"/><circle cx="1562.5" cy="1133.9" r="6.9"/><circle cx="1557.8" cy="1136.9" r="6.9"/><circle cx="1562.5" cy="1139.4" r="6.9"/><circle cx="1557.8" cy="1143.1" r="6.9"/><circle cx="1554.4" cy="1146.7" r="6.9"/><circle cx="1557.8" cy="1151.7" r="6.9"/><circle cx="1557.8" cy="1157.4" r="6.9"/><circle cx="1557.8" cy="768.5" r="6.9"/><circle cx="1557.8" cy="797" r="6.9"/><circle cx="1557.8" cy="833.5" r="6.9"/><circle cx="1557.8" cy="852.5" r="6.9"/><circle cx="1557.8" cy="862.7" r="6.9"/></g>
<g fill="#ffa800"><circle cx="1619" cy="821.3" r="6.9"/><circle cx="1615" cy="823.9" r="6.9"/><circle cx="1620.3" cy="826" r="6.9"/><circle cx="1616.3" cy="828.7" r="6.9"/><circle cx="1623.7" cy="829.5" r="6.9"/><circle cx="1612.3" cy="831.2" r="6.9"/><circle cx="1619" cy="833.5" r="6.9"/><circle cx="1623.7" cy="834.4" r="6.9"/><circle cx="1614.3" cy="835.8" r="6.9"/><circle cx="1627.8" cy="837.6" r="6.9"/><circle cx="1619" cy="838.6" r="6.9"/><circle cx="1611.6" cy="839.9" r="6.9"/><circle cx="1623" cy="841.2" r="6.9"/><circle cx="1615.6" cy="842.5" r="6.9"/><circle cx="1627.8" cy="843.5" r="6.9"/><circle cx="1608.9" cy="844.2" r="6.9"/><circle cx="1619.7" cy="845.6" r="6.9"/><circle cx="1624.4" cy="846.9" r="6.9"/><circle cx="1615" cy="847.5" r="6.9"/><circle cx="1629.1" cy="848.6" r="6.9"/><circle cx="1610.2" cy="849.6" r="6.9"/><circle cx="1619" cy="851.5" r="6.9"/><circle cx="1623.7" cy="852.4" r="6.9"/><circle cx="1614.3" cy="852.6" r="6.9"/><circle cx="1628.4" cy="854.6" r="6.9"/><circle cx="1610.2" cy="855.3" r="6.9"/><circle cx="1605.5" cy="856.2" r="6.9"/><circle cx="1619" cy="857.3" r="6.9"/><circle cx="1623.7" cy="859" r="6.9"/><circle cx="1615" cy="860" r="6.9"/><circle cx="1628.4" cy="860.1" r="6.9"/><circle cx="1610.2" cy="861.9" r="6.9"/><circle cx="1619" cy="862.6" r="6.9"/><circle cx="1605.5" cy="863" r="6.9"/><circle cx="1623.7" cy="864.6" r="6.9"/><circle cx="1615" cy="865.9" r="6.9"/><circle cx="1610.2" cy="866.9" r="6.9"/><circle cx="1619.7" cy="867.8" r="6.9"/><circle cx="1627.1" cy="868.6" r="6.9"/><circle cx="1606.2" cy="869.6" r="6.9"/><circle cx="1631.8" cy="870.2" r="6.9"/><circle cx="1616.3" cy="871.6" r="6.9"/><circle cx="1621" cy="873.1" r="6.9"/><circle cx="1612.3" cy="874.3" r="6.9"/><circle cx="1625.7" cy="874.6" r="6.9"/><circle cx="1630.4" cy="876.1" r="6.9"/><circle cx="1617.7" cy="876.9" r="6.9"/><circle cx="1608.2" cy="877.7" r="6.9"/><circle cx="1622.4" cy="879.2" r="6.9"/><circle cx="1613.6" cy="879.8" r="6.9"/><circle cx="1627.1" cy="880.9" r="6.9"/><circle cx="1631.8" cy="881.1" r="6.9"/><circle cx="1618.3" cy="882.2" r="6.9"/><circle cx="1610.2" cy="883.5" r="6.9"/><circle cx="1623" cy="884.5" r="6.9"/><circle cx="1615" cy="885.8" r="6.9"/><circle cx="1627.8" cy="886.5" r="6.9"/><circle cx="1606.9" cy="887.1" r="6.9"/><circle cx="1619" cy="888.8" r="6.9"/><circle cx="1623.7" cy="889.4" r="6.9"/><circle cx="1612.3" cy="890.2" r="6.9"/><circle cx="1628.4" cy="891.5" r="6.9"/><circle cx="1633.1" cy="891.6" r="6.9"/><circle cx="1616.3" cy="893.2" r="6.9"/><circle cx="1608.2" cy="893.4" r="6.9"/><circle cx="1621" cy="895" r="6.9"/><circle cx="1625.7" cy="895.6" r="6.9"/><circle cx="1612.9" cy="896.8" r="6.9"/><circle cx="1630.4" cy="897" r="6.9"/><circle cx="1617.7" cy="898.9" r="6.9"/><circle cx="1608.2" cy="899.2" r="6.9"/><circle cx="1622.4" cy="900.6" r="6.9"/><circle cx="1627.1" cy="901.5" r="6.9"/><circle cx="1613.6" cy="902.2" r="6.9"/><circle cx="1631.8" cy="903.3" r="6.9"/><circle cx="1606.2" cy="903.7" r="6.9"/><circle cx="1619" cy="904.3" r="6.9"/><circle cx="1623.7" cy="905.8" r="6.9"/><circle cx="1635.8" cy="905.9" r="6.9"/><circle cx="1615" cy="907.4" r="6.9"/><circle cx="1610.2" cy="908" r="6.9"/><circle cx="1627.8" cy="909" r="6.9"/><circle cx="1619.7" cy="909.8" r="6.9"/><circle cx="1606.9" cy="911.6" r="6.9"/><circle cx="1612.9" cy="912" r="6.9"/><circle cx="1623.7" cy="912.9" r="6.9"/><circle cx="1629.8" cy="913.6" r="6.9"/><circle cx="1619" cy="914.7" r="6.9"/><circle cx="1634.5" cy="915" r="6.9"/><circle cx="1609.6" cy="915.9" r="6.9"/><circle cx="1615" cy="917.4" r="6.9"/><circle cx="1623" cy="917.9" r="6.9"/><circle cx="1627.8" cy="918.4" r="6.9"/><circle cx="1606.2" cy="919.7" r="6.9"/><circle cx="1619" cy="920.9" r="6.9"/><circle cx="1611.6" cy="921" r="6.9"/><circle cx="1631.1" cy="922.3" r="6.9"/><circle cx="1625.1" cy="922.4" r="6.9"/><circle cx="1602.8" cy="923.8" r="6.9"/><circle cx="1615.6" cy="924.6" r="6.9"/><circle cx="1621" cy="925.5" r="6.9"/><circle cx="1610.2" cy="925.8" r="6.9"/><circle cx="1627.1" cy="926.9" r="6.9"/><circle cx="1631.8" cy="927.4" r="6.9"/><circle cx="1605.5" cy="928.3" r="6.9"/><circle cx="1619" cy="930" r="6.9"/><circle cx="1623.7" cy="930.6" r="6.9"/><circle cx="1614.3" cy="931.4" r="6.9"/><circle cx="1609.6" cy="931.5" r="6.9"/><circle cx="1628.4" cy="932.9" r="6.9"/><circle cx="1605.5" cy="934.2" r="6.9"/><circle cx="1620.3" cy="934.8" r="6.9"/><circle cx="1632.5" cy="935.6" r="6.9"/><circle cx="1615.6" cy="936.5" r="6.9"/><circle cx="1625.1" cy="936.5" r="6.9"/><circle cx="1610.9" cy="937.7" r="6.9"/><circle cx="1603.5" cy="938.8" r="6.9"/><circle cx="1619.7" cy="939.8" r="6.9"/><circle cx="1628.4" cy="940" r="6.9"/><circle cx="1633.1" cy="940.8" r="6.9"/><circle cx="1615" cy="941.4" r="6.9"/><circle cx="1608.2" cy="941.9" r="6.9"/><circle cx="1623" cy="943.5" r="6.9"/><circle cx="1603.5" cy="944.1" r="6.9"/><circle cx="1636.5" cy="944.4" r="6.9"/><circle cx="1618.3" cy="945.9" r="6.9"/><circle cx="1613.6" cy="946.5" r="6.9"/><circle cx="1625.7" cy="947.6" r="6.9"/><circle cx="1608.9" cy="948.2" r="6.9"/><circle cx="1630.4" cy="948.7" r="6.9"/><circle cx="1604.2" cy="949" r="6.9"/><circle cx="1635.2" cy="949.7" r="6.9"/><circle cx="1620.3" cy="950.6" r="6.9"/><circle cx="1615.6" cy="951.5" r="6.9"/><circle cx="1600.2" cy="952" r="6.9"/><circle cx="1625.1" cy="953" r="6.9"/><circle cx="1610.9" cy="953.3" r="6.9"/><circle cx="1629.8" cy="954.3" r="6.9"/><circle cx="1606.2" cy="955.1" r="6.9"/><circle cx="1619" cy="955.4" r="6.9"/><circle cx="1634.5" cy="956.5" r="6.9"/><circle cx="1614.3" cy="957.4" r="6.9"/><circle cx="1623" cy="958.5" r="6.9"/><circle cx="1609.6" cy="958.7" r="6.9"/><circle cx="1627.8" cy="959.8" r="6.9"/><circle cx="1604.9" cy="960.1" r="6.9"/><circle cx="1619" cy="961.5" r="6.9"/><circle cx="1632.5" cy="962" r="6.9"/><circle cx="1614.3" cy="963.1" r="6.9"/><circle cx="1623.7" cy="963.4" r="6.9"/><circle cx="1609.6" cy="964.2" r="6.9"/><circle cx="1602.8" cy="964.6" r="6.9"/><circle cx="1628.4" cy="965.4" r="6.9"/><circle cx="1635.8" cy="966" r="6.9"/><circle cx="1619" cy="967" r="6.9"/><circle cx="1614.3" cy="968.3" r="6.9"/><circle cx="1623.7" cy="968.5" r="6.9"/><circle cx="1607.6" cy="968.8" r="6.9"/><circle cx="1629.8" cy="970.2" r="6.9"/><circle cx="1602.8" cy="970.2" r="6.9"/><circle cx="1617.7" cy="971.8" r="6.9"/><circle cx="1611.6" cy="972.4" r="6.9"/><circle cx="1634.5" cy="972.4" r="6.9"/><circle cx="1622.4" cy="974" r="6.9"/><circle cx="1627.1" cy="974.6" r="6.9"/><circle cx="1607.6" cy="975.5" r="6.9"/><circle cx="1615" cy="976" r="6.9"/><circle cx="1631.8" cy="976.7" r="6.9"/><circle cx="1602.8" cy="978" r="6.9"/><circle cx="1619.7" cy="978.3" r="6.9"/><circle cx="1636.5" cy="978.4" r="6.9"/><circle cx="1624.4" cy="979.1" r="6.9"/><circle cx="1611.6" cy="979.7" r="6.9"/><circle cx="1629.1" cy="980.8" r="6.9"/><circle cx="1616.3" cy="982" r="6.9"/><circle cx="1607.6" cy="982.6" r="6.9"/><circle cx="1633.8" cy="982.7" r="6.9"/><circle cx="1621" cy="983.6" r="6.9"/><circle cx="1612.3" cy="985" r="6.9"/><circle cx="1625.7" cy="985" r="6.9"/><circle cx="1603.5" cy="985.9" r="6.9"/><circle cx="1617.7" cy="987.1" r="6.9"/><circle cx="1630.4" cy="987.5" r="6.9"/><circle cx="1608.2" cy="988.4" r="6.9"/><circle cx="1622.4" cy="988.6" r="6.9"/><circle cx="1613.6" cy="990.3" r="6.9"/><circle cx="1634.5" cy="990.5" r="6.9"/><circle cx="1602.2" cy="990.7" r="6.9"/><circle cx="1619" cy="992.1" r="6.9"/><circle cx="1625.1" cy="992.9" r="6.9"/><circle cx="1609.6" cy="993.6" r="6.9"/><circle cx="1629.8" cy="994.7" r="6.9"/><circle cx="1604.9" cy="994.9" r="6.9"/><circle cx="1615" cy="995.5" r="6.9"/><circle cx="1634.5" cy="996.3" r="6.9"/><circle cx="1619.7" cy="997.5" r="6.9"/><circle cx="1600.8" cy="997.6" r="6.9"/><circle cx="1624.4" cy="998.9" r="6.9"/><circle cx="1611.6" cy="999.5" r="6.9"/><circle cx="1629.1" cy="999.6" r="6.9"/><circle cx="1616.3" cy="1001.1" r="6.9"/><circle cx="1606.9" cy="1001.8" r="6.9"/><circle cx="1621" cy="1002.3" r="6.9"/><circle cx="1632.5" cy="1003.3" r="6.9"/><circle cx="1625.7" cy="1003.7" r="6.9"/><circle cx="1612.9" cy="1004.8" r="6.9"/><circle cx="1602.8" cy="1005.2" r="6.9"/><circle cx="1637.2" cy="1005.5" r="6.9"/><circle cx="1617.7" cy="1006.2" r="6.9"/><circle cx="1622.4" cy="1007.6" r="6.9"/><circle cx="1627.1" cy="1008.7" r="6.9"/><circle cx="1610.2" cy="1009.1" r="6.9"/><circle cx="1631.8" cy="1010" r="6.9"/><circle cx="1615" cy="1010.3" r="6.9"/><circle cx="1605.5" cy="1011.5" r="6.9"/><circle cx="1619.7" cy="1012" r="6.9"/><circle cx="1624.4" cy="1013.5" r="6.9"/><circle cx="1612.3" cy="1014.4" r="6.9"/><circle cx="1629.1" cy="1014.5" r="6.9"/><circle cx="1633.8" cy="1014.9" r="6.9"/><circle cx="1619" cy="1016.9" r="6.9"/><circle cx="1608.2" cy="1017.7" r="6.9"/><circle cx="1603.5" cy="1018" r="6.9"/><circle cx="1614.3" cy="1018.8" r="6.9"/><circle cx="1622.4" cy="1020.6" r="6.9"/><circle cx="1627.1" cy="1021.7" r="6.9"/><circle cx="1610.2" cy="1022.2" r="6.9"/><circle cx="1618.3" cy="1023.6" r="6.9"/><circle cx="1631.1" cy="1024.8" r="6.9"/><circle cx="1606.2" cy="1024.9" r="6.9"/><circle cx="1622.4" cy="1026.7" r="6.9"/><circle cx="1615" cy="1027.1" r="6.9"/><circle cx="1627.1" cy="1028.8" r="6.9"/><circle cx="1619" cy="1030.3" r="6.9"/><circle cx="1611.6" cy="1030.7" r="6.9"/><circle cx="1623.7" cy="1032.6" r="6.9"/><circle cx="1616.3" cy="1034.3" r="6.9"/><circle cx="1628.4" cy="1034.7" r="6.9"/><circle cx="1611.6" cy="1035.9" r="6.9"/><circle cx="1619" cy="1038.5" r="6.9"/><circle cx="1623.7" cy="1039.6" r="6.9"/><circle cx="1615.6" cy="1042.2" r="6.9"/><circle cx="1620.3" cy="1044.5" r="6.9"/><circle cx="1616.3" cy="1047.2" r="6.9"/><circle cx="1620.3" cy="1049.9" r="6.9"/><circle cx="1617.7" cy="1054.1" r="6.9"/><circle cx="1619" cy="1059.4" r="6.9"/><circle cx="1619" cy="1066.7" r="6.9"/><circle cx="1619" cy="701.1" r="6.9"/><circle cx="1619" cy="741.7" r="6.9"/><circle cx="1619" cy="759" r="6.9"/><circle cx="1619" cy="770" r="6.9"/><circle cx="1619" cy="789.6" r="6.9"/><circle cx="1619" cy="799.8" r="6.9"/><circle cx="1619" cy="1094.2" r="6.9"/><circle cx="1619" cy="1106.4" r="6.9"/><circle cx="1619" cy="1121.8" r="6.9"/></g>
<g fill="#404040"><circle cx="1694.4" cy="1013.6" r="6.9"/><circle cx="1694.4" cy="1020.4" r="6.9"/><circle cx="1694.4" cy="1027.6" r="6.9"/><circle cx="1694.4" cy="1034.1" r="6.9"/><circle cx="1694.4" cy="1042.1" r="6.9"/><circle cx="1694.4" cy="1049.1" r="6.9"/><circle cx="1697.2" cy="1054.1" r="6.9"/><circle cx="1694.4" cy="1059.4" r="6.9"/><circle cx="1690.9" cy="1064" r="6.9"/><circle cx="1695.1" cy="1067.7" r="6.9"/><circle cx="1690.9" cy="1071.7" r="6.9"/><circle cx="1695.8" cy="1074.9" r="6.9"/><circle cx="1690.9" cy="1077.5" r="6.9"/><circle cx="1697.9" cy="1080.1" r="6.9"/><circle cx="1687.4" cy="1082.2" r="6.9"/><circle cx="1693.7" cy="1084.3" r="6.9"/><circle cx="1699.3" cy="1086.6" r="6.9"/><circle cx="1690.2" cy="1089" r="6.9"/><circle cx="1703.5" cy="1090.8" r="6.9"/><circle cx="1695.8" cy="1091.4" r="6.9"/><circle cx="1686.7" cy="1093.2" r="6.9"/><circle cx="1681.1" cy="1094.2" r="6.9"/><circle cx="1700" cy="1095.2" r="6.9"/><circle cx="1694.4" cy="1097.5" r="6.9"/><circle cx="1704.9" cy="1098.2" r="6.9"/><circle cx="1688.8" cy="1099.6" r="6.9"/><circle cx="1683.2" cy="1100.5" r="6.9"/><circle cx="1697.2" cy="1102.5" r="6.9"/><circle cx="1708.4" cy="1102.9" r="6.9"/><circle cx="1702.8" cy="1104.1" r="6.9"/><circle cx="1692.3" cy="1105.1" r="6.9"/><circle cx="1686.7" cy="1106.8" r="6.9"/><circle cx="1681.1" cy="1107.3" r="6.9"/><circle cx="1696.5" cy="1108.9" r="6.9"/><circle cx="1702.1" cy="1110.3" r="6.9"/><circle cx="1690.9" cy="1110.7" r="6.9"/><circle cx="1684.6" cy="1112.1" r="6.9"/><circle cx="1707" cy="1112.8" r="6.9"/><circle cx="1695.1" cy="1114.3" r="6.9"/><circle cx="1679.7" cy="1115.1" r="6.9"/><circle cx="1712.6" cy="1115.3" r="6.9"/><circle cx="1689.5" cy="1116.6" r="6.9"/><circle cx="1700" cy="1117.7" r="6.9"/><circle cx="1705.6" cy="1118.5" r="6.9"/><circle cx="1683.9" cy="1119" r="6.9"/><circle cx="1694.4" cy="1121" r="6.9"/><circle cx="1679" cy="1121.6" r="6.9"/><circle cx="1710.5" cy="1121.9" r="6.9"/><circle cx="1689.5" cy="1123.6" r="6.9"/><circle cx="1699.3" cy="1123.7" r="6.9"/><circle cx="1704.9" cy="1125.2" r="6.9"/><circle cx="1683.9" cy="1126.1" r="6.9"/><circle cx="1694.4" cy="1126.5" r="6.9"/><circle cx="1709.8" cy="1127.8" r="6.9"/><circle cx="1689.5" cy="1129.3" r="6.9"/><circle cx="1699.3" cy="1129.7" r="6.9"/><circle cx="1704.9" cy="1131" r="6.9"/><circle cx="1681.1" cy="1131.1" r="6.9"/><circle cx="1675.5" cy="1131.7" r="6.9"/><circle cx="1694.4" cy="1132.9" r="6.9"/><circle cx="1686.7" cy="1134.1" r="6.9"/><circle cx="1709.1" cy="1134.7" r="6.9"/><circle cx="1698.6" cy="1136.5" r="6.9"/><circle cx="1681.8" cy="1137.1" r="6.9"/><circle cx="1692.3" cy="1138.2" r="6.9"/><circle cx="1704.2" cy="1138.4" r="6.9"/><circle cx="1686.7" cy="1139.6" r="6.9"/><circle cx="1709.8" cy="1140.8" r="6.9"/><circle cx="1677.6" cy="1141.1" r="6.9"/><circle cx="1695.8" cy="1142.4" r="6.9"/><circle cx="1701.4" cy="1143.4" r="6.9"/><circle cx="1682.5" cy="1143.6" r="6.9"/><circle cx="1690.2" cy="1144.6" r="6.9"/><circle cx="1706.3" cy="1146.1" r="6.9"/><circle cx="1677.6" cy="1147.1" r="6.9"/><circle cx="1711.9" cy="1147.2" r="6.9"/><circle cx="1695.1" cy="1148.1" r="6.9"/><circle cx="1700.7" cy="1149.9" r="6.9"/><circle cx="1689.5" cy="1150.2" r="6.9"/><circle cx="1683.9" cy="1151.2" r="6.9"/><circle cx="1706.3" cy="1152.1" r="6.9"/><circle cx="1678.3" cy="1153.2" r="6.9"/><circle cx="1694.4" cy="1154.1" r="6.9"/><circle cx="1711.9" cy="1154.5" r="6.9"/><circle cx="1688.8" cy="1156" r="6.9"/><circle cx="1699.3" cy="1156.9" r="6.9"/><circle cx="1704.9" cy="1158" r="6.9"/><circle cx="1683.9" cy="1158.9" r="6.9"/><circle cx="1678.3" cy="1159.5" r="6.9"/><circle cx="1694.4" cy="1160.4" r="6.9"/><circle cx="1709.8" cy="1161.4" r="6.9"/><circle cx="1688.8" cy="1162.8" r="6.9"/><circle cx="1699.3" cy="1163.3" r="6.9"/><circle cx="1704.9" cy="1164.1" r="6.9"/><circle cx="1683.2" cy="1165.2" r="6.9"/><circle cx="1694.4" cy="1166.2" r="6.9"/><circle cx="1709.8" cy="1167.6" r="6.9"/><circle cx="1678.3" cy="1167.9" r="6.9"/><circle cx="1699.3" cy="1169.7" r="6.9"/><circle cx="1691.6" cy="1171.2" r="6.9"/><circle cx="1686" cy="1172.1" r="6.9"/><circle cx="1704.2" cy="1172.9" r="6.9"/><circle cx="1680.4" cy="1174.4" r="6.9"/><circle cx="1694.4" cy="1176.1" r="6.9"/><circle cx="1688.8" cy="1177.4" r="6.9"/><circle cx="1700" cy="1177.9" r="6.9"/><circle cx="1683.9" cy="1180.5" r="6.9"/><circle cx="1693.7" cy="1181.5" r="6.9"/><circle cx="1699.3" cy="1183.6" r="6.9"/><circle cx="1689.5" cy="1185.4" r="6.9"/><circle cx="1704.2" cy="1186.7" r="6.9"/><circle cx="1694.4" cy="1189.4" r="6.9"/><circle cx="1688.8" cy="1191.9" r="6.9"/><circle cx="1697.2" cy="1194.4" r="6.9"/><circle cx="1692.3" cy="1197.2" r="6.9"/><circle cx="1695.8" cy="1201.8" r="6.9"/><circle cx="1694.4" cy="927.7" r="6.9"/><circle cx="1694.4" cy="960.2" r="6.9"/><circle cx="1694.4" cy="970.4" r="6.9"/><circle cx="1694.4" cy="1225.5" r="6.9"/><circle cx="1695.4" cy="1227" r="6.9"/></g>
<g fill="#8a8a8a"><circle cx="1755.6" cy="1028.2" r="6.9"/><circle cx="1750.9" cy="1030.8" r="6.9"/><circle cx="1755.6" cy="1034" r="6.9"/><circle cx="1761" cy="1035.9" r="6.9"/><circle cx="1751.6" cy="1037.6" r="6.9"/><circle cx="1756.9" cy="1039.7" r="6.9"/><circle cx="1762.3" cy="1041.7" r="6.9"/><circle cx="1750.2" cy="1042.9" r="6.9"/><circle cx="1744.8" cy="1044.2" r="6.9"/><circle cx="1755.6" cy="1045.4" r="6.9"/><circle cx="1764.3" cy="1047" r="6.9"/><circle cx="1769.7" cy="1047.8" r="6.9"/><circle cx="1751.6" cy="1049.3" r="6.9"/><circle cx="1742.8" cy="1049.5" r="6.9"/><circle cx="1757.6" cy="1050.6" r="6.9"/><circle cx="1766.4" cy="1052.3" r="6.9"/><circle cx="1772.4" cy="1052.7" r="6.9"/><circle cx="1747.5" cy="1053.2" r="6.9"/><circle cx="1739.4" cy="1053.9" r="6.9"/><circle cx="1754.9" cy="1055.4" r="6.9"/><circle cx="1760.3" cy="1055.8" r="6.9"/><circle cx="1744.2" cy="1057.7" r="6.9"/><circle cx="1765.7" cy="1057.8" r="6.9"/><circle cx="1750.2" cy="1058.9" r="6.9"/><circle cx="1771.1" cy="1059.9" r="6.9"/><circle cx="1755.6" cy="1061" r="6.9"/><circle cx="1761" cy="1062" r="6.9"/><circle cx="1740.8" cy="1062.3" r="6.9"/><circle cx="1748.2" cy="1064.1" r="6.9"/><circle cx="1765.7" cy="1065.2" r="6.9"/><circle cx="1771.1" cy="1065.4" r="6.9"/><circle cx="1755.6" cy="1066.7" r="6.9"/><circle cx="1737.4" cy="1067" r="6.9"/><circle cx="1761" cy="1069.1" r="6.9"/><circle cx="1750.9" cy="1069.7" r="6.9"/><circle cx="1745.5" cy="1070.5" r="6.9"/><circle cx="1766.4" cy="1070.9" r="6.9"/><circle cx="1755.6" cy="1072.6" r="6.9"/><circle cx="1740.8" cy="1073.3" r="6.9"/><circle cx="1771.1" cy="1074.4" r="6.9"/><circle cx="1761" cy="1074.7" r="6.9"/><circle cx="1751.6" cy="1076.6" r="6.9"/><circle cx="1746.2" cy="1077" r="6.9"/><circle cx="1756.9" cy="1078.7" r="6.9"/><circle cx="1765" cy="1078.8" r="6.9"/><circle cx="1741.5" cy="1079.7" r="6.9"/><circle cx="1770.4" cy="1081.3" r="6.9"/><circle cx="1750.2" cy="1082" r="6.9"/><circle cx="1760.3" cy="1083.3" r="6.9"/><circle cx="1737.4" cy="1083.9" r="6.9"/><circle cx="1754.9" cy="1084.7" r="6.9"/><circle cx="1746.2" cy="1086" r="6.9"/><circle cx="1764.3" cy="1087" r="6.9"/><circle cx="1759" cy="1088.9" r="6.9"/><circle cx="1752.2" cy="1089.6" r="6.9"/><circle cx="1742.8" cy="1090.3" r="6.9"/><circle cx="1767.7" cy="1091.6" r="6.9"/><circle cx="1773.1" cy="1092.1" r="6.9"/><circle cx="1756.3" cy="1093.8" r="6.9"/><circle cx="1750.2" cy="1094.8" r="6.9"/><circle cx="1761.7" cy="1095.3" r="6.9"/><circle cx="1744.8" cy="1096" r="6.9"/><circle cx="1766.4" cy="1097.9" r="6.9"/><circle cx="1740.1" cy="1098.8" r="6.9"/><circle cx="1755.6" cy="1100" r="6.9"/><circle cx="1750.2" cy="1100.5" r="6.9"/><circle cx="1761" cy="1101.5" r="6.9"/><circle cx="1744.8" cy="1102.2" r="6.9"/><circle cx="1769.1" cy="1102.8" r="6.9"/><circle cx="1739.4" cy="1104.5" r="6.9"/><circle cx="1755.6" cy="1105.6" r="6.9"/><circle cx="1750.2" cy="1106.1" r="6.9"/><circle cx="1761" cy="1107.2" r="6.9"/><circle cx="1745.5" cy="1108.8" r="6.9"/><circle cx="1766.4" cy="1109.4" r="6.9"/><circle cx="1771.8" cy="1109.5" r="6.9"/><circle cx="1755.6" cy="1111.2" r="6.9"/><circle cx="1750.2" cy="1112.3" r="6.9"/><circle cx="1761" cy="1113.5" r="6.9"/><circle cx="1744.2" cy="1114.2" r="6.9"/><circle cx="1769.1" cy="1114.3" r="6.9"/><circle cx="1738.8" cy="1115.6" r="6.9"/><circle cx="1774.4" cy="1116.3" r="6.9"/><circle cx="1755.6" cy="1117.5" r="6.9"/><circle cx="1750.2" cy="1118.1" r="6.9"/><circle cx="1761" cy="1119.5" r="6.9"/><circle cx="1745.5" cy="1120.7" r="6.9"/><circle cx="1766.4" cy="1120.8" r="6.9"/><circle cx="1740.1" cy="1122.2" r="6.9"/><circle cx="1755.6" cy="1123.1" r="6.9"/><circle cx="1750.2" cy="1124.6" r="6.9"/><circle cx="1770.4" cy="1124.7" r="6.9"/><circle cx="1760.3" cy="1126" r="6.9"/><circle cx="1744.8" cy="1126.8" r="6.9"/><circle cx="1765.7" cy="1128.3" r="6.9"/><circle cx="1755.6" cy="1129.2" r="6.9"/><circle cx="1740.1" cy="1129.9" r="6.9"/><circle cx="1750.2" cy="1130.9" r="6.9"/><circle cx="1761" cy="1131.5" r="6.9"/><circle cx="1744.8" cy="1132.7" r="6.9"/><circle cx="1767.7" cy="1133.7" r="6.9"/><circle cx="1755.6" cy="1134.8" r="6.9"/><circle cx="1738.8" cy="1135.3" r="6.9"/><circle cx="1748.9" cy="1136.3" r="6.9"/><circle cx="1760.3" cy="1137.4" r="6.9"/><circle cx="1771.1" cy="1138" r="6.9"/><circle cx="1765.7" cy="1138.9" r="6.9"/><circle cx="1755.6" cy="1140.4" r="6.9"/><circle cx="1745.5" cy="1140.8" r="6.9"/><circle cx="1740.1" cy="1141.6" r="6.9"/><circle cx="1750.9" cy="1143.6" r="6.9"/><circle cx="1759.6" cy="1144.2" r="6.9"/><circle cx="1765" cy="1144.9" r="6.9"/><circle cx="1770.4" cy="1145.9" r="6.9"/><circle cx="1746.2" cy="1146.5" r="6.9"/><circle cx="1754.9" cy="1147.7" r="6.9"/><circle cx="1761.7" cy="1149.4" r="6.9"/><circle cx="1741.5" cy="1150" r="6.9"/><circle cx="1750.2" cy="1150.6" r="6.9"/><circle cx="1766.4" cy="1152.2" r="6.9"/><circle cx="1755.6" cy="1153.7" r="6.9"/><circle cx="1746.2" cy="1154.3" r="6.9"/><circle cx="1761" cy="1155.1" r="6.9"/><circle cx="1740.8" cy="1156" r="6.9"/><circle cx="1751.6" cy="1157.7" r="6.9"/><circle cx="1765.7" cy="1158.1" r="6.9"/><circle cx="1756.3" cy="1160.3" r="6.9"/><circle cx="1747.5" cy="1161.3" r="6.9"/><circle cx="1761.7" cy="1161.8" r="6.9"/><circle cx="1768.4" cy="1163" r="6.9"/><circle cx="1742.1" cy="1163.6" r="6.9"/><circle cx="1754.3" cy="1165.5" r="6.9"/><circle cx="1764.3" cy="1166.7" r="6.9"/><circle cx="1748.9" cy="1167.1" r="6.9"/><circle cx="1759" cy="1168.4" r="6.9"/><circle cx="1743.5" cy="1169.6" r="6.9"/><circle cx="1752.9" cy="1170.8" r="6.9"/><circle cx="1762.3" cy="1172.6" r="6.9"/><circle cx="1748.2" cy="1173.6" r="6.9"/><circle cx="1756.3" cy="1175.1" r="6.9"/><circle cx="1766.4" cy="1176.3" r="6.9"/><circle cx="1744.2" cy="1177.7" r="6.9"/><circle cx="1752.2" cy="1178.7" r="6.9"/><circle cx="1759.6" cy="1179.4" r="6.9"/><circle cx="1770.4" cy="1180.4" r="6.9"/><circle cx="1748.2" cy="1182.4" r="6.9"/><circle cx="1755.6" cy="1183.4" r="6.9"/><circle cx="1761.7" cy="1184.5" r="6.9"/><circle cx="1767" cy="1185.8" r="6.9"/><circle cx="1751.6" cy="1187.3" r="6.9"/><circle cx="1756.9" cy="1188.9" r="6.9"/><circle cx="1762.3" cy="1190.6" r="6.9"/><circle cx="1747.5" cy="1191.5" r="6.9"/><circle cx="1753.6" cy="1193.2" r="6.9"/><circle cx="1767" cy="1194.1" r="6.9"/><circle cx="1758.3" cy="1196.6" r="6.9"/><circle cx="1753.6" cy="1199.2" r="6.9"/><circle cx="1757.6" cy="1203.4" r="6.9"/><circle cx="1755.6" cy="922.4" r="6.9"/><circle cx="1755.6" cy="960.2" r="6.9"/><circle cx="1755.6" cy="982.5" r="6.9"/><circle cx="1755.6" cy="992.7" r="6.9"/><circle cx="1755.6" cy="1004.9" r="6.9"/><circle cx="1755.6" cy="1216" r="6.9"/><circle cx="1755.6" cy="1232.3" r="6.9"/><circle cx="1755.6" cy="1258.7" r="6.9"/></g>
<g fill="#f26c2a"><circle cx="1816.8" cy="961.4" r="6.9"/><circle cx="1820.3" cy="965.1" r="6.9"/><circle cx="1816.1" cy="968.5" r="6.9"/><circle cx="1820.3" cy="971.2" r="6.9"/><circle cx="1814" cy="973" r="6.9"/><circle cx="1824.6" cy="974.3" r="6.9"/><circle cx="1817.5" cy="976.7" r="6.9"/><circle cx="1811.8" cy="977.6" r="6.9"/><circle cx="1821.8" cy="979.7" r="6.9"/><circle cx="1807.6" cy="980.9" r="6.9"/><circle cx="1816.8" cy="982.1" r="6.9"/><circle cx="1811.8" cy="983.5" r="6.9"/><circle cx="1821" cy="984.9" r="6.9"/><circle cx="1807.6" cy="986.5" r="6.9"/><circle cx="1826" cy="986.9" r="6.9"/><circle cx="1816.8" cy="989.3" r="6.9"/><circle cx="1811.8" cy="989.6" r="6.9"/><circle cx="1821.8" cy="991" r="6.9"/><circle cx="1808.3" cy="993.3" r="6.9"/><circle cx="1816.8" cy="994.8" r="6.9"/><circle cx="1821.8" cy="996.6" r="6.9"/><circle cx="1812.6" cy="997.3" r="6.9"/><circle cx="1826" cy="999.6" r="6.9"/><circle cx="1816.8" cy="1000.5" r="6.9"/><circle cx="1812.6" cy="1003.3" r="6.9"/><circle cx="1819.6" cy="1004.6" r="6.9"/><circle cx="1823.9" cy="1007.3" r="6.9"/><circle cx="1816.8" cy="1008.6" r="6.9"/><circle cx="1811.8" cy="1009.9" r="6.9"/><circle cx="1821" cy="1011.6" r="6.9"/><circle cx="1826" cy="1012.1" r="6.9"/><circle cx="1816.1" cy="1013.7" r="6.9"/><circle cx="1811.1" cy="1015.3" r="6.9"/><circle cx="1806.2" cy="1015.6" r="6.9"/><circle cx="1819.6" cy="1017.3" r="6.9"/><circle cx="1824.6" cy="1018" r="6.9"/><circle cx="1829.5" cy="1018.5" r="6.9"/><circle cx="1814.7" cy="1019.2" r="6.9"/><circle cx="1809" cy="1019.9" r="6.9"/><circle cx="1821" cy="1022" r="6.9"/><circle cx="1804.1" cy="1022.1" r="6.9"/><circle cx="1826" cy="1023.4" r="6.9"/><circle cx="1830.9" cy="1023.6" r="6.9"/><circle cx="1816.8" cy="1024.7" r="6.9"/><circle cx="1811.8" cy="1025.1" r="6.9"/><circle cx="1806.9" cy="1026.6" r="6.9"/><circle cx="1801.9" cy="1026.8" r="6.9"/><circle cx="1821" cy="1027.3" r="6.9"/><circle cx="1826" cy="1028.4" r="6.9"/><circle cx="1830.9" cy="1028.6" r="6.9"/><circle cx="1835.9" cy="1029.1" r="6.9"/><circle cx="1814.7" cy="1029.2" r="6.9"/><circle cx="1809.7" cy="1030.9" r="6.9"/><circle cx="1804.8" cy="1031.3" r="6.9"/><circle cx="1799.8" cy="1031.5" r="6.9"/><circle cx="1818.9" cy="1032.6" r="6.9"/><circle cx="1823.9" cy="1033" r="6.9"/><circle cx="1828.8" cy="1033.3" r="6.9"/><circle cx="1814" cy="1034.3" r="6.9"/><circle cx="1833.8" cy="1035.2" r="6.9"/><circle cx="1796.3" cy="1035.3" r="6.9"/><circle cx="1809" cy="1036.2" r="6.9"/><circle cx="1804.1" cy="1036.7" r="6.9"/><circle cx="1817.5" cy="1037.8" r="6.9"/><circle cx="1822.5" cy="1038.8" r="6.9"/><circle cx="1827.4" cy="1039.3" r="6.9"/><circle cx="1799.8" cy="1039.3" r="6.9"/><circle cx="1813.3" cy="1040.9" r="6.9"/><circle cx="1808.3" cy="1041" r="6.9"/><circle cx="1832.4" cy="1041.2" r="6.9"/><circle cx="1818.9" cy="1042.5" r="6.9"/><circle cx="1803.4" cy="1043.2" r="6.9"/><circle cx="1823.9" cy="1044.2" r="6.9"/><circle cx="1798.4" cy="1044.6" r="6.9"/><circle cx="1828.8" cy="1045" r="6.9"/><circle cx="1814.7" cy="1045.8" r="6.9"/><circle cx="1809.7" cy="1046.6" r="6.9"/><circle cx="1819.6" cy="1047.9" r="6.9"/><circle cx="1825.3" cy="1049" r="6.9"/><circle cx="1805.5" cy="1049.6" r="6.9"/><circle cx="1830.2" cy="1050.5" r="6.9"/><circle cx="1815.4" cy="1051.1" r="6.9"/><circle cx="1810.4" cy="1051.7" r="6.9"/><circle cx="1821.8" cy="1052.6" r="6.9"/><circle cx="1801.9" cy="1053.4" r="6.9"/><circle cx="1826.7" cy="1054.5" r="6.9"/><circle cx="1833.1" cy="1054.6" r="6.9"/><circle cx="1806.9" cy="1055.5" r="6.9"/><circle cx="1816.8" cy="1056.5" r="6.9"/><circle cx="1811.8" cy="1057.7" r="6.9"/><circle cx="1821.8" cy="1058" r="6.9"/><circle cx="1829.5" cy="1058.6" r="6.9"/><circle cx="1804.1" cy="1059.9" r="6.9"/><circle cx="1799.1" cy="1060.7" r="6.9"/><circle cx="1815.4" cy="1061.2" r="6.9"/><circle cx="1810.4" cy="1062.6" r="6.9"/><circle cx="1819.6" cy="1063.8" r="6.9"/><circle cx="1824.6" cy="1063.9" r="6.9"/><circle cx="1806.2" cy="1065.2" r="6.9"/><circle cx="1829.5" cy="1065.3" r="6.9"/><circle cx="1815.4" cy="1066.4" r="6.9"/><circle cx="1801.2" cy="1067.3" r="6.9"/><circle cx="1821" cy="1068.6" r="6.9"/><circle cx="1810.4" cy="1068.9" r="6.9"/><circle cx="1826" cy="1070.1" r="6.9"/><circle cx="1805.5" cy="1071" r="6.9"/><circle cx="1816.8" cy="1071.8" r="6.9"/><circle cx="1830.9" cy="1072.5" r="6.9"/><circle cx="1800.5" cy="1073.2" r="6.9"/><circle cx="1821.8" cy="1074.2" r="6.9"/><circle cx="1812.6" cy="1075" r="6.9"/><circle cx="1807.6" cy="1075.6" r="6.9"/><circle cx="1826.7" cy="1075.9" r="6.9"/><circle cx="1833.8" cy="1076.6" r="6.9"/><circle cx="1816.8" cy="1077.7" r="6.9"/><circle cx="1803.4" cy="1078.2" r="6.9"/><circle cx="1821.8" cy="1079.2" r="6.9"/><circle cx="1798.4" cy="1079.5" r="6.9"/><circle cx="1812.6" cy="1080.3" r="6.9"/><circle cx="1807.6" cy="1081" r="6.9"/><circle cx="1826" cy="1082.3" r="6.9"/><circle cx="1817.5" cy="1082.6" r="6.9"/><circle cx="1830.9" cy="1083.4" r="6.9"/><circle cx="1803.4" cy="1084.1" r="6.9"/><circle cx="1798.4" cy="1084.8" r="6.9"/><circle cx="1813.3" cy="1085.2" r="6.9"/><circle cx="1821.8" cy="1085.8" r="6.9"/><circle cx="1808.3" cy="1086.7" r="6.9"/><circle cx="1826.7" cy="1087.8" r="6.9"/><circle cx="1833.1" cy="1087.8" r="6.9"/><circle cx="1838" cy="1088.3" r="6.9"/><circle cx="1816.8" cy="1089.5" r="6.9"/><circle cx="1811.8" cy="1090.2" r="6.9"/><circle cx="1821.8" cy="1091" r="6.9"/><circle cx="1806.9" cy="1091.4" r="6.9"/><circle cx="1801.9" cy="1091.7" r="6.9"/><circle cx="1826.7" cy="1092.7" r="6.9"/><circle cx="1831.7" cy="1093" r="6.9"/><circle cx="1836.6" cy="1093.7" r="6.9"/><circle cx="1816.8" cy="1094.7" r="6.9"/><circle cx="1811.8" cy="1095.2" r="6.9"/><circle cx="1821.8" cy="1095.9" r="6.9"/><circle cx="1806.9" cy="1096.4" r="6.9"/><circle cx="1801.9" cy="1096.9" r="6.9"/><circle cx="1828.8" cy="1097.2" r="6.9"/><circle cx="1833.8" cy="1098.7" r="6.9"/><circle cx="1817.5" cy="1099.6" r="6.9"/><circle cx="1797.7" cy="1099.7" r="6.9"/><circle cx="1812.6" cy="1100.2" r="6.9"/><circle cx="1823.9" cy="1100.5" r="6.9"/><circle cx="1807.6" cy="1101.8" r="6.9"/><circle cx="1829.5" cy="1102.1" r="6.9"/><circle cx="1802.7" cy="1102.4" r="6.9"/><circle cx="1834.5" cy="1103.7" r="6.9"/><circle cx="1816.8" cy="1104.9" r="6.9"/><circle cx="1811.8" cy="1105.4" r="6.9"/><circle cx="1821.8" cy="1105.6" r="6.9"/><circle cx="1826.7" cy="1106.4" r="6.9"/><circle cx="1806.9" cy="1107.5" r="6.9"/><circle cx="1831.7" cy="1107.9" r="6.9"/><circle cx="1801.9" cy="1108.7" r="6.9"/><circle cx="1815.4" cy="1109.7" r="6.9"/><circle cx="1820.3" cy="1110.4" r="6.9"/><circle cx="1810.4" cy="1111.3" r="6.9"/><circle cx="1825.3" cy="1111.5" r="6.9"/><circle cx="1805.5" cy="1112.2" r="6.9"/><circle cx="1830.2" cy="1113.9" r="6.9"/><circle cx="1816.8" cy="1114.4" r="6.9"/><circle cx="1821.8" cy="1115.4" r="6.9"/><circle cx="1811.8" cy="1116.4" r="6.9"/><circle cx="1826.7" cy="1117.6" r="6.9"/><circle cx="1806.9" cy="1118.1" r="6.9"/><circle cx="1831.7" cy="1118.8" r="6.9"/><circle cx="1816.8" cy="1120" r="6.9"/><circle cx="1822.5" cy="1120.2" r="6.9"/><circle cx="1811.8" cy="1121.7" r="6.9"/><circle cx="1826.7" cy="1122.8" r="6.9"/><circle cx="1806.9" cy="1123.5" r="6.9"/><circle cx="1818.9" cy="1124.6" r="6.9"/><circle cx="1830.9" cy="1125.3" r="6.9"/><circle cx="1814" cy="1126.8" r="6.9"/><circle cx="1823.2" cy="1127.8" r="6.9"/><circle cx="1809" cy="1128.4" r="6.9"/><circle cx="1818.2" cy="1130.1" r="6.9"/><circle cx="1827.4" cy="1131.2" r="6.9"/><circle cx="1813.3" cy="1132" r="6.9"/><circle cx="1822.5" cy="1132.8" r="6.9"/><circle cx="1808.3" cy="1133.5" r="6.9"/><circle cx="1817.5" cy="1135.2" r="6.9"/><circle cx="1829.5" cy="1135.8" r="6.9"/><circle cx="1812.6" cy="1136.9" r="6.9"/><circle cx="1821.8" cy="1138.2" r="6.9"/><circle cx="1808.3" cy="1139.7" r="6.9"/><circle cx="1816.8" cy="1140.3" r="6.9"/><circle cx="1825.3" cy="1142.2" r="6.9"/><circle cx="1812.6" cy="1143.1" r="6.9"/><circle cx="1820.3" cy="1143.9" r="6.9"/><circle cx="1807.6" cy="1145.3" r="6.9"/><circle cx="1816.1" cy="1147.1" r="6.9"/><circle cx="1822.5" cy="1148.5" r="6.9"/><circle cx="1811.1" cy="1149.5" r="6.9"/><circle cx="1827.4" cy="1150.5" r="6.9"/><circle cx="1816.8" cy="1151.9" r="6.9"/><circle cx="1807.6" cy="1152.9" r="6.9"/><circle cx="1820.3" cy="1155.4" r="6.9"/><circle cx="1815.4" cy="1156.8" r="6.9"/><circle cx="1810.4" cy="1158.4" r="6.9"/><circle cx="1823.9" cy="1159.3" r="6.9"/><circle cx="1818.9" cy="1160.5" r="6.9"/><circle cx="1814.7" cy="1163.1" r="6.9"/><circle cx="1822.5" cy="1164.4" r="6.9"/><circle cx="1810.4" cy="1166.1" r="6.9"/><circle cx="1816.8" cy="1168" r="6.9"/><circle cx="1821.8" cy="1170" r="6.9"/><circle cx="1813.3" cy="1171.9" r="6.9"/><circle cx="1817.5" cy="1175" r="6.9"/><circle cx="1812.6" cy="1177.5" r="6.9"/><circle cx="1819.6" cy="1179.5" r="6.9"/><circle cx="1816.1" cy="1183" r="6.9"/><circle cx="1816.8" cy="1188.6" r="6.9"/><circle cx="1816.8" cy="1194.2" r="6.9"/><circle cx="1816.8" cy="859.9" r="6.9"/><circle cx="1816.8" cy="893.2" r="6.9"/><circle cx="1816.8" cy="899.3" r="6.9"/><circle cx="1816.8" cy="909.5" r="6.9"/><circle cx="1816.8" cy="921.6" r="6.9"/><circle cx="1816.8" cy="942" r="6.9"/></g>
<g fill="#ffa800"><circle cx="1878" cy="829.5" r="6.9"/><circle cx="1878" cy="835.8" r="6.9"/><circle cx="1878" cy="842.7" r="6.9"/><circle cx="1878" cy="848.9" r="6.9"/><circle cx="1878" cy="854.7" r="6.9"/><circle cx="1878" cy="861.3" r="6.9"/><circle cx="1878" cy="867" r="6.9"/><circle cx="1876.6" cy="871.7" r="6.9"/><circle cx="1880" cy="875.4" r="6.9"/><circle cx="1875.3" cy="877.2" r="6.9"/><circle cx="1883.5" cy="879.2" r="6.9"/><circle cx="1871.2" cy="880.4" r="6.9"/><circle cx="1878" cy="882.3" r="6.9"/><circle cx="1885.5" cy="883.8" r="6.9"/><circle cx="1873.9" cy="885.1" r="6.9"/><circle cx="1880" cy="886.8" r="6.9"/><circle cx="1869.1" cy="887.1" r="6.9"/><circle cx="1884.8" cy="889.2" r="6.9"/><circle cx="1876" cy="890.2" r="6.9"/><circle cx="1889.6" cy="891.2" r="6.9"/><circle cx="1880.7" cy="891.9" r="6.9"/><circle cx="1871.9" cy="893.3" r="6.9"/><circle cx="1884.8" cy="895.1" r="6.9"/><circle cx="1877.3" cy="895.7" r="6.9"/><circle cx="1868.5" cy="897.1" r="6.9"/><circle cx="1888.9" cy="898.1" r="6.9"/><circle cx="1880.7" cy="899.6" r="6.9"/><circle cx="1876" cy="901.3" r="6.9"/><circle cx="1871.2" cy="901.5" r="6.9"/><circle cx="1884.1" cy="903.1" r="6.9"/><circle cx="1888.9" cy="904" r="6.9"/><circle cx="1878.7" cy="905.4" r="6.9"/><circle cx="1873.9" cy="907" r="6.9"/><circle cx="1869.1" cy="907.3" r="6.9"/><circle cx="1882.8" cy="908.7" r="6.9"/><circle cx="1887.5" cy="909.7" r="6.9"/><circle cx="1865" cy="910.2" r="6.9"/><circle cx="1878" cy="911.9" r="6.9"/><circle cx="1873.2" cy="912.9" r="6.9"/><circle cx="1884.1" cy="913.5" r="6.9"/><circle cx="1868.5" cy="915.3" r="6.9"/><circle cx="1888.9" cy="915.5" r="6.9"/><circle cx="1879.4" cy="916.7" r="6.9"/><circle cx="1863.7" cy="917.4" r="6.9"/><circle cx="1874.6" cy="918.4" r="6.9"/><circle cx="1883.5" cy="919.7" r="6.9"/><circle cx="1870.5" cy="921.1" r="6.9"/><circle cx="1888.2" cy="921.6" r="6.9"/><circle cx="1878" cy="922.2" r="6.9"/><circle cx="1866.4" cy="923.7" r="6.9"/><circle cx="1882.1" cy="925.1" r="6.9"/><circle cx="1873.9" cy="925.1" r="6.9"/><circle cx="1886.9" cy="926.4" r="6.9"/><circle cx="1878" cy="928" r="6.9"/><circle cx="1870.5" cy="928.6" r="6.9"/><circle cx="1865.7" cy="929.6" r="6.9"/><circle cx="1882.1" cy="930.6" r="6.9"/><circle cx="1889.6" cy="930.6" r="6.9"/><circle cx="1874.6" cy="931.8" r="6.9"/><circle cx="1861.6" cy="932.7" r="6.9"/><circle cx="1869.1" cy="933.3" r="6.9"/><circle cx="1885.5" cy="934.1" r="6.9"/><circle cx="1878.7" cy="935.2" r="6.9"/><circle cx="1890.3" cy="935.8" r="6.9"/><circle cx="1873.9" cy="937" r="6.9"/><circle cx="1867.8" cy="938.1" r="6.9"/><circle cx="1882.8" cy="938.6" r="6.9"/><circle cx="1863" cy="939.2" r="6.9"/><circle cx="1878" cy="940.1" r="6.9"/><circle cx="1872.5" cy="941.8" r="6.9"/><circle cx="1886.2" cy="942.2" r="6.9"/><circle cx="1891" cy="942.3" r="6.9"/><circle cx="1867.8" cy="943.5" r="6.9"/><circle cx="1880" cy="944.8" r="6.9"/><circle cx="1863" cy="945.6" r="6.9"/><circle cx="1875.3" cy="945.9" r="6.9"/><circle cx="1884.8" cy="947.2" r="6.9"/><circle cx="1889.6" cy="947.3" r="6.9"/><circle cx="1871.2" cy="948.8" r="6.9"/><circle cx="1894.4" cy="948.8" r="6.9"/><circle cx="1866.4" cy="949.3" r="6.9"/><circle cx="1878" cy="950" r="6.9"/><circle cx="1861.6" cy="951.4" r="6.9"/><circle cx="1882.8" cy="951.6" r="6.9"/><circle cx="1887.5" cy="952.3" r="6.9"/><circle cx="1874.6" cy="953.8" r="6.9"/><circle cx="1869.8" cy="954.4" r="6.9"/><circle cx="1892.3" cy="954.5" r="6.9"/><circle cx="1879.4" cy="955.4" r="6.9"/><circle cx="1884.1" cy="957.1" r="6.9"/><circle cx="1865.7" cy="957.2" r="6.9"/><circle cx="1888.9" cy="958" r="6.9"/><circle cx="1860.9" cy="958.2" r="6.9"/><circle cx="1876" cy="959" r="6.9"/><circle cx="1871.2" cy="960" r="6.9"/><circle cx="1893.7" cy="960.2" r="6.9"/><circle cx="1880.7" cy="961.2" r="6.9"/><circle cx="1898.5" cy="961.6" r="6.9"/><circle cx="1885.5" cy="962.7" r="6.9"/><circle cx="1867.8" cy="963.7" r="6.9"/><circle cx="1876.6" cy="964.3" r="6.9"/><circle cx="1890.3" cy="964.5" r="6.9"/><circle cx="1863" cy="965.4" r="6.9"/><circle cx="1895.1" cy="965.6" r="6.9"/><circle cx="1881.4" cy="966.7" r="6.9"/><circle cx="1871.9" cy="966.8" r="6.9"/><circle cx="1886.2" cy="967.7" r="6.9"/><circle cx="1858.9" cy="968.3" r="6.9"/><circle cx="1867.1" cy="968.8" r="6.9"/><circle cx="1877.3" cy="969.4" r="6.9"/><circle cx="1890.3" cy="970.2" r="6.9"/><circle cx="1882.1" cy="971.6" r="6.9"/><circle cx="1873.2" cy="972.6" r="6.9"/><circle cx="1864.4" cy="973" r="6.9"/><circle cx="1894.4" cy="973.3" r="6.9"/><circle cx="1886.9" cy="974.1" r="6.9"/><circle cx="1878" cy="975.1" r="6.9"/><circle cx="1869.1" cy="975.4" r="6.9"/><circle cx="1860.3" cy="975.6" r="6.9"/><circle cx="1898.5" cy="976.2" r="6.9"/><circle cx="1882.8" cy="976.9" r="6.9"/><circle cx="1874.6" cy="978.5" r="6.9"/><circle cx="1888.2" cy="978.9" r="6.9"/><circle cx="1865.7" cy="979.2" r="6.9"/><circle cx="1893" cy="980.2" r="6.9"/><circle cx="1879.4" cy="980.4" r="6.9"/><circle cx="1860.9" cy="980.7" r="6.9"/><circle cx="1870.5" cy="981.5" r="6.9"/><circle cx="1884.1" cy="982.7" r="6.9"/><circle cx="1897.8" cy="982.7" r="6.9"/><circle cx="1876" cy="984.4" r="6.9"/><circle cx="1888.9" cy="984.6" r="6.9"/><circle cx="1867.8" cy="985.6" r="6.9"/><circle cx="1863" cy="986" r="6.9"/><circle cx="1880.7" cy="986.4" r="6.9"/><circle cx="1893" cy="987.1" r="6.9"/><circle cx="1872.5" cy="988.4" r="6.9"/><circle cx="1885.5" cy="988.9" r="6.9"/><circle cx="1859.6" cy="989.6" r="6.9"/><circle cx="1897.1" cy="989.8" r="6.9"/><circle cx="1878" cy="990.7" r="6.9"/><circle cx="1868.5" cy="991.2" r="6.9"/><circle cx="1889.6" cy="992.1" r="6.9"/><circle cx="1863.7" cy="992.3" r="6.9"/><circle cx="1882.1" cy="993.3" r="6.9"/><circle cx="1873.9" cy="993.9" r="6.9"/><circle cx="1894.4" cy="994.3" r="6.9"/><circle cx="1859.6" cy="995.7" r="6.9"/><circle cx="1878" cy="996.6" r="6.9"/><circle cx="1869.8" cy="996.7" r="6.9"/><circle cx="1884.8" cy="997.4" r="6.9"/><circle cx="1889.6" cy="998.1" r="6.9"/><circle cx="1873.9" cy="999.3" r="6.9"/><circle cx="1865.7" cy="999.6" r="6.9"/><circle cx="1894.4" cy="1000.4" r="6.9"/><circle cx="1880.7" cy="1000.9" r="6.9"/><circle cx="1860.9" cy="1001.7" r="6.9"/><circle cx="1885.5" cy="1002.2" r="6.9"/><circle cx="1870.5" cy="1002.9" r="6.9"/><circle cx="1876.6" cy="1003.9" r="6.9"/><circle cx="1890.3" cy="1004" r="6.9"/><circle cx="1865.7" cy="1005.3" r="6.9"/><circle cx="1895.1" cy="1005.5" r="6.9"/><circle cx="1881.4" cy="1006.4" r="6.9"/><circle cx="1860.9" cy="1006.9" r="6.9"/><circle cx="1886.2" cy="1007.3" r="6.9"/><circle cx="1875.3" cy="1008.6" r="6.9"/><circle cx="1870.5" cy="1008.8" r="6.9"/><circle cx="1891" cy="1009" r="6.9"/><circle cx="1865.7" cy="1010.2" r="6.9"/><circle cx="1879.4" cy="1011.6" r="6.9"/><circle cx="1884.1" cy="1011.7" r="6.9"/><circle cx="1894.4" cy="1012.7" r="6.9"/><circle cx="1874.6" cy="1013.7" r="6.9"/><circle cx="1869.8" cy="1014.1" r="6.9"/><circle cx="1888.2" cy="1014.7" r="6.9"/><circle cx="1865" cy="1015.3" r="6.9"/><circle cx="1881.4" cy="1016.1" r="6.9"/><circle cx="1892.3" cy="1017.5" r="6.9"/><circle cx="1860.3" cy="1017.5" r="6.9"/><circle cx="1876.6" cy="1018.4" r="6.9"/><circle cx="1871.9" cy="1019.7" r="6.9"/><circle cx="1883.5" cy="1020.6" r="6.9"/><circle cx="1888.2" cy="1021" r="6.9"/><circle cx="1867.8" cy="1022.5" r="6.9"/><circle cx="1878" cy="1023.4" r="6.9"/><circle cx="1863" cy="1023.5" r="6.9"/><circle cx="1873.2" cy="1024.9" r="6.9"/><circle cx="1882.8" cy="1025.6" r="6.9"/><circle cx="1887.5" cy="1026.9" r="6.9"/><circle cx="1869.1" cy="1027.6" r="6.9"/><circle cx="1878" cy="1029.1" r="6.9"/><circle cx="1864.4" cy="1029.1" r="6.9"/><circle cx="1882.8" cy="1030.6" r="6.9"/><circle cx="1873.9" cy="1031.6" r="6.9"/><circle cx="1869.1" cy="1032.6" r="6.9"/><circle cx="1886.9" cy="1033.7" r="6.9"/><circle cx="1878" cy="1034.6" r="6.9"/><circle cx="1865" cy="1036" r="6.9"/><circle cx="1882.8" cy="1036.9" r="6.9"/><circle cx="1875.3" cy="1038.9" r="6.9"/><circle cx="1870.5" cy="1039.3" r="6.9"/><circle cx="1886.2" cy="1040.5" r="6.9"/><circle cx="1879.4" cy="1041.8" r="6.9"/><circle cx="1873.2" cy="1043.4" r="6.9"/><circle cx="1883.5" cy="1044.9" r="6.9"/><circle cx="1868.5" cy="1045.3" r="6.9"/><circle cx="1878" cy="1047" r="6.9"/><circle cx="1887.5" cy="1048.2" r="6.9"/><circle cx="1882.1" cy="1050" r="6.9"/><circle cx="1874.6" cy="1050.5" r="6.9"/><circle cx="1869.8" cy="1052.5" r="6.9"/><circle cx="1878.7" cy="1053.7" r="6.9"/><circle cx="1883.5" cy="1055" r="6.9"/><circle cx="1873.9" cy="1056" r="6.9"/><circle cx="1869.1" cy="1058.3" r="6.9"/><circle cx="1878" cy="1058.8" r="6.9"/><circle cx="1873.2" cy="1060.9" r="6.9"/><circle cx="1881.4" cy="1062.6" r="6.9"/><circle cx="1886.2" cy="1064.3" r="6.9"/><circle cx="1877.3" cy="1065.8" r="6.9"/><circle cx="1872.5" cy="1067.1" r="6.9"/><circle cx="1881.4" cy="1068.4" r="6.9"/><circle cx="1886.2" cy="1070.5" r="6.9"/><circle cx="1878" cy="1073.5" r="6.9"/><circle cx="1873.9" cy="1076.2" r="6.9"/><circle cx="1878" cy="1079" r="6.9"/><circle cx="1878" cy="1084" r="6.9"/><circle cx="1880.7" cy="1088.1" r="6.9"/><circle cx="1878" cy="1093.4" r="6.9"/><circle cx="1878" cy="1099.1" r="6.9"/><circle cx="1878" cy="1105.4" r="6.9"/><circle cx="1878" cy="1111.7" r="6.9"/><circle cx="1878" cy="1119.3" r="6.9"/><circle cx="1878" cy="1127" r="6.9"/><circle cx="1878" cy="1135.3" r="6.9"/><circle cx="1878" cy="1145.1" r="6.9"/><circle cx="1878" cy="732" r="6.9"/><circle cx="1879" cy="733.5" r="6.9"/><circle cx="1878" cy="755.1" r="6.9"/><circle cx="1878" cy="771" r="6.9"/><circle cx="1878" cy="778" r="6.9"/><circle cx="1878" cy="789" r="6.9"/><circle cx="1878" cy="798" r="6.9"/><circle cx="1878" cy="1211.2" r="6.9"/></g>
</g>
<circle cx="1176.5" cy="984.4" r="6.8" fill="#595959" stroke="#000" stroke-width="2.2"/>
<circle cx="1166" cy="984.4" r="6.8" fill="#595959" stroke="#000" stroke-width="2.2"/>
<circle cx="1187" cy="984.4" r="6.8" fill="#595959" stroke="#000" stroke-width="2.2"/>
<circle cx="1237.7" cy="984.4" r="6.8" fill="#a6a6a6" stroke="#000" stroke-width="2.2"/>
<circle cx="1227.2" cy="984.4" r="6.8" fill="#a6a6a6" stroke="#000" stroke-width="2.2"/>
<circle cx="1248.2" cy="984.4" r="6.8" fill="#a6a6a6" stroke="#000" stroke-width="2.2"/>
<circle cx="1298.9" cy="984.4" r="6.8" fill="#f27226" stroke="#000" stroke-width="2.2"/>
<circle cx="1288.4" cy="984.4" r="6.8" fill="#f27226" stroke="#000" stroke-width="2.2"/>
<circle cx="1309.4" cy="984.4" r="6.8" fill="#f27226" stroke="#000" stroke-width="2.2"/>
<circle cx="1360.1" cy="984.4" r="6.8" fill="#ffa90a" stroke="#000" stroke-width="2.2"/>
<circle cx="1349.6" cy="984.4" r="6.8" fill="#ffa90a" stroke="#000" stroke-width="2.2"/>
<circle cx="1370.6" cy="984.4" r="6.8" fill="#ffa90a" stroke="#000" stroke-width="2.2"/>
<path d="M1417.2 1103.3H1454" stroke="#000" stroke-width="2.8"/>
<circle cx="1444.3" cy="1088.3" r="6.8" fill="#595959" stroke="#000" stroke-width="2.2"/>
<circle cx="1425.8" cy="1105.7" r="6.8" fill="#595959" stroke="#000" stroke-width="2.2"/>
<circle cx="1435.5" cy="1112.8" r="6.8" fill="#595959" stroke="#000" stroke-width="2.2"/>
<path d="M1478 1085.4H1514.8" stroke="#000" stroke-width="2.8"/>
<circle cx="1502.5" cy="1043.4" r="6.8" fill="#a6a6a6" stroke="#000" stroke-width="2.2"/>
<circle cx="1486.9" cy="1094.8" r="6.8" fill="#a6a6a6" stroke="#000" stroke-width="2.2"/>
<circle cx="1496.8" cy="1102.3" r="6.8" fill="#a6a6a6" stroke="#000" stroke-width="2.2"/>
<path d="M1539.4 1012.3H1576.2" stroke="#000" stroke-width="2.8"/>
<circle cx="1567.8" cy="977" r="6.8" fill="#f27226" stroke="#000" stroke-width="2.2"/>
<circle cx="1547.4" cy="1016.5" r="6.8" fill="#f27226" stroke="#000" stroke-width="2.2"/>
<circle cx="1557.8" cy="1037" r="6.8" fill="#f27226" stroke="#000" stroke-width="2.2"/>
<path d="M1600.8 941.9H1637.6" stroke="#000" stroke-width="2.8"/>
<circle cx="1628.6" cy="911.5" r="6.8" fill="#ffa90a" stroke="#000" stroke-width="2.2"/>
<circle cx="1609.7" cy="928.2" r="6.8" fill="#ffa90a" stroke="#000" stroke-width="2.2"/>
<circle cx="1619.2" cy="979.1" r="6.8" fill="#ffa90a" stroke="#000" stroke-width="2.2"/>
<path d="M1676 1127.2H1712.8" stroke="#000" stroke-width="2.8"/>
<circle cx="1683.7" cy="1126.7" r="6.8" fill="#595959" stroke="#000" stroke-width="2.2"/>
<circle cx="1694.6" cy="1129.6" r="6.8" fill="#595959" stroke="#000" stroke-width="2.2"/>
<circle cx="1704.8" cy="1123.5" r="6.8" fill="#595959" stroke="#000" stroke-width="2.2"/>
<path d="M1736.9 1113.3H1773.7" stroke="#000" stroke-width="2.8"/>
<circle cx="1744.6" cy="1114.5" r="6.8" fill="#a6a6a6" stroke="#000" stroke-width="2.2"/>
<circle cx="1754.7" cy="1120.6" r="6.8" fill="#a6a6a6" stroke="#000" stroke-width="2.2"/>
<circle cx="1765.7" cy="1105.2" r="6.8" fill="#a6a6a6" stroke="#000" stroke-width="2.2"/>
<path d="M1798.3 1063.4H1835.1" stroke="#000" stroke-width="2.8"/>
<circle cx="1826.6" cy="1032.1" r="6.8" fill="#f27226" stroke="#000" stroke-width="2.2"/>
<circle cx="1806.7" cy="1050.4" r="6.8" fill="#f27226" stroke="#000" stroke-width="2.2"/>
<circle cx="1816.9" cy="1094.6" r="6.8" fill="#f27226" stroke="#000" stroke-width="2.2"/>
<path d="M1859.2 961.8H1896" stroke="#000" stroke-width="2.8"/>
<circle cx="1887.9" cy="922.4" r="6.8" fill="#ffa90a" stroke="#000" stroke-width="2.2"/>
<circle cx="1867.2" cy="961.4" r="6.8" fill="#ffa90a" stroke="#000" stroke-width="2.2"/>
<circle cx="1877.8" cy="1003.7" r="6.8" fill="#ffa90a" stroke="#000" stroke-width="2.2"/>
<path d="M1135.25 1312.3V656.4H1913.4V1312.3" fill="none" stroke="#000" stroke-width="2.2"/>
<path d="M1125 1312.3H1914.5" stroke="#000" stroke-width="2.1"/>
<path d="M1394.6 656.4V1312.3" stroke="#000" stroke-width="1.8"/>
<path d="M1657.4 656.4V1312.3" stroke="#000" stroke-width="1.8"/>
<path d="M1125.4 820.2H1134.2" stroke="#000" stroke-width="1.6"/>
<path d="M1125.4 984.2H1134.2" stroke="#000" stroke-width="1.6"/>
<path d="M1125.4 1148.2H1134.2" stroke="#000" stroke-width="1.6"/>
<text x="1080.4" y="826.8">1.5</text>
<text x="1080.3" y="991.2">1.0</text>
<text x="1080.4" y="1155">0.5</text>
<text x="1080.9" y="1318.8">0.0</text>
<text transform="translate(1067.2 1225.2) rotate(-90)" font-size="28.1">RNAPIIS2P ratio (in / outside damage)</text>
<text x="1027.8" y="683.4">post UV</text>
<text x="1144.8" y="683.4">0 h</text>
<text x="1403.3" y="683.4">1 h</text>
<text x="1668.3" y="683.4">2 h</text>
<path d="M1176.5 1313V1323.3" stroke="#000" stroke-width="1.8"/>
<path d="M1237.7 1313V1323.3" stroke="#000" stroke-width="1.8"/>
<path d="M1298.8 1313V1323.3" stroke="#000" stroke-width="1.8"/>
<path d="M1360.1 1313V1323.3" stroke="#000" stroke-width="1.8"/>
<path d="M1435.5 1313V1323.3" stroke="#000" stroke-width="1.8"/>
<path d="M1496.4 1313V1323.3" stroke="#000" stroke-width="1.8"/>
<path d="M1557.9 1313V1323.3" stroke="#000" stroke-width="1.8"/>
<path d="M1618.9 1313V1323.3" stroke="#000" stroke-width="1.8"/>
<path d="M1694.4 1313V1323.3" stroke="#000" stroke-width="1.8"/>
<path d="M1755.2 1313V1323.3" stroke="#000" stroke-width="1.8"/>
<path d="M1816.6 1313V1323.3" stroke="#000" stroke-width="1.8"/>
<path d="M1877.7 1313V1323.3" stroke="#000" stroke-width="1.8"/>
<text x="1062.2" y="1357.1">VCPi</text>
<circle cx="1236.4" cy="1347.6" r="6.5" fill="#000"/>
<circle cx="1361.6" cy="1347.6" r="6.5" fill="#000"/>
<circle cx="1496.3" cy="1347.6" r="6.5" fill="#000"/>
<circle cx="1621.3" cy="1347.6" r="6.5" fill="#000"/>
<circle cx="1756.5" cy="1347.6" r="6.5" fill="#000"/>
<circle cx="1877.7" cy="1347.6" r="6.5" fill="#000"/>
<path d="M1165.2 1370.6H1249.8" stroke="#000" stroke-width="1.8"/>
<path d="M1287.2 1370.6H1371.9" stroke="#000" stroke-width="1.8"/>
<path d="M1423.9 1370.6H1508.3" stroke="#000" stroke-width="1.8"/>
<path d="M1546.2 1370.6H1630.6" stroke="#000" stroke-width="1.8"/>
<path d="M1682.4 1370.6H1767" stroke="#000" stroke-width="1.8"/>
<path d="M1804.9 1370.6H1889.7" stroke="#000" stroke-width="1.8"/>
<text x="1186.7" y="1412.2">WT</text>
<text x="1444.8" y="1412.2">WT</text>
<text x="1703.9" y="1412.2">WT</text>
<text x="1274.8" y="1412.2">XPD<tspan x="1332.7" y="1401.9" font-size="16.4">G675R</tspan></text>
<text x="1533.9" y="1412.2">XPD<tspan x="1591.8" y="1401.9" font-size="16.4">G675R</tspan></text>
<text x="1793" y="1412.2">XPD<tspan x="1850.9" y="1401.9" font-size="16.4">G675R</tspan></text>
<path d="M1154 1435.8H1904.5" stroke="#000" stroke-width="1.8"/>
<text x="1460.9" y="1467">Fibroblasts</text>
<path d="M1557.3 715.6H1620.4" stroke="#000" stroke-width="2.2"/>
<text x="1578.4" y="718.2" font-size="26.5">**</text>
<path d="M1433.8 747.3H1557.6" stroke="#000" stroke-width="2.2"/>
<text x="1479.8" y="750.1" font-size="26.5">***</text>
<path d="M1433.2 783.4H1496" stroke="#000" stroke-width="2.2"/>
<text x="1450.8" y="777.8" font-size="24.6">ns</text>
<path d="M1817 711.2H1878.9" stroke="#000" stroke-width="2.2"/>
<text x="1832.9" y="708.7" font-size="26.5">***</text>
<path d="M1695.1 742.8H1817.3" stroke="#000" stroke-width="2.2"/>
<text x="1745.5" y="741.2" font-size="26.5">**</text>
<path d="M1694.6 778.1H1756.5" stroke="#000" stroke-width="2.2"/>
<text x="1711.8" y="772.2" font-size="24.6">ns</text>
</svg></body></html>
